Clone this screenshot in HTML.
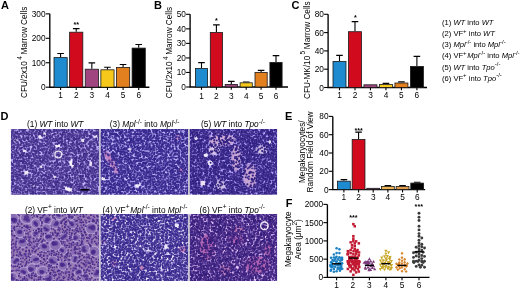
<!DOCTYPE html>
<html><head><meta charset="utf-8"><style>
html,body{margin:0;padding:0;background:#fff;width:520px;height:289px;overflow:hidden}
svg{display:block;font-family:"Liberation Sans", sans-serif;filter:blur(0.3px)}
</style></head><body>
<svg width="520" height="289" viewBox="0 0 520 289">
<defs><filter id="soft" x="-5%" y="-5%" width="110%" height="110%" color-interpolation-filters="sRGB"><feGaussianBlur stdDeviation="0.55"/><feColorMatrix type="saturate" values="1.0"/></filter><filter id="pb" x="-50%" y="-50%" width="200%" height="200%"><feGaussianBlur stdDeviation="1.0"/></filter><filter id="pb2" x="-50%" y="-50%" width="200%" height="200%"><feGaussianBlur stdDeviation="0.5"/></filter><clipPath id="c1"><rect x="10.9" y="129" width="88.3" height="65.7"/></clipPath><filter id="m1" x="0" y="0" width="1" height="1" color-interpolation-filters="sRGB"><feTurbulence type="fractalNoise" baseFrequency="0.28" numOctaves="2" seed="5"/><feColorMatrix type="matrix" values="0 0 0 0 0.478  0 0 0 0 0.384  0 0 0 0 0.722  3.0 0 0 0 -1.2"/></filter><clipPath id="c3"><rect x="100.4" y="129" width="87.9" height="65.7"/></clipPath><filter id="m3" x="0" y="0" width="1" height="1" color-interpolation-filters="sRGB"><feTurbulence type="fractalNoise" baseFrequency="0.28" numOctaves="2" seed="15"/><feColorMatrix type="matrix" values="0 0 0 0 0.416  0 0 0 0 0.345  0 0 0 0 0.722  3.0 0 0 0 -1.2"/></filter><clipPath id="c5"><rect x="189.5" y="129" width="87.6" height="65.7"/></clipPath><filter id="m5" x="0" y="0" width="1" height="1" color-interpolation-filters="sRGB"><feTurbulence type="fractalNoise" baseFrequency="0.28" numOctaves="2" seed="25"/><feColorMatrix type="matrix" values="0 0 0 0 0.369  0 0 0 0 0.290  0 0 0 0 0.675  3.0 0 0 0 -1.1"/></filter><clipPath id="c2"><rect x="10.9" y="214.1" width="88.3" height="66.8"/></clipPath><filter id="m2" x="0" y="0" width="1" height="1" color-interpolation-filters="sRGB"><feTurbulence type="fractalNoise" baseFrequency="0.28" numOctaves="2" seed="10"/><feColorMatrix type="matrix" values="0 0 0 0 0.541  0 0 0 0 0.408  0 0 0 0 0.722  3.0 0 0 0 -1.3"/></filter><clipPath id="c4"><rect x="100.4" y="214.1" width="87.9" height="66.8"/></clipPath><filter id="m4" x="0" y="0" width="1" height="1" color-interpolation-filters="sRGB"><feTurbulence type="fractalNoise" baseFrequency="0.28" numOctaves="2" seed="20"/><feColorMatrix type="matrix" values="0 0 0 0 0.431  0 0 0 0 0.361  0 0 0 0 0.737  3.0 0 0 0 -1.2"/></filter><clipPath id="c6"><rect x="189.5" y="214.1" width="87.6" height="66.8"/></clipPath><filter id="m6" x="0" y="0" width="1" height="1" color-interpolation-filters="sRGB"><feTurbulence type="fractalNoise" baseFrequency="0.28" numOctaves="2" seed="30"/><feColorMatrix type="matrix" values="0 0 0 0 0.361  0 0 0 0 0.267  0 0 0 0 0.643  3.0 0 0 0 -1.1"/></filter></defs>
<g clip-path="url(#c1)"><g filter="url(#soft)">
<rect x="10.9" y="129" width="88.3" height="65.7" fill="#c2b3f9"/>
<rect x="10.9" y="129" width="88.3" height="65.7" filter="url(#m1)"/>
<ellipse cx="57.5" cy="146" rx="2.8" ry="1.7" fill="#f6f2fc" filter="url(#pb2)" transform="rotate(0 57.5 146)"/>
<ellipse cx="70.8" cy="162.5" rx="1.5" ry="3.8" fill="#f6f2fc" filter="url(#pb2)" transform="rotate(0 70.8 162.5)"/>
<ellipse cx="72.5" cy="166" rx="1.8" ry="1.5" fill="#f6f2fc" filter="url(#pb2)" transform="rotate(0 72.5 166)"/>
<ellipse cx="26.5" cy="172.5" rx="2.8" ry="2.2" fill="#eee8f8" filter="url(#pb2)" transform="rotate(-35 26.5 172.5)"/>
<ellipse cx="68.5" cy="189.5" rx="4.0" ry="2.4" fill="#f6f2fc" filter="url(#pb2)" transform="rotate(25 68.5 189.5)"/>
<ellipse cx="40.3" cy="136.7" rx="1.8" ry="2.2" fill="#eee8f8" filter="url(#pb2)" transform="rotate(0 40.3 136.7)"/>
<ellipse cx="91" cy="164" rx="1.8" ry="2.8" fill="#e8e0f6" filter="url(#pb2)" transform="rotate(0 91 164)"/>
<ellipse cx="96" cy="136.7" rx="2.2" ry="1.8" fill="#e8e0f6" filter="url(#pb2)" transform="rotate(0 96 136.7)"/>
<ellipse cx="15.6" cy="140.6" rx="2.0" ry="1.8" fill="#e8e0f6" filter="url(#pb2)" transform="rotate(0 15.6 140.6)"/>
<ellipse cx="41.6" cy="166.6" rx="1.7" ry="1.7" fill="#e8e0f6" filter="url(#pb2)" transform="rotate(0 41.6 166.6)"/>
<ellipse cx="83" cy="140.6" rx="1.8" ry="1.8" fill="#e8e0f6" filter="url(#pb2)" transform="rotate(0 83 140.6)"/>
<ellipse cx="33.8" cy="186" rx="1.8" ry="1.6" fill="#e8e0f6" filter="url(#pb2)" transform="rotate(0 33.8 186)"/>
<ellipse cx="24.7" cy="151" rx="2.0" ry="1.6" fill="#e8e0f6" filter="url(#pb2)" transform="rotate(0 24.7 151)"/>
<ellipse cx="54.5" cy="177" rx="1.6" ry="1.6" fill="#e4dcf4" filter="url(#pb2)" transform="rotate(0 54.5 177)"/>
<ellipse cx="44" cy="134" rx="2.5" ry="1.2" fill="#e8e0f6" filter="url(#pb2)" transform="rotate(0 44 134)"/>
<ellipse cx="88" cy="152" rx="1.5" ry="1.5" fill="#e4dcf4" filter="url(#pb2)" transform="rotate(0 88 152)"/>
<ellipse cx="78" cy="176" rx="1.5" ry="1.5" fill="#e4dcf4" filter="url(#pb2)" transform="rotate(0 78 176)"/>
<path d="M55.7 127.2h0M58.1 127.4h0M14.9 128.9h0M18.9 128.9h0M40.0 130.2h0M85.7 129.5h0M15.7 132.2h0M17.5 131.5h0M19.2 130.9h0M44.5 130.9h0M80.1 133.6h0M84.0 133.6h0M84.9 135.2h0M61.1 137.3h0M31.4 139.0h0M53.7 138.6h0M56.6 138.7h0M62.0 139.0h0M48.3 139.6h0M101.7 139.8h0M17.8 142.2h0M68.1 142.2h0M68.7 143.7h0M23.8 145.0h0M23.8 146.5h0M26.7 146.6h0M37.8 146.7h0M83.4 146.1h0M16.5 149.3h0M94.4 148.0h0M16.8 150.6h0M85.2 150.2h0M38.2 151.2h0M69.3 151.5h0M96.2 151.5h0M24.3 152.9h0M45.2 154.2h0M76.8 153.5h0M85.2 153.7h0M24.2 155.6h0M38.5 155.1h0M41.6 157.4h0M79.3 157.3h0M15.4 159.0h0M82.8 157.7h0M87.5 158.8h0M94.8 159.0h0M15.7 160.6h0M25.9 159.6h0M58.7 159.8h0M78.4 160.9h0M100.9 159.4h0M51.8 162.1h0M80.5 161.5h0M22.5 163.3h0M34.0 163.8h0M52.0 166.2h0M52.5 165.9h0M100.4 164.8h0M42.9 166.3h0M74.5 169.4h0M39.2 169.7h0M69.1 170.3h0M29.2 171.3h0M32.0 172.4h0M89.2 174.1h0M48.9 176.3h0M74.0 174.7h0M13.2 177.1h0M72.5 177.7h0M33.0 178.1h0M38.0 181.3h0M76.4 181.4h0M93.2 181.4h0M35.9 181.9h0M46.6 181.9h0M69.0 182.2h0M12.2 184.2h0M19.7 184.1h0M12.1 186.1h0M29.9 187.8h0M79.9 187.2h0M17.8 188.6h0M43.2 189.3h0M51.1 189.6h0M64.2 188.2h0M89.1 189.0h0M27.8 190.6h0M92.6 192.0h0M12.5 194.0h0M24.7 194.9h0M38.7 193.6h0M60.9 193.7h0M16.8 196.7h0M59.9 196.7h0M69.2 196.6h0M73.1 195.9h0" stroke="#3e2c88" stroke-width="1.75" stroke-linecap="round" fill="none"/>
<path d="M15.8 127.3h0M70.4 128.2h0M77.3 128.9h0M91.9 127.9h0M32.2 130.9h0M87.5 131.4h0M65.9 132.8h0M98.4 132.4h0M34.5 134.3h0M93.9 134.1h0M81.3 136.4h0M40.9 139.5h0M67.4 139.1h0M11.9 143.7h0M33.2 142.6h0M44.3 143.5h0M64.5 143.0h0M76.3 143.5h0M77.9 143.1h0M96.0 142.5h0M53.9 145.3h0M60.9 145.5h0M69.2 145.8h0M90.8 145.1h0M50.5 146.2h0M63.1 149.2h0M69.0 150.5h0M70.2 150.5h0M74.6 150.9h0M50.9 153.8h0M89.3 153.2h0M16.4 155.3h0M25.0 156.1h0M57.3 157.6h0M30.3 158.0h0M31.3 159.8h0M99.7 160.0h0M15.2 161.9h0M54.7 162.8h0M44.5 163.7h0M75.2 164.0h0M13.7 166.0h0M19.8 165.3h0M45.7 166.1h0M75.0 166.0h0M85.2 165.4h0M52.8 166.5h0M45.9 168.5h0M93.9 168.9h0M99.0 168.9h0M65.2 170.5h0M81.8 169.6h0M20.0 172.2h0M46.7 172.4h0M98.6 171.4h0M38.0 175.4h0M62.0 175.8h0M52.5 176.8h0M97.6 176.7h0M27.1 178.8h0M9.9 179.9h0M21.8 180.8h0M74.8 181.4h0M18.8 182.2h0M66.6 183.1h0M83.1 182.1h0M100.2 183.4h0M16.6 184.9h0M31.7 185.7h0M82.8 186.0h0M71.7 187.1h0M97.1 187.1h0M52.8 189.6h0M77.3 189.9h0M20.4 190.5h0M31.7 191.1h0M38.3 190.0h0M23.7 192.7h0M20.5 193.5h0M27.8 193.8h0M93.2 195.4h0M96.7 195.1h0" stroke="#4c3a94" stroke-width="1.75" stroke-linecap="round" fill="none"/>
<path d="M27.0 127.2h0M47.7 127.6h0M63.3 127.9h0M72.6 128.7h0M78.8 128.5h0M93.3 127.3h0M97.2 127.6h0M98.3 127.4h0M101.4 128.5h0M22.4 130.2h0M43.6 129.9h0M64.5 129.6h0M66.2 130.4h0M73.3 129.8h0M88.9 129.7h0M96.3 129.5h0M26.8 132.2h0M39.6 131.0h0M40.7 131.7h0M63.3 131.6h0M64.1 131.3h0M75.8 131.7h0M17.3 133.1h0M42.5 134.0h0M51.7 132.3h0M60.2 133.5h0M64.3 132.5h0M86.3 133.7h0M97.5 133.3h0M23.2 135.5h0M24.6 134.0h0M50.2 135.2h0M52.3 135.1h0M60.4 134.2h0M68.2 135.5h0M73.9 135.4h0M81.5 135.5h0M83.2 135.0h0M89.9 135.7h0M96.6 134.0h0M28.2 137.2h0M31.8 136.1h0M33.4 137.3h0M35.8 136.6h0M46.8 136.6h0M62.3 136.8h0M77.6 136.4h0M84.1 136.6h0M98.8 137.1h0M16.4 138.5h0M19.9 137.6h0M44.1 138.8h0M50.5 137.9h0M65.0 137.5h0M71.4 137.5h0M73.3 138.8h0M79.8 137.7h0M91.8 137.3h0M99.8 137.4h0M11.4 140.5h0M27.7 139.4h0M65.3 139.6h0M74.3 140.2h0M75.6 139.1h0M87.7 140.1h0M88.7 139.2h0M99.1 140.7h0M30.3 141.5h0M37.5 141.8h0M47.4 141.3h0M60.2 141.8h0M61.9 141.2h0M62.6 141.2h0M68.8 140.9h0M13.3 142.9h0M23.6 143.1h0M50.9 143.7h0M81.8 142.8h0M83.8 143.0h0M91.0 143.2h0M97.6 143.8h0M16.0 145.0h0M35.4 144.4h0M72.3 145.4h0M78.0 144.5h0M93.1 144.1h0M97.5 145.2h0M12.0 146.7h0M17.3 147.0h0M22.1 147.4h0M38.5 145.9h0M46.7 145.8h0M70.5 146.5h0M77.4 146.4h0M91.6 147.6h0M11.3 147.8h0M24.3 148.6h0M28.2 148.7h0M32.8 148.8h0M35.3 147.9h0M41.9 148.9h0M44.1 148.5h0M60.9 148.8h0M29.1 149.4h0M35.8 150.4h0M39.1 150.3h0M42.4 150.0h0M60.1 150.8h0M72.5 149.9h0M78.3 149.7h0M12.8 152.1h0M17.6 152.5h0M52.7 152.1h0M56.3 152.1h0M61.6 152.3h0M63.7 151.5h0M76.2 152.6h0M100.7 151.2h0M36.0 152.9h0M39.9 153.3h0M54.6 154.1h0M57.4 154.3h0M61.1 152.7h0M65.6 154.3h0M68.9 153.7h0M74.5 152.9h0M50.3 155.0h0M54.5 154.7h0M98.0 154.8h0M100.4 155.3h0M12.2 156.3h0M16.4 157.2h0M46.5 156.6h0M53.2 157.4h0M89.3 156.7h0M97.7 156.2h0M17.4 158.5h0M32.0 159.1h0M44.2 158.1h0M47.5 157.8h0M49.8 158.6h0M56.4 158.6h0M58.8 157.9h0M89.4 159.3h0M100.7 158.5h0M40.7 160.8h0M65.7 159.8h0M80.4 159.4h0M20.3 161.4h0M25.0 161.7h0M33.6 161.8h0M36.1 162.5h0M38.1 161.9h0M47.7 161.5h0M57.1 161.7h0M79.0 161.4h0M86.5 161.9h0M24.1 163.7h0M40.8 164.4h0M57.2 162.9h0M58.1 163.9h0M60.7 163.8h0M66.0 163.4h0M68.4 164.1h0M76.0 164.4h0M82.1 163.2h0M97.2 164.1h0M13.0 165.0h0M27.6 165.1h0M32.9 165.8h0M49.4 164.8h0M58.3 164.8h0M64.4 165.0h0M94.6 165.1h0M11.9 167.9h0M17.4 166.5h0M31.2 166.5h0M37.6 166.6h0M58.0 167.7h0M80.0 166.4h0M85.9 167.0h0M93.3 167.9h0M12.6 168.0h0M14.0 169.5h0M20.1 169.2h0M36.2 169.3h0M41.2 169.2h0M46.8 168.6h0M49.7 168.7h0M52.6 168.4h0M61.2 168.5h0M79.1 169.1h0M19.4 169.8h0M22.5 169.9h0M30.4 171.1h0M51.6 169.9h0M82.6 170.5h0M84.8 170.4h0M12.3 172.4h0M18.7 171.5h0M22.5 172.5h0M36.0 172.4h0M38.3 172.4h0M44.0 171.5h0M46.3 172.7h0M55.5 172.9h0M61.6 172.8h0M75.3 172.4h0M77.3 171.8h0M85.6 171.9h0M91.6 172.2h0M94.3 172.2h0M20.2 174.5h0M35.6 173.6h0M56.8 174.1h0M59.4 173.6h0M61.8 173.7h0M64.6 174.5h0M66.8 173.4h0M69.2 173.6h0M80.5 173.1h0M85.8 174.1h0M87.8 174.1h0M93.5 173.9h0M99.3 174.3h0M13.4 176.2h0M15.4 176.3h0M16.9 174.8h0M54.9 174.7h0M56.5 174.8h0M72.1 174.9h0M82.9 175.5h0M17.2 176.7h0M29.1 176.7h0M41.4 176.9h0M47.0 176.7h0M48.6 176.8h0M67.1 177.8h0M85.9 176.4h0M9.6 178.6h0M35.3 178.8h0M53.1 178.4h0M58.6 178.8h0M81.0 179.5h0M82.6 178.4h0M89.4 178.6h0M93.3 178.6h0M96.5 179.6h0M97.7 178.7h0M17.3 180.0h0M26.0 180.5h0M39.0 181.1h0M45.1 180.1h0M51.0 180.8h0M53.6 181.1h0M55.3 181.2h0M59.0 180.1h0M67.9 180.7h0M48.2 183.2h0M50.7 182.9h0M55.1 182.7h0M74.2 183.1h0M76.8 182.7h0M94.0 182.4h0M24.2 183.6h0M70.6 183.9h0M81.6 184.3h0M20.3 185.6h0M22.5 185.8h0M29.5 186.0h0M45.0 185.5h0M50.7 185.8h0M55.5 184.9h0M84.9 185.6h0M92.3 186.3h0M99.0 185.3h0M17.5 187.5h0M34.3 187.9h0M41.1 187.2h0M43.8 188.1h0M58.1 186.6h0M77.3 186.7h0M82.6 186.9h0M88.3 186.6h0M95.5 188.2h0M100.2 186.7h0M20.7 189.7h0M37.2 189.6h0M48.9 189.7h0M63.0 188.4h0M13.5 190.0h0M17.6 190.8h0M25.2 191.6h0M54.9 190.0h0M72.7 190.3h0M78.9 190.3h0M90.0 190.4h0M93.7 190.7h0M16.4 192.3h0M22.5 193.0h0M25.8 192.1h0M32.1 192.9h0M33.0 192.5h0M35.0 192.3h0M44.6 193.0h0M51.2 191.6h0M62.3 192.4h0M77.9 192.7h0M81.0 192.0h0M86.1 192.7h0M97.8 192.7h0M15.0 194.8h0M23.1 194.5h0M30.8 193.8h0M33.8 193.8h0M43.5 194.5h0M45.3 194.5h0M52.6 194.7h0M64.7 194.6h0M74.7 194.4h0M84.1 194.1h0M12.3 196.0h0M23.7 196.7h0M37.0 196.5h0M79.4 196.5h0M94.5 196.2h0M98.1 195.5h0" stroke="#3e2c88" stroke-width="2.0" stroke-linecap="round" fill="none"/>
<path d="M18.3 127.9h0M21.1 128.7h0M28.5 127.6h0M41.1 128.8h0M44.1 127.5h0M46.9 127.6h0M95.3 127.8h0M10.4 128.9h0M47.4 130.5h0M56.8 130.2h0M58.8 129.9h0M80.5 130.4h0M89.7 129.8h0M94.5 128.9h0M11.5 131.8h0M22.5 131.6h0M68.5 131.1h0M71.4 131.2h0M92.0 131.4h0M24.6 132.5h0M34.3 133.3h0M46.7 133.1h0M55.0 133.7h0M57.6 133.3h0M76.1 132.4h0M78.4 132.6h0M91.7 133.5h0M101.3 132.4h0M11.8 134.8h0M41.6 134.8h0M55.8 134.1h0M65.1 134.7h0M75.5 134.8h0M26.3 137.3h0M48.7 135.9h0M50.2 136.8h0M55.5 136.4h0M57.5 136.8h0M65.1 136.3h0M79.8 136.8h0M11.8 138.1h0M14.1 138.6h0M25.9 138.4h0M36.2 137.6h0M45.2 138.1h0M55.4 138.4h0M66.7 138.8h0M88.4 138.9h0M98.8 138.7h0M12.9 139.7h0M23.5 139.6h0M31.6 140.1h0M33.4 139.5h0M44.6 140.6h0M59.3 139.7h0M62.4 140.3h0M71.5 140.5h0M80.1 140.2h0M95.3 140.6h0M49.4 141.9h0M51.3 142.0h0M65.2 141.2h0M79.1 140.7h0M81.0 142.4h0M89.6 142.1h0M14.6 143.4h0M18.2 143.3h0M25.4 142.5h0M26.7 143.6h0M39.5 143.0h0M48.9 143.3h0M59.6 143.0h0M65.8 142.8h0M79.9 143.2h0M88.5 144.1h0M93.8 143.9h0M37.3 145.0h0M39.4 145.7h0M44.5 145.6h0M50.2 145.8h0M68.1 145.4h0M81.8 145.1h0M83.1 145.8h0M98.6 144.9h0M101.5 145.6h0M18.9 147.0h0M52.5 147.2h0M54.7 147.1h0M62.8 147.3h0M68.6 146.4h0M80.4 146.0h0M99.6 147.4h0M9.8 148.8h0M14.7 147.8h0M25.6 149.1h0M29.3 148.2h0M45.4 149.0h0M54.3 148.0h0M71.1 148.1h0M84.3 149.2h0M89.6 148.4h0M15.0 150.6h0M31.8 150.4h0M33.0 150.3h0M44.1 150.0h0M58.9 150.8h0M79.2 150.8h0M87.6 149.4h0M97.0 150.8h0M99.2 150.0h0M42.0 150.9h0M43.5 152.3h0M48.9 152.0h0M66.3 151.8h0M80.8 151.9h0M89.0 152.3h0M17.8 153.0h0M32.8 153.8h0M43.1 152.9h0M60.6 153.4h0M71.8 154.3h0M80.7 153.1h0M93.6 152.7h0M97.7 153.7h0M11.2 155.1h0M35.1 154.9h0M36.7 155.8h0M44.8 155.1h0M61.8 155.8h0M64.0 155.7h0M80.7 155.2h0M90.2 155.6h0M19.1 157.0h0M31.2 156.1h0M51.3 156.7h0M54.9 156.4h0M74.5 157.5h0M81.3 156.9h0M20.7 157.7h0M26.9 158.8h0M45.9 158.5h0M57.8 159.4h0M63.1 159.2h0M67.9 158.7h0M81.6 158.9h0M90.3 159.0h0M39.3 160.3h0M46.7 159.5h0M53.7 159.6h0M59.6 159.6h0M63.8 159.6h0M85.0 159.5h0M16.6 161.3h0M29.2 162.7h0M59.7 162.7h0M61.8 162.1h0M82.5 161.1h0M100.4 162.7h0M43.4 163.3h0M52.5 163.1h0M77.8 163.7h0M83.5 164.1h0M99.0 163.5h0M10.6 165.8h0M21.8 165.8h0M36.2 164.6h0M46.8 164.5h0M55.0 165.3h0M68.4 164.5h0M78.0 164.6h0M83.0 165.1h0M95.5 166.1h0M14.3 167.2h0M29.9 166.7h0M38.4 166.4h0M63.9 167.2h0M78.6 167.1h0M25.2 168.5h0M100.7 169.0h0M11.8 169.9h0M16.9 171.2h0M34.5 171.2h0M45.9 170.3h0M50.7 170.3h0M54.1 169.7h0M55.9 169.6h0M57.4 171.3h0M68.6 170.2h0M73.7 170.8h0M40.9 172.2h0M51.7 172.5h0M65.8 171.7h0M10.5 173.9h0M13.9 174.0h0M28.9 174.4h0M42.0 173.2h0M43.2 174.4h0M72.1 174.3h0M95.5 173.0h0M12.1 176.1h0M30.2 174.9h0M33.0 174.9h0M35.0 176.4h0M36.9 176.0h0M57.6 176.0h0M93.8 175.5h0M97.4 175.9h0M29.9 176.8h0M34.1 176.5h0M38.7 177.6h0M51.0 177.3h0M63.1 177.5h0M69.4 177.4h0M16.5 178.1h0M41.3 179.0h0M55.5 178.8h0M60.2 179.5h0M27.6 179.8h0M61.4 180.4h0M63.1 180.1h0M78.5 181.1h0M90.0 180.0h0M92.2 180.4h0M16.2 182.6h0M26.8 181.8h0M29.7 182.6h0M39.8 182.9h0M41.1 183.0h0M43.6 182.7h0M59.8 183.1h0M64.0 182.8h0M79.8 183.2h0M81.7 182.5h0M86.4 182.0h0M87.3 182.3h0M94.9 181.5h0M18.2 183.2h0M21.4 184.1h0M32.2 183.3h0M51.6 184.5h0M55.0 183.3h0M61.3 184.6h0M26.1 185.0h0M63.1 185.1h0M74.6 186.3h0M79.7 185.1h0M88.8 186.3h0M90.4 186.1h0M10.5 187.1h0M13.2 186.8h0M21.0 188.0h0M27.7 187.7h0M47.1 186.8h0M74.2 186.9h0M86.5 188.1h0M91.5 187.1h0M24.7 189.5h0M35.1 189.4h0M39.9 189.7h0M94.7 188.3h0M99.9 189.7h0M11.0 191.1h0M29.6 190.8h0M41.8 190.5h0M43.7 190.1h0M52.3 191.0h0M57.0 191.6h0M59.7 190.3h0M64.6 190.5h0M66.3 191.4h0M73.7 191.2h0M75.9 191.3h0M20.2 192.6h0M40.0 193.1h0M49.0 192.5h0M54.6 192.3h0M57.7 192.4h0M68.1 192.5h0M18.9 194.9h0M48.1 194.8h0M71.2 194.2h0M88.2 193.7h0M92.6 193.7h0M20.8 195.8h0M30.1 195.6h0M48.0 195.2h0M49.6 195.4h0M74.4 196.6h0M76.1 196.0h0M81.0 196.1h0M87.2 195.7h0M90.7 196.1h0" stroke="#4c3a94" stroke-width="2.0" stroke-linecap="round" fill="none"/>
<path d="M10.5 128.8h0M60.1 128.4h0M71.8 128.5h0M76.2 128.5h0M81.5 127.4h0M83.1 127.2h0M87.8 128.0h0M88.4 128.9h0M25.6 129.2h0M30.2 129.3h0M31.6 129.7h0M44.9 128.9h0M49.2 130.2h0M56.1 130.4h0M61.9 129.1h0M62.8 129.8h0M68.5 129.9h0M71.6 129.9h0M74.1 128.9h0M77.2 130.0h0M82.2 129.6h0M29.4 131.7h0M36.8 131.7h0M42.5 132.1h0M50.6 131.1h0M57.6 132.0h0M66.7 132.0h0M78.8 130.6h0M86.2 132.0h0M90.5 131.9h0M96.2 132.3h0M97.4 132.3h0M11.8 132.5h0M31.5 132.6h0M35.9 133.2h0M62.7 133.1h0M86.7 133.2h0M93.5 133.9h0M94.8 132.9h0M14.3 135.3h0M17.9 133.9h0M29.9 134.6h0M32.0 135.2h0M38.7 134.4h0M44.4 135.6h0M47.1 134.5h0M54.1 134.4h0M58.4 135.3h0M68.9 134.7h0M87.7 135.3h0M98.4 134.7h0M100.9 134.5h0M11.5 136.1h0M16.9 136.9h0M23.5 137.2h0M36.7 136.5h0M42.2 135.8h0M72.1 136.0h0M76.5 136.6h0M87.4 136.0h0M90.0 136.6h0M27.6 138.0h0M67.9 138.8h0M84.3 137.4h0M86.1 139.0h0M96.3 138.6h0M19.7 140.1h0M28.5 139.2h0M52.6 139.6h0M56.2 140.0h0M96.3 140.3h0M12.5 141.4h0M20.9 141.2h0M21.8 141.9h0M29.0 141.0h0M34.2 142.3h0M36.0 140.8h0M42.6 140.9h0M46.0 141.4h0M57.6 141.1h0M93.8 141.7h0M100.2 142.1h0M21.3 143.0h0M37.3 142.6h0M72.1 144.0h0M73.2 142.8h0M100.1 142.5h0M10.7 144.8h0M20.5 145.2h0M41.4 145.7h0M45.9 145.2h0M52.0 144.8h0M57.5 144.1h0M61.7 144.9h0M79.2 144.2h0M85.8 145.8h0M90.2 145.3h0M94.5 144.3h0M90.0 146.7h0M95.3 146.9h0M17.2 147.9h0M20.0 148.7h0M21.2 148.2h0M47.1 149.0h0M57.4 148.8h0M58.6 148.1h0M69.4 148.9h0M71.7 148.6h0M74.4 147.7h0M79.6 149.1h0M99.7 147.8h0M11.2 150.3h0M21.7 150.5h0M40.6 150.0h0M49.6 149.9h0M54.6 149.7h0M75.2 150.3h0M82.9 149.7h0M88.9 149.9h0M16.4 151.5h0M20.9 151.4h0M34.4 151.1h0M38.8 152.6h0M46.7 151.7h0M50.7 151.9h0M92.2 151.4h0M18.4 153.3h0M35.3 153.7h0M45.6 152.9h0M49.1 153.2h0M55.9 152.7h0M87.0 153.7h0M91.6 154.2h0M12.7 154.6h0M28.1 155.2h0M33.1 154.4h0M55.9 155.3h0M66.4 155.0h0M68.0 154.7h0M72.6 155.0h0M80.1 155.9h0M83.7 155.1h0M85.9 155.3h0M93.0 154.7h0M95.5 154.8h0M14.5 157.0h0M26.0 156.3h0M33.6 156.2h0M62.1 156.4h0M63.1 157.0h0M83.6 156.7h0M85.8 157.0h0M91.8 156.3h0M40.0 158.7h0M65.8 158.3h0M74.9 158.6h0M79.1 158.6h0M96.9 157.7h0M98.7 158.5h0M13.9 160.3h0M17.3 160.5h0M19.5 160.8h0M23.9 161.1h0M28.7 160.3h0M42.9 160.2h0M43.8 159.8h0M52.1 159.4h0M56.7 160.2h0M68.3 159.5h0M84.0 160.2h0M86.6 160.9h0M92.0 160.6h0M13.9 162.1h0M26.2 162.8h0M40.3 161.7h0M66.2 161.5h0M67.4 162.4h0M88.3 162.1h0M95.3 161.6h0M10.7 163.0h0M26.2 163.4h0M29.1 163.9h0M35.1 163.4h0M39.9 164.2h0M49.2 163.1h0M50.9 163.3h0M73.2 163.9h0M81.0 164.2h0M88.4 163.0h0M93.3 163.4h0M18.7 165.0h0M24.3 166.2h0M25.2 166.0h0M56.8 165.4h0M60.2 165.0h0M87.5 165.1h0M25.3 167.7h0M27.8 167.4h0M35.6 167.5h0M45.6 167.2h0M56.2 166.3h0M70.2 166.8h0M74.4 166.7h0M97.8 167.4h0M100.1 167.0h0M23.4 168.2h0M31.5 168.1h0M33.4 168.7h0M43.1 168.4h0M57.4 168.5h0M62.9 169.1h0M70.2 167.9h0M73.6 168.5h0M87.1 169.6h0M92.1 169.0h0M96.1 169.5h0M36.4 170.8h0M61.3 170.6h0M76.5 170.5h0M77.4 170.4h0M87.8 171.3h0M94.7 170.4h0M97.2 169.6h0M99.4 171.0h0M15.7 172.7h0M53.0 171.3h0M70.4 172.9h0M77.9 172.7h0M12.3 173.0h0M17.3 174.3h0M22.3 173.4h0M48.6 174.5h0M53.5 173.3h0M55.3 174.4h0M73.6 173.2h0M76.0 174.5h0M42.5 175.8h0M45.9 175.8h0M69.4 175.8h0M85.9 175.9h0M88.6 174.9h0M92.0 175.6h0M99.6 175.0h0M21.8 176.5h0M77.5 177.3h0M79.9 176.4h0M80.7 177.8h0M92.3 176.8h0M98.9 176.4h0M18.2 178.2h0M24.4 178.8h0M31.8 179.2h0M37.7 179.6h0M44.6 178.4h0M47.6 178.4h0M56.4 178.8h0M68.7 179.6h0M70.3 178.4h0M72.6 179.5h0M75.0 178.7h0M57.1 181.1h0M72.4 180.8h0M85.4 181.1h0M96.3 180.3h0M25.5 182.2h0M34.1 183.1h0M36.4 182.6h0M44.7 182.2h0M56.7 182.5h0M58.2 182.3h0M69.4 182.6h0M91.8 182.5h0M100.0 181.7h0M13.2 184.2h0M25.0 183.2h0M38.5 183.5h0M40.7 183.3h0M62.9 183.4h0M67.1 184.8h0M68.4 184.7h0M72.5 184.4h0M77.6 184.3h0M98.4 184.7h0M25.1 186.4h0M28.3 185.3h0M37.3 184.9h0M42.3 185.1h0M48.4 184.9h0M52.7 186.0h0M65.7 185.3h0M69.7 185.3h0M95.7 185.8h0M26.2 187.0h0M39.1 188.2h0M53.3 187.1h0M78.9 186.6h0M93.4 187.1h0M19.4 189.0h0M32.5 188.9h0M44.4 189.5h0M53.8 189.9h0M57.5 189.6h0M83.6 188.7h0M97.2 188.7h0M33.0 191.4h0M35.4 190.5h0M50.3 191.5h0M62.5 190.9h0M82.8 190.2h0M87.2 191.3h0M12.7 191.8h0M41.5 193.3h0M43.5 192.8h0M58.6 193.2h0M67.5 191.8h0M74.6 192.3h0M84.5 191.9h0M90.5 193.1h0M32.7 194.2h0M36.0 193.9h0M57.5 194.1h0M59.3 193.6h0M62.5 194.8h0M78.6 194.1h0M85.8 194.7h0M94.4 194.2h0M96.6 193.4h0M14.1 195.2h0M26.9 196.3h0M28.0 196.3h0M39.3 195.3h0M43.7 196.6h0M66.5 195.9h0M83.5 195.2h0M88.7 196.6h0M100.6 196.4h0" stroke="#3e2c88" stroke-width="2.25" stroke-linecap="round" fill="none"/>
<path d="M13.2 128.8h0M16.4 128.5h0M33.7 128.2h0M37.0 127.4h0M38.9 127.4h0M42.0 127.3h0M50.3 128.7h0M51.5 127.6h0M53.7 128.8h0M61.1 128.1h0M20.1 129.5h0M24.3 129.3h0M38.1 129.8h0M40.7 129.3h0M91.9 130.4h0M25.0 130.9h0M32.9 130.8h0M36.0 132.1h0M47.4 131.6h0M55.3 130.7h0M59.5 130.8h0M61.3 130.7h0M74.1 130.7h0M82.2 131.8h0M94.0 132.3h0M12.9 133.3h0M26.9 134.0h0M31.9 133.6h0M41.0 134.0h0M49.9 133.1h0M68.1 133.8h0M72.4 133.9h0M73.6 133.7h0M80.7 134.0h0M13.5 134.8h0M18.7 135.4h0M26.1 134.6h0M41.0 134.2h0M48.1 135.4h0M63.6 134.6h0M79.5 135.5h0M90.9 135.3h0M28.4 136.2h0M58.0 136.5h0M66.3 136.4h0M67.6 136.9h0M73.4 136.9h0M86.7 136.3h0M10.0 137.6h0M18.5 137.6h0M22.5 138.5h0M23.8 138.7h0M30.5 137.6h0M82.6 137.9h0M90.0 137.9h0M33.9 140.5h0M38.6 139.7h0M46.5 140.8h0M50.3 140.2h0M54.8 140.6h0M64.7 140.1h0M93.4 139.3h0M11.0 142.2h0M26.8 142.0h0M31.9 141.3h0M52.9 141.1h0M86.6 141.7h0M90.2 142.2h0M29.0 144.0h0M51.8 144.0h0M70.9 144.0h0M18.8 144.7h0M24.4 145.5h0M30.1 145.2h0M48.0 144.3h0M74.4 144.6h0M28.5 146.2h0M34.4 146.9h0M40.2 146.6h0M43.1 146.2h0M64.6 145.8h0M66.8 147.1h0M72.7 145.8h0M73.6 147.3h0M86.1 146.3h0M94.2 146.1h0M32.3 149.1h0M37.8 148.1h0M38.8 148.2h0M66.7 147.9h0M76.5 149.1h0M92.8 147.8h0M95.3 148.5h0M46.4 150.8h0M50.4 150.9h0M66.1 149.5h0M73.7 149.6h0M81.7 150.5h0M95.7 150.7h0M9.5 151.2h0M31.5 151.7h0M55.3 151.8h0M58.5 152.0h0M65.0 151.8h0M71.0 151.2h0M98.8 152.2h0M21.8 154.0h0M29.1 153.1h0M30.7 153.1h0M51.6 154.3h0M64.0 153.4h0M67.9 153.0h0M75.8 152.9h0M78.9 153.3h0M15.1 155.7h0M30.3 155.3h0M42.4 155.8h0M59.6 155.5h0M70.4 154.6h0M73.7 155.8h0M75.7 154.9h0M86.6 154.9h0M21.1 156.8h0M30.2 156.0h0M36.3 156.4h0M69.3 157.6h0M76.8 156.8h0M84.8 157.1h0M90.5 156.4h0M100.1 157.4h0M11.4 157.7h0M12.3 157.9h0M23.2 158.8h0M34.5 157.9h0M42.5 158.3h0M53.5 158.9h0M61.1 158.0h0M34.5 160.3h0M37.2 160.6h0M47.8 160.2h0M61.8 159.8h0M73.9 160.1h0M29.8 162.3h0M44.8 161.3h0M86.0 161.9h0M98.5 162.0h0M16.7 163.0h0M18.1 163.4h0M19.2 163.4h0M47.6 163.8h0M54.3 163.8h0M62.8 163.2h0M86.6 163.2h0M30.4 165.8h0M37.4 164.9h0M62.6 165.4h0M92.8 165.2h0M98.6 164.7h0M46.3 167.8h0M48.3 167.6h0M62.5 167.0h0M65.7 167.8h0M67.9 167.3h0M16.6 168.1h0M18.3 168.5h0M22.3 169.1h0M27.4 169.3h0M30.4 168.2h0M40.0 168.9h0M54.5 169.5h0M65.2 168.6h0M76.2 168.4h0M80.7 168.7h0M81.8 168.1h0M90.6 168.0h0M13.3 170.4h0M15.3 169.9h0M26.2 169.9h0M40.1 169.7h0M42.2 170.0h0M43.7 170.3h0M47.5 169.7h0M79.7 171.2h0M89.4 170.3h0M92.7 170.9h0M10.2 173.0h0M13.8 172.1h0M49.3 172.1h0M63.0 172.6h0M80.4 171.9h0M88.8 172.4h0M89.8 172.7h0M96.7 171.9h0M99.4 171.7h0M15.0 174.6h0M38.0 174.6h0M45.5 174.6h0M46.6 173.2h0M50.2 174.2h0M60.4 174.2h0M97.2 174.6h0M25.5 176.1h0M26.2 175.7h0M29.2 174.9h0M40.3 175.3h0M51.9 175.7h0M63.2 174.7h0M74.9 175.9h0M77.0 174.7h0M78.9 175.5h0M95.0 175.2h0M15.2 176.5h0M18.4 177.3h0M24.6 177.3h0M27.5 177.9h0M36.5 176.4h0M62.7 177.2h0M66.3 176.9h0M74.4 178.0h0M75.1 177.3h0M88.8 177.3h0M22.5 178.1h0M39.5 178.5h0M65.2 179.3h0M66.0 178.9h0M77.2 178.8h0M77.8 179.5h0M83.9 178.9h0M88.4 178.1h0M99.6 179.4h0M12.0 180.2h0M16.8 180.4h0M20.3 180.7h0M35.1 179.8h0M43.4 180.3h0M47.0 179.8h0M80.8 180.8h0M84.4 180.7h0M99.5 179.9h0M12.9 181.5h0M17.0 182.7h0M21.0 181.9h0M23.2 183.1h0M52.7 182.3h0M62.6 182.6h0M78.6 181.5h0M97.5 182.4h0M27.3 184.0h0M29.0 183.2h0M44.6 184.4h0M58.6 184.9h0M80.7 184.1h0M86.1 184.6h0M88.7 183.7h0M95.5 183.2h0M11.1 186.1h0M15.1 185.8h0M18.0 186.5h0M35.5 184.9h0M39.7 185.7h0M43.6 186.2h0M60.2 186.6h0M62.1 185.3h0M87.2 184.9h0M94.9 185.0h0M19.7 188.1h0M44.4 187.9h0M62.7 187.0h0M83.3 188.0h0M90.2 186.9h0M13.9 189.7h0M24.0 189.2h0M27.5 189.5h0M29.3 189.9h0M61.0 189.3h0M73.3 188.5h0M76.5 188.5h0M85.4 189.6h0M87.3 189.7h0M91.8 189.0h0M92.6 189.6h0M47.2 190.7h0M48.1 191.7h0M80.1 190.0h0M97.1 190.3h0M99.7 191.0h0M18.7 192.0h0M30.2 191.7h0M47.5 192.7h0M52.6 192.8h0M81.7 191.7h0M96.1 192.2h0M66.5 194.3h0M69.2 194.5h0M73.6 193.6h0M76.5 193.3h0M90.4 193.4h0M21.9 195.8h0M42.3 195.1h0M51.6 196.5h0M57.9 195.2h0M63.9 196.6h0M70.3 195.4h0" stroke="#4c3a94" stroke-width="2.25" stroke-linecap="round" fill="none"/>
<path d="M22.0 128.5h0M33.2 127.5h0M33.6 129.9h0M36.4 129.6h0M54.1 128.9h0M98.0 129.0h0M23.0 130.8h0M48.4 132.0h0M53.7 131.6h0M72.0 131.7h0M80.1 131.8h0M84.7 131.7h0M15.7 133.1h0M21.0 133.5h0M39.2 133.1h0M69.7 133.4h0M28.1 133.9h0M62.1 135.0h0M14.8 136.8h0M91.3 137.3h0M33.5 138.2h0M47.1 138.0h0M49.8 137.8h0M59.4 138.5h0M61.0 138.4h0M74.1 138.3h0M76.6 138.9h0M78.8 138.5h0M15.3 140.6h0M24.6 140.0h0M36.3 140.3h0M69.4 139.4h0M55.2 140.7h0M76.8 142.3h0M85.5 141.3h0M58.8 142.7h0M61.8 143.0h0M26.7 144.5h0M32.7 144.8h0M64.1 144.1h0M65.7 144.9h0M14.0 146.9h0M24.5 145.9h0M33.5 147.3h0M76.8 146.0h0M81.2 146.5h0M53.2 149.2h0M65.3 148.1h0M78.0 148.0h0M27.7 150.4h0M52.3 150.6h0M64.1 149.4h0M93.7 149.2h0M36.5 151.4h0M46.1 152.4h0M79.0 151.3h0M10.8 154.2h0M15.4 154.1h0M23.5 153.6h0M26.9 154.0h0M84.1 153.9h0M100.7 153.7h0M20.0 155.3h0M20.3 154.9h0M23.0 155.1h0M58.3 154.8h0M91.5 154.8h0M10.2 157.4h0M22.7 156.5h0M28.7 156.3h0M37.3 157.4h0M39.8 156.5h0M47.8 156.9h0M94.5 156.8h0M18.1 158.3h0M23.7 159.4h0M29.1 158.2h0M76.3 157.9h0M84.9 159.3h0M93.4 157.9h0M21.5 160.9h0M76.0 160.1h0M95.7 159.6h0M23.0 161.9h0M32.0 162.7h0M42.4 162.1h0M55.4 162.6h0M73.8 161.9h0M76.0 162.5h0M12.3 164.1h0M16.5 165.8h0M31.3 164.8h0M76.3 166.2h0M79.8 166.0h0M75.9 166.4h0M82.0 166.7h0M90.3 167.4h0M96.4 166.2h0M50.7 168.3h0M85.1 169.1h0M20.7 170.1h0M32.6 170.9h0M72.0 169.7h0M90.5 170.8h0M101.8 171.2h0M34.2 172.9h0M66.8 171.3h0M23.2 173.1h0M38.4 173.5h0M82.8 173.1h0M19.2 175.3h0M20.6 175.1h0M44.9 175.3h0M50.7 175.5h0M66.1 175.4h0M67.5 175.6h0M80.7 176.1h0M23.6 177.8h0M60.1 177.2h0M82.7 176.5h0M87.8 176.8h0M95.1 176.8h0M12.5 179.6h0M13.5 179.6h0M26.0 178.2h0M43.4 179.1h0M49.3 178.2h0M62.3 178.1h0M31.3 179.8h0M49.2 181.1h0M65.6 180.9h0M87.9 181.4h0M12.6 183.0h0M30.9 182.8h0M9.5 183.8h0M32.9 184.4h0M56.3 184.7h0M64.8 184.5h0M76.1 184.7h0M71.1 185.0h0M32.4 187.5h0M35.3 187.3h0M54.5 187.1h0M70.6 187.1h0M15.6 188.2h0M47.0 189.6h0M56.4 189.0h0M79.0 188.8h0M81.5 189.6h0M15.7 190.0h0M59.2 191.6h0M9.7 191.8h0M27.2 191.8h0M60.2 192.3h0M65.7 191.9h0M70.4 192.5h0M94.7 191.6h0M10.0 194.3h0M26.7 194.6h0M39.2 194.1h0M51.0 193.7h0M34.2 196.0h0M52.7 195.4h0M61.1 195.3h0" stroke="#3e2c88" stroke-width="2.5" stroke-linecap="round" fill="none"/>
<path d="M31.3 128.1h0M65.2 128.2h0M67.9 127.6h0M12.8 130.4h0M99.6 129.4h0M13.3 131.1h0M99.0 131.3h0M19.6 133.9h0M23.1 133.2h0M48.5 132.5h0M36.1 135.5h0M71.1 135.0h0M77.3 135.6h0M95.0 134.4h0M14.0 136.3h0M19.2 137.1h0M51.9 137.0h0M69.4 136.8h0M98.4 136.3h0M20.9 139.5h0M41.7 140.2h0M58.2 139.4h0M77.4 140.6h0M85.3 140.6h0M16.7 142.2h0M72.6 141.2h0M91.9 141.7h0M96.8 141.7h0M31.3 142.6h0M35.7 143.7h0M40.2 143.9h0M42.4 143.4h0M47.3 143.2h0M55.8 143.7h0M85.1 143.3h0M89.7 144.0h0M14.1 145.8h0M17.8 145.1h0M42.2 145.6h0M76.5 145.3h0M48.6 147.3h0M87.0 147.5h0M51.3 148.0h0M86.9 148.6h0M88.6 148.5h0M13.2 149.2h0M37.8 150.3h0M57.0 150.7h0M62.4 149.3h0M14.2 152.4h0M22.1 152.6h0M73.3 151.6h0M82.9 151.4h0M86.4 151.8h0M90.8 151.6h0M93.7 151.8h0M38.5 153.1h0M95.6 154.1h0M99.2 153.6h0M46.1 155.6h0M47.6 155.9h0M99.2 154.7h0M44.2 156.7h0M49.4 157.4h0M59.4 156.5h0M65.7 157.6h0M67.3 157.4h0M72.8 157.5h0M95.8 156.3h0M35.4 158.6h0M38.9 157.9h0M50.8 158.6h0M69.4 158.7h0M27.3 160.8h0M33.4 159.5h0M50.5 159.5h0M69.6 159.5h0M81.7 160.9h0M92.9 160.3h0M96.6 160.3h0M10.7 162.2h0M18.6 162.2h0M46.0 162.2h0M93.1 161.9h0M27.6 164.2h0M38.3 164.1h0M65.6 164.3h0M66.7 165.3h0M15.8 166.2h0M19.2 166.7h0M21.4 166.5h0M23.2 167.4h0M55.1 167.7h0M83.5 167.3h0M91.1 167.9h0M9.7 168.2h0M67.0 169.4h0M68.3 169.2h0M29.4 171.0h0M59.7 170.0h0M64.5 171.2h0M39.6 172.5h0M72.4 171.6h0M83.2 171.6h0M84.3 173.0h0M34.1 173.7h0M83.4 173.0h0M91.8 173.1h0M22.6 176.1h0M60.5 176.2h0M101.1 175.4h0M11.1 176.9h0M32.7 176.7h0M91.6 176.4h0M19.9 178.6h0M28.9 178.2h0M92.7 179.1h0M14.7 180.6h0M24.5 180.6h0M29.0 181.0h0M33.0 181.3h0M41.6 180.3h0M67.6 181.4h0M70.4 180.0h0M82.1 180.9h0M98.0 180.6h0M89.1 181.5h0M35.9 184.0h0M37.7 184.6h0M46.7 183.2h0M49.4 183.9h0M89.4 184.8h0M92.3 184.7h0M93.0 184.3h0M48.9 185.5h0M56.8 186.5h0M67.9 186.3h0M81.1 186.4h0M101.2 185.5h0M11.4 187.5h0M15.9 187.1h0M24.3 187.4h0M48.3 186.6h0M51.7 187.6h0M57.0 187.0h0M61.3 187.1h0M10.8 188.8h0M30.5 189.9h0M39.3 189.7h0M22.3 190.8h0M23.4 190.3h0M45.6 190.5h0M83.8 191.3h0M85.9 190.0h0M91.8 191.5h0M96.3 191.3h0M14.2 192.2h0M38.4 192.7h0M73.2 192.7h0M76.3 193.3h0M99.9 192.2h0M17.2 195.0h0M49.1 193.4h0M54.9 194.8h0M80.1 193.8h0M99.1 194.8h0M31.1 196.3h0M35.8 196.5h0M54.7 195.6h0M85.0 196.1h0" stroke="#4c3a94" stroke-width="2.5" stroke-linecap="round" fill="none"/>
<circle cx="58.3" cy="154.5" r="3.4" fill="none" stroke="#f0ecf8" stroke-width="1.4" opacity="0.95"/>
<rect x="80.7" y="189" width="8.5" height="1.6" fill="#000"/>
</g></g>
<g clip-path="url(#c3)"><g filter="url(#soft)">
<rect x="100.4" y="129" width="87.9" height="65.7" fill="#c2bcff"/>
<rect x="100.4" y="129" width="87.9" height="65.7" filter="url(#m3)"/>
<ellipse cx="111" cy="162" rx="3.2" ry="14" fill="#c080c0" filter="url(#pb)" transform="rotate(-30 111 162)"/>
<ellipse cx="180" cy="170.4" rx="3" ry="2.5" fill="#c888c4" filter="url(#pb2)" transform="rotate(0 180 170.4)"/>
<ellipse cx="177.7" cy="137.4" rx="3" ry="2.5" fill="#c890c8" filter="url(#pb2)" transform="rotate(0 177.7 137.4)"/>
<ellipse cx="137.7" cy="185.7" rx="2.6" ry="2.1" fill="#ece8f8" filter="url(#pb2)" transform="rotate(0 137.7 185.7)"/>
<ellipse cx="103.5" cy="178.7" rx="2.1" ry="2.1" fill="#ece8f8" filter="url(#pb2)" transform="rotate(0 103.5 178.7)"/>
<ellipse cx="130" cy="150" rx="2" ry="1.6" fill="#e4dcf4" filter="url(#pb2)" transform="rotate(0 130 150)"/>
<path d="M119.0 127.5h0M156.1 128.5h0M171.2 128.2h0M125.0 133.2h0M133.9 134.0h0M150.9 133.4h0M176.4 133.5h0M117.4 134.9h0M168.1 135.1h0M108.3 137.1h0M112.1 136.6h0M127.2 136.1h0M99.8 138.6h0M119.9 138.8h0M188.2 138.8h0M121.8 139.3h0M162.1 140.4h0M102.4 140.7h0M121.9 140.7h0M128.1 141.9h0M123.7 143.1h0M110.9 145.3h0M138.3 145.2h0M114.3 146.5h0M142.9 146.2h0M147.9 146.0h0M140.2 148.4h0M116.1 150.9h0M127.6 150.7h0M150.0 150.1h0M154.7 150.1h0M156.9 149.6h0M181.5 150.0h0M124.7 151.6h0M107.7 154.2h0M112.9 155.7h0M135.2 155.0h0M152.3 155.8h0M149.8 157.4h0M160.5 157.2h0M168.3 157.5h0M175.2 157.6h0M119.7 159.3h0M138.0 158.6h0M175.3 158.1h0M126.8 159.7h0M152.2 159.5h0M133.7 161.6h0M163.7 161.3h0M167.4 162.5h0M180.4 162.4h0M119.3 162.9h0M122.9 163.5h0M188.5 163.6h0M126.6 164.8h0M145.6 164.5h0M152.0 165.3h0M169.3 165.1h0M117.0 167.1h0M124.8 167.1h0M138.4 167.1h0M140.2 167.8h0M177.3 167.6h0M104.2 169.2h0M131.7 168.5h0M151.8 169.8h0M185.1 170.2h0M111.6 172.6h0M177.3 172.2h0M113.5 173.2h0M128.1 173.0h0M134.0 175.8h0M139.5 175.0h0M145.7 175.9h0M157.4 175.3h0M99.9 176.9h0M168.0 177.3h0M121.4 178.9h0M173.5 181.0h0M174.5 180.3h0M188.6 180.6h0M157.1 181.7h0M167.9 182.6h0M170.1 183.2h0M111.8 184.5h0M176.7 184.6h0M180.8 187.6h0M107.8 189.1h0M125.5 189.6h0M144.7 189.8h0M128.7 190.1h0M147.9 190.1h0M153.1 191.0h0M155.1 193.1h0M114.8 195.0h0M171.3 193.3h0M174.9 194.9h0M177.5 193.8h0M125.4 195.3h0M160.8 196.3h0M164.0 196.3h0M173.4 196.5h0M184.3 195.8h0" stroke="#34268a" stroke-width="1.75" stroke-linecap="round" fill="none"/>
<path d="M105.7 127.4h0M132.9 128.0h0M143.2 128.0h0M169.5 127.8h0M175.8 128.9h0M130.8 130.0h0M132.1 129.3h0M133.4 130.3h0M108.4 131.0h0M126.0 132.3h0M180.9 132.1h0M159.9 132.7h0M123.4 135.5h0M157.5 135.3h0M131.0 136.1h0M168.1 137.3h0M173.1 136.0h0M179.6 137.1h0M113.1 138.1h0M102.4 140.8h0M114.8 140.8h0M130.6 139.9h0M137.0 140.7h0M104.0 141.0h0M109.8 141.8h0M142.6 141.4h0M151.3 142.5h0M183.8 140.7h0M103.5 143.3h0M107.2 143.5h0M142.5 143.1h0M147.1 144.0h0M151.7 142.9h0M170.8 143.2h0M175.6 143.3h0M165.8 145.4h0M170.8 144.3h0M117.7 147.2h0M122.8 146.8h0M128.7 147.2h0M156.6 149.3h0M164.2 148.4h0M134.4 150.5h0M144.4 149.6h0M163.8 150.5h0M112.4 152.1h0M149.1 152.5h0M152.8 151.0h0M190.4 152.0h0M151.5 153.7h0M189.9 153.3h0M135.1 157.5h0M182.7 159.1h0M185.4 158.7h0M111.9 160.6h0M133.5 160.9h0M188.4 161.1h0M124.4 164.4h0M135.9 164.4h0M156.0 162.9h0M169.4 164.5h0M180.0 163.4h0M103.6 165.8h0M149.2 167.8h0M158.0 167.5h0M187.1 167.4h0M124.1 168.5h0M163.2 167.9h0M166.7 169.0h0M163.0 169.7h0M167.7 171.6h0M110.6 173.6h0M138.5 174.0h0M144.2 174.4h0M183.4 173.6h0M129.7 176.2h0M172.1 175.4h0M139.4 177.5h0M145.8 178.0h0M148.3 178.5h0M143.9 180.8h0M180.5 180.8h0M117.8 183.0h0M172.2 182.0h0M188.6 182.3h0M172.9 184.2h0M187.8 184.8h0M128.5 186.6h0M157.2 188.0h0M123.3 188.3h0M117.4 191.6h0M165.0 193.0h0M131.8 194.9h0M137.2 194.6h0M158.1 194.1h0M137.4 195.2h0M140.4 195.9h0M152.4 195.3h0" stroke="#402f94" stroke-width="1.75" stroke-linecap="round" fill="none"/>
<path d="M106.9 128.8h0M116.5 128.9h0M126.8 127.2h0M129.0 127.2h0M134.4 128.1h0M145.9 128.1h0M148.8 128.3h0M167.5 128.8h0M172.8 128.6h0M114.7 129.3h0M116.8 130.1h0M119.8 130.0h0M126.0 129.5h0M162.1 129.9h0M172.7 130.1h0M183.4 129.1h0M185.2 130.6h0M102.3 130.9h0M105.5 131.4h0M118.4 130.8h0M122.7 130.9h0M144.9 131.9h0M159.7 131.8h0M166.7 131.1h0M171.8 130.8h0M173.6 132.1h0M177.0 131.5h0M186.9 131.3h0M101.8 133.1h0M112.2 133.6h0M145.7 133.3h0M153.7 132.4h0M168.3 133.8h0M171.4 133.9h0M173.1 133.8h0M106.1 135.3h0M113.2 134.2h0M165.1 134.6h0M180.0 134.8h0M181.5 134.2h0M184.7 134.9h0M119.2 136.9h0M147.1 136.4h0M150.7 136.5h0M153.1 137.2h0M164.6 136.7h0M187.5 135.9h0M104.2 138.4h0M109.2 137.5h0M127.4 138.5h0M138.8 138.4h0M144.8 138.7h0M147.3 138.5h0M156.4 138.7h0M169.5 138.5h0M170.2 137.7h0M105.2 140.3h0M127.0 139.4h0M142.0 140.3h0M165.5 139.2h0M172.9 139.8h0M175.5 140.5h0M186.3 140.2h0M120.6 141.0h0M122.8 141.3h0M134.7 141.3h0M158.7 141.2h0M178.5 142.0h0M179.4 141.2h0M185.7 141.7h0M100.8 142.6h0M109.3 144.0h0M116.3 144.0h0M127.1 142.8h0M133.7 143.8h0M124.4 144.3h0M131.3 145.1h0M154.7 145.7h0M187.0 144.3h0M105.3 147.0h0M110.3 147.1h0M135.4 147.2h0M139.0 147.4h0M153.2 146.3h0M157.1 146.5h0M179.4 147.3h0M186.9 147.3h0M100.3 148.6h0M104.7 147.9h0M113.0 148.8h0M123.7 149.1h0M142.9 148.0h0M108.0 149.5h0M122.5 149.4h0M125.8 149.4h0M131.6 150.5h0M142.3 149.3h0M154.7 152.6h0M164.2 151.7h0M168.2 151.6h0M102.6 153.5h0M103.1 153.9h0M120.2 153.8h0M133.0 152.7h0M156.8 153.0h0M174.8 153.5h0M178.9 152.8h0M186.5 153.2h0M111.5 154.9h0M120.8 154.7h0M122.8 154.8h0M143.1 154.5h0M149.7 154.9h0M154.1 154.8h0M160.3 154.3h0M174.0 155.1h0M175.8 154.8h0M189.7 155.6h0M100.7 156.5h0M116.8 156.8h0M121.5 157.6h0M143.6 157.6h0M165.7 156.8h0M178.4 157.2h0M183.8 156.9h0M103.4 159.4h0M136.5 158.1h0M143.8 157.7h0M146.0 159.2h0M161.1 158.8h0M148.0 160.9h0M154.1 160.5h0M172.6 159.4h0M173.1 160.4h0M101.0 162.4h0M102.6 162.5h0M116.0 162.3h0M128.5 162.5h0M140.2 161.4h0M150.1 161.3h0M171.1 161.8h0M186.7 162.1h0M99.6 163.2h0M104.5 162.9h0M131.5 163.5h0M140.6 164.0h0M142.7 164.3h0M154.9 164.4h0M157.3 163.9h0M172.4 164.2h0M175.2 163.0h0M182.0 164.3h0M112.4 164.5h0M155.7 165.9h0M158.5 166.0h0M163.1 164.9h0M181.2 164.7h0M127.6 167.3h0M150.8 167.6h0M155.8 167.7h0M163.5 167.6h0M120.0 168.0h0M133.3 169.3h0M137.5 168.9h0M145.2 168.2h0M146.8 168.7h0M150.5 168.5h0M152.6 169.5h0M167.8 168.1h0M173.9 168.2h0M181.4 168.1h0M184.3 169.1h0M185.3 168.5h0M100.9 170.4h0M125.0 170.6h0M127.1 170.2h0M134.5 170.9h0M142.6 170.4h0M143.6 171.1h0M154.5 170.0h0M157.8 170.2h0M165.9 170.0h0M103.1 172.7h0M128.4 171.9h0M134.4 172.3h0M141.5 171.6h0M144.2 172.1h0M153.1 171.4h0M173.9 172.1h0M188.6 171.3h0M107.4 173.7h0M120.4 174.3h0M133.0 174.2h0M143.9 174.1h0M153.6 173.1h0M157.2 173.3h0M158.7 174.0h0M161.7 173.1h0M171.8 173.7h0M103.3 176.1h0M106.8 175.9h0M110.3 175.5h0M126.8 175.2h0M130.9 175.5h0M140.6 175.1h0M151.4 175.8h0M154.0 175.9h0M160.3 175.2h0M185.7 175.7h0M187.3 175.7h0M112.2 177.4h0M117.9 178.0h0M133.0 176.9h0M136.5 176.9h0M142.4 176.7h0M144.7 177.4h0M161.4 177.3h0M189.3 177.1h0M123.3 179.2h0M126.8 178.1h0M133.7 179.6h0M146.7 178.5h0M158.3 178.4h0M160.2 179.3h0M178.8 178.5h0M186.5 178.5h0M108.8 181.0h0M110.8 179.8h0M123.8 181.2h0M129.1 180.0h0M133.0 180.2h0M139.8 180.5h0M144.9 180.8h0M152.9 181.2h0M162.0 180.9h0M167.4 180.3h0M177.0 181.3h0M111.8 181.8h0M145.3 182.4h0M154.6 182.0h0M165.8 183.0h0M173.3 183.0h0M177.4 182.2h0M106.9 184.4h0M116.4 184.8h0M121.9 183.3h0M133.6 184.0h0M138.1 183.4h0M150.3 184.7h0M153.3 183.3h0M155.4 184.3h0M165.3 184.3h0M178.4 184.7h0M119.6 186.2h0M133.1 185.4h0M158.0 185.6h0M164.2 186.3h0M170.8 186.2h0M178.3 186.5h0M181.8 186.3h0M183.2 185.2h0M108.1 188.1h0M112.2 187.7h0M115.2 187.0h0M139.9 187.2h0M150.2 187.1h0M173.1 186.5h0M101.8 189.5h0M116.3 189.8h0M130.6 189.3h0M149.4 188.8h0M152.1 189.6h0M153.8 189.8h0M179.4 189.2h0M182.5 188.8h0M103.7 190.1h0M113.3 190.7h0M115.6 191.1h0M134.8 191.7h0M164.0 190.1h0M166.7 191.0h0M168.4 190.8h0M185.7 191.0h0M190.2 191.5h0M113.1 192.6h0M114.9 192.2h0M120.9 192.7h0M124.8 193.1h0M130.9 192.0h0M137.5 192.7h0M144.3 192.1h0M149.7 192.2h0M157.5 192.7h0M168.9 193.1h0M178.4 191.7h0M187.1 192.4h0M105.5 193.9h0M107.6 194.2h0M110.8 194.2h0M121.0 194.0h0M141.0 194.7h0M143.9 194.3h0M169.1 194.1h0M167.7 196.6h0M187.5 196.2h0" stroke="#34268a" stroke-width="2.0" stroke-linecap="round" fill="none"/>
<path d="M108.7 127.7h0M131.0 127.3h0M138.6 127.3h0M143.8 128.9h0M165.8 127.3h0M107.2 130.5h0M110.5 130.1h0M124.5 129.9h0M143.7 130.3h0M152.6 129.4h0M159.5 129.7h0M169.7 130.3h0M181.6 129.2h0M188.6 130.3h0M116.6 130.8h0M153.1 131.6h0M156.0 130.7h0M175.5 132.0h0M190.2 132.0h0M119.1 133.1h0M140.2 133.1h0M141.8 133.6h0M148.9 133.8h0M161.5 133.2h0M163.1 133.9h0M178.7 133.8h0M185.3 133.1h0M187.9 133.8h0M107.4 135.3h0M116.1 135.2h0M125.7 134.7h0M128.2 135.1h0M131.0 134.3h0M139.1 134.8h0M159.5 135.3h0M161.5 135.5h0M162.3 134.8h0M114.6 136.3h0M121.7 136.3h0M126.2 135.8h0M129.2 136.0h0M136.7 136.5h0M141.4 136.7h0M142.9 135.8h0M149.4 136.9h0M157.8 136.8h0M163.0 136.3h0M166.0 136.6h0M170.1 135.7h0M173.6 136.6h0M189.3 137.2h0M114.8 137.4h0M125.8 138.8h0M144.3 138.4h0M183.7 137.8h0M187.2 138.9h0M119.6 139.8h0M124.2 140.6h0M145.8 139.1h0M153.0 140.6h0M155.2 140.7h0M166.4 139.8h0M170.1 139.1h0M188.6 139.4h0M108.4 141.6h0M126.0 141.1h0M137.7 140.8h0M164.6 142.1h0M166.3 142.4h0M174.8 141.2h0M190.6 141.1h0M110.5 143.3h0M122.2 143.3h0M129.1 142.5h0M143.2 143.6h0M160.6 143.3h0M165.9 143.5h0M173.7 142.5h0M180.3 143.1h0M188.1 143.0h0M106.0 145.1h0M112.7 145.5h0M117.7 145.1h0M120.6 145.2h0M122.8 145.9h0M135.5 144.1h0M142.2 144.8h0M143.8 145.4h0M147.2 144.6h0M149.4 145.6h0M156.8 145.0h0M159.3 145.5h0M169.9 145.0h0M176.5 144.5h0M118.5 147.1h0M121.2 147.4h0M132.4 146.4h0M141.0 147.1h0M157.7 146.8h0M162.0 146.3h0M186.2 147.3h0M104.0 148.1h0M110.0 148.3h0M111.4 147.9h0M121.6 148.1h0M149.1 147.7h0M173.1 148.6h0M176.9 149.0h0M185.1 149.1h0M101.6 150.8h0M105.2 150.9h0M105.8 150.2h0M136.4 149.6h0M153.6 150.1h0M166.6 149.4h0M176.7 150.6h0M104.2 151.6h0M109.7 151.1h0M116.2 151.2h0M123.7 151.4h0M139.8 151.5h0M150.5 151.3h0M157.1 152.1h0M174.9 151.1h0M182.3 152.6h0M116.2 153.7h0M123.9 152.9h0M127.8 153.8h0M146.1 153.9h0M152.5 152.8h0M171.6 153.4h0M175.5 153.8h0M179.2 153.0h0M99.5 155.3h0M124.8 154.5h0M132.0 154.3h0M148.6 154.3h0M157.8 155.0h0M164.0 155.2h0M167.0 155.4h0M181.8 155.3h0M184.5 155.4h0M111.8 157.0h0M133.4 157.7h0M154.4 157.0h0M164.2 157.3h0M171.7 157.5h0M173.6 157.3h0M101.3 158.2h0M104.1 158.3h0M125.5 158.8h0M128.3 159.4h0M148.8 158.6h0M166.8 158.2h0M185.8 159.0h0M101.5 159.8h0M104.0 159.4h0M104.9 159.9h0M118.6 161.0h0M134.8 160.2h0M139.8 160.8h0M146.8 159.8h0M162.8 159.6h0M164.8 160.5h0M170.2 160.9h0M174.8 160.8h0M185.7 159.6h0M106.4 161.7h0M110.3 162.2h0M126.6 161.8h0M137.9 161.3h0M152.0 162.1h0M174.0 162.8h0M101.0 163.4h0M127.6 163.7h0M129.3 164.1h0M174.0 164.2h0M185.4 163.2h0M120.6 165.7h0M125.1 165.1h0M130.5 165.5h0M143.5 165.7h0M147.3 165.6h0M157.5 164.6h0M161.1 165.6h0M165.3 165.7h0M102.4 167.4h0M103.7 166.7h0M114.1 167.6h0M119.1 166.2h0M134.4 167.2h0M151.9 167.0h0M154.2 167.9h0M168.1 167.5h0M171.9 166.4h0M182.4 167.7h0M100.3 168.2h0M110.6 168.1h0M125.8 168.8h0M140.6 169.3h0M149.3 168.7h0M160.5 168.5h0M169.3 169.0h0M175.8 168.2h0M117.4 169.9h0M146.5 169.9h0M155.6 171.3h0M166.8 170.4h0M101.2 171.6h0M104.8 172.3h0M107.9 172.0h0M110.0 173.0h0M131.6 172.7h0M135.4 172.2h0M137.3 172.9h0M139.6 172.7h0M157.7 172.4h0M160.3 171.9h0M164.4 171.5h0M118.2 174.6h0M124.8 173.6h0M130.7 174.4h0M134.4 174.3h0M137.9 173.7h0M149.4 174.2h0M151.2 174.3h0M167.9 173.5h0M174.6 173.9h0M177.0 174.4h0M113.2 174.8h0M121.6 175.1h0M134.6 175.6h0M142.4 176.0h0M146.1 176.1h0M158.1 176.2h0M162.0 175.6h0M164.8 175.5h0M166.8 174.9h0M168.0 174.8h0M178.0 176.4h0M179.5 176.2h0M182.5 175.7h0M190.5 176.2h0M107.1 177.9h0M122.9 177.3h0M185.6 176.7h0M113.2 179.5h0M138.2 178.2h0M145.2 178.4h0M163.5 178.7h0M168.6 179.1h0M100.6 181.3h0M102.7 181.0h0M118.4 181.0h0M120.4 181.3h0M135.4 180.6h0M141.0 179.8h0M150.7 180.7h0M163.6 181.0h0M165.2 181.4h0M104.9 181.6h0M115.2 183.1h0M140.7 181.8h0M146.1 182.8h0M162.6 182.7h0M176.1 182.0h0M182.9 181.7h0M124.5 184.2h0M130.1 183.8h0M150.6 183.3h0M170.7 184.3h0M181.8 183.6h0M101.5 184.9h0M142.4 185.0h0M163.2 186.2h0M168.5 186.4h0M176.4 185.4h0M100.1 187.8h0M102.1 187.5h0M103.8 186.9h0M118.6 188.3h0M122.6 187.0h0M126.3 188.2h0M140.6 186.7h0M181.9 188.2h0M183.6 187.7h0M186.1 188.2h0M189.3 187.7h0M104.4 188.8h0M119.0 189.8h0M128.0 189.8h0M136.4 188.9h0M159.0 189.9h0M163.8 189.8h0M169.3 189.7h0M170.7 188.3h0M176.1 188.4h0M177.2 188.9h0M181.2 188.9h0M185.7 188.7h0M102.1 190.1h0M125.6 190.4h0M126.9 191.6h0M133.1 191.2h0M149.2 191.4h0M151.1 190.2h0M172.3 190.6h0M136.5 193.0h0M145.5 192.2h0M176.5 192.2h0M187.9 191.7h0M133.0 194.5h0M138.8 194.7h0M150.3 193.7h0M173.1 194.1h0M181.5 193.3h0M184.3 193.7h0M105.1 195.3h0M112.9 196.3h0M133.6 195.1h0M136.6 195.8h0M164.8 196.7h0M171.9 196.0h0M178.9 195.0h0M180.9 196.2h0" stroke="#402f94" stroke-width="2.0" stroke-linecap="round" fill="none"/>
<path d="M101.6 128.9h0M103.0 128.1h0M113.8 128.7h0M121.7 128.8h0M122.2 127.4h0M158.8 128.0h0M159.8 128.6h0M164.2 128.5h0M180.0 127.5h0M185.6 128.8h0M188.1 128.8h0M101.7 130.2h0M104.4 129.4h0M108.4 129.3h0M118.4 129.6h0M145.3 130.5h0M155.5 129.1h0M163.6 130.3h0M175.4 129.6h0M176.4 130.0h0M179.0 129.5h0M115.8 130.7h0M126.2 131.1h0M129.8 131.6h0M135.0 132.0h0M146.6 130.9h0M148.7 131.8h0M162.4 131.2h0M169.3 131.9h0M102.9 132.3h0M105.4 133.0h0M106.4 132.7h0M120.2 132.7h0M121.6 132.9h0M144.0 132.3h0M156.7 133.7h0M182.4 133.5h0M186.6 132.7h0M100.2 134.2h0M104.9 135.1h0M120.2 134.6h0M122.6 135.2h0M140.9 134.2h0M143.9 135.3h0M151.2 135.4h0M154.2 135.5h0M167.2 134.3h0M172.4 135.0h0M174.6 135.2h0M186.0 135.2h0M122.9 136.1h0M134.1 137.3h0M154.1 136.4h0M182.0 135.7h0M186.0 136.5h0M129.6 138.4h0M133.6 138.9h0M140.8 138.2h0M161.8 138.1h0M100.8 139.8h0M107.5 139.6h0M116.9 140.3h0M117.6 140.7h0M125.0 139.4h0M130.9 140.5h0M132.9 140.0h0M136.3 140.4h0M150.7 139.9h0M179.3 139.3h0M182.4 140.8h0M111.5 141.6h0M138.4 140.7h0M152.5 140.9h0M156.4 140.8h0M175.5 141.3h0M129.7 143.8h0M146.4 143.6h0M155.6 143.2h0M157.1 143.8h0M164.1 143.1h0M176.3 142.8h0M100.3 145.1h0M109.5 144.5h0M128.0 145.4h0M134.2 145.8h0M145.8 144.4h0M175.7 145.0h0M179.8 145.7h0M181.4 145.7h0M184.0 145.8h0M101.7 147.1h0M107.3 146.5h0M137.1 146.5h0M149.8 146.8h0M153.7 146.4h0M160.9 146.5h0M163.4 146.8h0M167.3 146.2h0M182.1 146.7h0M183.8 145.8h0M124.5 149.0h0M132.8 148.8h0M134.7 147.6h0M137.4 148.0h0M158.8 147.7h0M166.0 148.3h0M176.3 147.8h0M180.1 148.2h0M151.4 149.7h0M169.0 149.8h0M173.7 150.9h0M184.6 151.0h0M186.3 150.6h0M187.7 149.9h0M99.4 152.5h0M101.5 152.0h0M113.2 152.4h0M120.0 151.7h0M122.0 151.8h0M126.8 152.4h0M131.9 150.9h0M143.3 151.9h0M144.8 152.5h0M159.0 151.2h0M185.0 151.6h0M188.1 151.3h0M99.6 152.7h0M105.6 153.3h0M112.1 153.7h0M130.8 153.6h0M135.6 152.9h0M142.5 152.9h0M145.3 152.6h0M154.2 153.7h0M168.7 152.7h0M102.3 155.2h0M128.4 155.3h0M136.2 154.8h0M144.4 155.2h0M156.3 155.9h0M170.2 155.2h0M177.4 154.4h0M182.6 155.4h0M188.1 155.8h0M103.5 156.6h0M113.4 156.9h0M115.6 156.2h0M138.1 156.8h0M140.0 156.3h0M147.0 156.0h0M152.1 156.6h0M179.0 156.1h0M112.5 159.3h0M114.6 158.3h0M121.8 159.3h0M163.3 157.9h0M179.6 159.1h0M187.8 157.8h0M116.3 160.4h0M130.4 160.7h0M136.6 161.0h0M138.8 160.1h0M142.8 160.2h0M157.0 161.0h0M157.4 160.2h0M179.0 160.8h0M182.0 159.6h0M187.1 160.1h0M189.9 160.0h0M121.4 162.5h0M129.7 162.5h0M131.6 162.4h0M141.1 161.1h0M146.8 162.3h0M160.6 162.2h0M165.7 161.1h0M146.2 163.0h0M161.2 163.3h0M165.3 164.5h0M183.0 163.6h0M101.4 165.0h0M127.5 166.2h0M135.3 166.2h0M138.0 165.4h0M141.8 165.7h0M172.1 166.1h0M174.9 165.8h0M184.1 165.5h0M131.2 166.8h0M145.6 167.8h0M165.5 166.4h0M173.9 166.3h0M185.6 167.5h0M106.0 168.4h0M108.5 168.8h0M121.6 168.0h0M157.2 169.6h0M164.5 167.9h0M172.0 169.3h0M179.3 169.1h0M118.6 170.5h0M120.9 170.0h0M132.3 170.8h0M137.7 170.1h0M140.9 170.0h0M162.0 169.6h0M172.8 170.0h0M177.7 171.2h0M179.0 171.2h0M183.0 169.8h0M189.7 170.7h0M119.3 172.2h0M125.4 171.9h0M147.9 172.7h0M155.1 172.0h0M172.3 172.2h0M180.9 171.7h0M100.2 174.4h0M106.3 173.6h0M112.0 174.4h0M165.8 174.0h0M185.8 174.2h0M188.2 173.7h0M99.7 175.5h0M108.1 175.7h0M124.9 175.8h0M137.5 175.4h0M149.4 176.4h0M175.8 175.1h0M184.1 176.0h0M126.8 177.8h0M130.5 177.7h0M134.6 177.6h0M147.8 176.5h0M156.4 177.2h0M165.5 176.4h0M170.6 176.9h0M107.5 178.2h0M141.8 178.6h0M142.6 179.4h0M150.4 179.2h0M157.2 178.5h0M175.0 179.3h0M181.8 179.5h0M106.7 181.2h0M113.9 180.7h0M125.2 181.5h0M131.1 179.8h0M170.3 181.1h0M178.1 181.4h0M182.6 181.1h0M102.8 183.1h0M112.8 181.5h0M142.8 182.5h0M147.7 182.3h0M179.8 182.4h0M185.1 182.6h0M188.2 181.9h0M100.4 184.2h0M105.3 184.4h0M114.1 183.9h0M117.6 183.2h0M119.7 184.1h0M127.3 184.8h0M135.9 183.3h0M159.2 184.2h0M161.9 184.4h0M181.5 183.8h0M109.2 186.5h0M111.2 186.4h0M113.3 185.3h0M118.0 185.1h0M121.3 186.2h0M127.2 185.6h0M145.6 184.9h0M146.4 185.3h0M154.7 186.4h0M174.9 185.1h0M180.6 185.1h0M189.5 185.5h0M110.4 187.6h0M114.2 188.1h0M133.7 187.9h0M149.0 186.7h0M155.2 187.2h0M168.6 187.9h0M110.5 189.9h0M132.2 189.1h0M139.7 188.4h0M141.8 189.9h0M146.5 189.3h0M161.5 188.4h0M166.2 189.5h0M172.9 188.8h0M100.7 191.0h0M108.4 191.0h0M120.1 190.8h0M122.2 189.9h0M123.8 190.4h0M143.8 191.4h0M170.8 190.9h0M173.5 190.5h0M178.3 190.8h0M183.7 190.8h0M187.8 190.6h0M104.1 193.3h0M105.8 192.5h0M116.8 193.0h0M140.9 191.9h0M161.0 192.3h0M181.4 191.7h0M182.7 193.3h0M183.9 192.8h0M103.5 194.3h0M115.1 194.6h0M123.7 194.5h0M128.5 194.8h0M145.0 194.9h0M146.3 194.4h0M148.9 194.7h0M155.1 194.7h0M167.1 193.6h0M100.4 195.8h0M103.8 195.8h0M117.2 196.7h0M128.1 195.7h0M130.0 196.3h0M141.3 195.0h0M154.4 195.4h0M158.1 196.5h0" stroke="#34268a" stroke-width="2.25" stroke-linecap="round" fill="none"/>
<path d="M152.0 127.4h0M181.3 127.8h0M183.1 127.4h0M102.3 129.7h0M139.6 129.7h0M142.7 130.3h0M172.1 129.9h0M103.2 131.5h0M113.2 131.0h0M137.3 131.0h0M139.6 131.4h0M141.2 131.3h0M155.2 130.9h0M157.7 130.6h0M165.0 130.9h0M167.7 130.8h0M110.1 133.7h0M116.3 133.8h0M126.6 132.4h0M130.4 133.8h0M131.3 133.3h0M136.7 133.9h0M137.5 133.5h0M146.9 132.9h0M165.9 132.6h0M175.7 132.6h0M102.3 134.2h0M110.9 134.4h0M129.6 135.5h0M133.2 134.3h0M144.5 135.5h0M171.0 134.1h0M101.3 137.0h0M105.6 135.6h0M109.9 135.6h0M118.3 136.1h0M135.5 135.9h0M139.4 136.4h0M109.7 137.4h0M116.1 138.5h0M121.9 138.6h0M137.0 139.0h0M149.9 137.8h0M151.8 138.3h0M152.4 138.1h0M158.9 138.2h0M164.7 138.5h0M174.3 138.8h0M175.9 137.4h0M178.9 137.4h0M105.8 139.8h0M143.5 140.6h0M148.8 139.1h0M158.3 140.0h0M161.9 139.4h0M169.6 140.1h0M180.5 139.4h0M105.7 141.7h0M113.6 141.8h0M115.0 141.7h0M117.5 142.2h0M130.2 141.9h0M144.2 141.2h0M148.6 140.7h0M154.7 141.2h0M162.5 142.1h0M172.4 142.4h0M181.4 140.9h0M119.3 143.4h0M131.7 142.6h0M135.9 143.2h0M149.4 144.2h0M167.7 144.0h0M178.3 143.6h0M185.3 142.9h0M102.9 144.1h0M114.1 144.6h0M116.9 144.7h0M126.5 144.6h0M130.7 145.6h0M154.0 145.8h0M162.9 144.1h0M172.8 145.5h0M182.5 144.7h0M111.7 146.8h0M116.0 146.2h0M124.7 147.5h0M127.9 147.1h0M131.3 146.9h0M144.4 146.4h0M147.2 146.2h0M173.2 147.5h0M189.6 146.2h0M100.7 148.2h0M107.7 149.1h0M114.3 148.8h0M118.5 148.9h0M153.8 147.9h0M161.4 147.9h0M170.2 148.4h0M172.0 148.6h0M181.4 149.2h0M184.2 148.8h0M188.9 148.8h0M115.0 149.9h0M121.1 149.7h0M123.4 150.8h0M139.2 150.3h0M146.0 149.4h0M160.1 149.9h0M171.0 149.4h0M128.6 151.1h0M137.3 152.6h0M147.1 152.6h0M161.0 151.7h0M167.1 151.9h0M172.6 152.3h0M175.2 151.6h0M179.2 151.5h0M116.8 152.8h0M128.7 154.1h0M140.3 154.1h0M148.2 153.9h0M158.9 153.8h0M161.0 153.6h0M162.3 153.6h0M166.1 153.1h0M181.7 153.2h0M184.1 154.0h0M188.1 152.8h0M103.2 155.1h0M130.5 155.7h0M139.6 154.5h0M171.1 154.7h0M179.1 155.1h0M101.5 157.7h0M123.0 157.6h0M124.7 156.5h0M137.8 156.9h0M144.1 156.3h0M148.3 156.5h0M155.9 156.4h0M161.5 157.3h0M170.7 157.6h0M182.0 156.2h0M189.5 156.7h0M134.6 158.3h0M140.6 159.1h0M141.4 159.2h0M147.0 159.3h0M159.2 158.7h0M169.4 158.5h0M176.6 157.8h0M180.8 158.1h0M98.9 159.8h0M109.2 160.5h0M122.3 159.6h0M160.5 160.2h0M118.0 161.4h0M124.6 161.8h0M153.2 162.8h0M154.8 162.1h0M176.8 161.9h0M103.4 163.5h0M107.3 163.7h0M112.3 162.9h0M121.4 163.7h0M132.1 163.4h0M139.0 163.6h0M144.6 163.3h0M150.7 164.2h0M151.5 163.3h0M159.6 163.5h0M163.6 163.6h0M115.3 165.1h0M116.9 165.4h0M176.1 166.0h0M99.2 166.7h0M109.0 166.8h0M123.7 167.0h0M128.0 166.5h0M132.6 166.7h0M159.6 166.8h0M162.4 167.4h0M183.7 166.8h0M188.6 167.0h0M101.3 168.2h0M128.7 169.2h0M135.1 168.8h0M143.7 168.8h0M187.9 169.2h0M110.9 171.1h0M128.4 171.0h0M147.1 170.5h0M170.1 171.3h0M175.1 171.1h0M186.2 171.1h0M106.0 172.1h0M130.0 171.6h0M146.1 172.2h0M158.6 172.8h0M178.2 171.7h0M182.0 172.5h0M101.8 173.5h0M121.8 174.5h0M122.8 173.3h0M140.8 174.6h0M155.6 173.4h0M159.8 174.2h0M163.7 173.7h0M179.6 173.7h0M181.9 173.9h0M190.0 173.9h0M102.2 175.9h0M114.9 175.6h0M118.9 176.0h0M124.1 175.7h0M152.1 176.2h0M114.2 176.8h0M125.7 176.4h0M155.1 176.4h0M158.2 177.7h0M160.3 177.6h0M177.7 177.2h0M181.9 177.0h0M184.3 178.0h0M106.0 178.2h0M110.9 178.7h0M115.4 179.6h0M119.7 178.8h0M134.9 178.7h0M152.5 179.3h0M170.5 179.3h0M172.0 179.3h0M128.2 180.2h0M137.8 181.1h0M155.2 181.4h0M158.7 180.5h0M99.0 182.2h0M100.9 182.2h0M106.9 181.9h0M109.4 182.3h0M123.8 181.5h0M125.0 183.1h0M126.4 181.5h0M131.3 183.1h0M133.4 182.8h0M135.4 182.9h0M136.7 181.5h0M137.8 181.7h0M150.0 182.3h0M164.2 182.5h0M103.1 184.3h0M109.1 184.1h0M126.1 183.4h0M132.0 184.5h0M142.1 184.3h0M145.8 183.8h0M156.7 183.6h0M162.6 183.5h0M183.9 184.3h0M186.9 184.4h0M108.0 185.7h0M115.0 185.3h0M131.2 186.4h0M156.8 184.9h0M171.7 186.6h0M186.2 185.2h0M120.3 188.1h0M124.5 187.0h0M143.3 188.3h0M146.9 187.1h0M153.5 187.8h0M161.4 186.7h0M162.7 187.2h0M166.2 186.7h0M188.2 187.0h0M115.1 189.2h0M126.5 188.5h0M148.9 188.4h0M187.3 188.4h0M188.3 189.7h0M109.9 190.6h0M131.4 191.6h0M137.8 190.6h0M139.6 190.2h0M140.9 190.4h0M144.3 190.5h0M180.7 191.3h0M100.4 191.8h0M122.0 193.1h0M131.2 192.1h0M151.2 192.3h0M101.0 194.2h0M101.8 194.4h0M117.3 195.0h0M125.4 193.5h0M160.8 194.7h0M164.6 193.6h0M177.0 193.7h0M180.3 194.0h0M186.9 193.9h0M187.7 194.0h0M190.1 193.8h0M107.2 195.6h0M114.7 196.5h0M145.5 195.1h0M150.0 195.1h0M155.7 195.4h0M169.3 196.6h0M175.5 195.8h0M178.1 196.0h0M183.7 196.2h0M188.6 196.0h0" stroke="#402f94" stroke-width="2.25" stroke-linecap="round" fill="none"/>
<path d="M111.2 127.6h0M141.0 128.3h0M150.8 127.2h0M161.7 128.5h0M113.1 129.2h0M149.0 130.1h0M157.1 130.5h0M167.4 130.3h0M187.5 130.2h0M99.3 132.2h0M109.5 131.6h0M120.7 131.8h0M130.9 130.6h0M149.8 131.2h0M115.1 133.9h0M156.2 132.5h0M111.8 134.0h0M137.3 134.0h0M148.6 134.2h0M177.6 134.0h0M187.8 135.4h0M100.7 136.0h0M103.3 137.2h0M116.6 135.6h0M156.9 136.2h0M102.3 138.0h0M123.1 137.5h0M131.2 138.9h0M162.7 138.5h0M172.5 137.6h0M139.9 139.6h0M147.6 139.9h0M176.0 140.2h0M190.0 139.2h0M100.6 142.0h0M130.6 142.1h0M133.4 141.9h0M141.4 141.8h0M160.3 141.1h0M168.5 140.9h0M187.3 141.5h0M105.1 144.0h0M121.2 142.6h0M182.9 143.8h0M162.1 144.7h0M167.0 146.6h0M117.9 148.6h0M126.4 148.5h0M150.8 148.8h0M101.9 149.4h0M111.1 149.8h0M138.5 149.3h0M161.9 149.9h0M175.8 150.8h0M118.1 151.0h0M135.8 151.9h0M183.1 152.3h0M114.2 154.1h0M121.3 153.2h0M124.8 152.8h0M114.5 154.5h0M126.1 155.9h0M120.0 157.2h0M128.0 157.4h0M187.1 156.6h0M129.8 158.8h0M131.6 157.9h0M154.1 159.0h0M155.0 158.9h0M165.8 158.8h0M124.8 159.6h0M149.8 159.5h0M105.2 161.4h0M120.5 161.3h0M143.2 162.7h0M145.6 162.7h0M179.4 162.8h0M167.2 163.6h0M177.5 162.9h0M187.0 164.4h0M104.9 165.3h0M131.5 165.8h0M149.7 164.6h0M153.0 164.5h0M170.7 165.5h0M189.2 164.5h0M106.8 166.3h0M141.9 166.2h0M145.2 167.4h0M176.0 167.8h0M111.2 168.9h0M113.4 169.6h0M127.8 169.3h0M155.4 169.2h0M157.8 168.8h0M177.2 168.8h0M189.5 168.3h0M103.9 171.0h0M104.7 169.7h0M106.6 170.1h0M160.1 170.1h0M171.1 170.5h0M123.5 171.7h0M148.8 172.2h0M163.7 172.7h0M187.2 171.9h0M130.1 174.1h0M146.4 174.0h0M178.3 173.8h0M118.5 175.2h0M114.8 176.9h0M121.7 177.3h0M129.5 176.5h0M150.0 177.3h0M153.2 176.4h0M173.9 177.8h0M175.7 177.8h0M130.9 178.5h0M140.0 179.5h0M154.3 179.3h0M181.1 179.7h0M188.8 179.1h0M122.9 180.4h0M149.1 180.9h0M158.0 181.5h0M168.4 181.4h0M184.9 179.9h0M160.4 182.6h0M110.6 183.7h0M169.3 184.1h0M175.0 183.2h0M99.7 186.5h0M105.5 185.4h0M122.8 185.0h0M153.4 185.1h0M127.4 188.1h0M129.4 188.1h0M174.3 188.3h0M176.0 187.1h0M103.6 189.1h0M112.9 188.5h0M121.6 189.7h0M134.0 189.1h0M156.1 189.1h0M102.1 192.2h0M110.7 192.7h0M118.7 191.8h0M134.7 192.3h0M140.2 191.8h0M152.7 192.4h0M167.7 192.8h0M174.7 192.8h0M120.3 193.8h0M134.8 194.9h0M153.5 194.9h0M156.6 194.2h0M163.0 194.4h0M108.4 196.3h0M122.0 195.9h0M147.2 196.3h0" stroke="#34268a" stroke-width="2.5" stroke-linecap="round" fill="none"/>
<path d="M100.3 127.5h0M115.6 128.4h0M136.0 128.7h0M154.1 127.8h0M177.1 128.2h0M121.8 129.6h0M128.9 129.5h0M136.6 129.1h0M138.0 130.0h0M153.7 130.2h0M164.6 129.3h0M112.2 131.3h0M132.6 130.6h0M143.3 131.1h0M186.1 132.1h0M128.8 132.3h0M181.0 133.4h0M134.9 134.0h0M147.5 135.0h0M189.8 135.4h0M145.8 137.0h0M176.5 136.7h0M183.4 136.5h0M106.2 137.9h0M136.3 138.7h0M155.9 138.1h0M183.0 138.1h0M110.8 140.6h0M157.6 139.1h0M146.4 142.2h0M170.5 142.3h0M138.1 143.3h0M140.2 143.3h0M153.3 144.1h0M159.9 143.1h0M168.3 144.1h0M187.6 142.6h0M168.0 145.7h0M189.4 144.4h0M169.5 147.3h0M146.6 148.1h0M152.9 148.5h0M159.3 149.0h0M187.9 148.2h0M148.3 149.2h0M182.9 150.5h0M132.3 151.3h0M141.3 151.4h0M161.9 151.6h0M178.1 151.0h0M136.4 154.2h0M138.5 153.0h0M108.6 155.2h0M117.3 155.8h0M138.3 155.9h0M145.5 154.7h0M162.5 155.1h0M166.1 154.9h0M131.8 157.0h0M185.1 156.7h0M116.8 159.2h0M119.3 158.8h0M151.3 158.0h0M171.1 158.0h0M112.8 159.7h0M115.0 160.1h0M120.4 160.5h0M128.1 160.7h0M144.5 160.0h0M165.2 159.9h0M177.8 160.9h0M183.3 161.1h0M135.3 162.0h0M168.9 162.3h0M172.2 162.1h0M109.0 164.3h0M116.7 163.4h0M134.3 163.6h0M149.0 164.3h0M122.3 166.0h0M139.8 165.0h0M167.2 164.7h0M178.7 164.5h0M182.5 165.9h0M187.0 165.6h0M111.3 167.9h0M121.2 167.0h0M136.8 167.2h0M169.5 167.9h0M180.4 166.8h0M118.3 169.2h0M138.7 168.5h0M112.8 169.7h0M122.7 170.8h0M130.4 170.7h0M136.5 169.6h0M149.6 170.6h0M121.6 172.4h0M150.7 172.6h0M170.7 172.8h0M184.2 171.6h0M104.4 173.2h0M115.9 174.5h0M171.1 173.9h0M111.1 174.9h0M170.3 176.4h0M174.0 174.8h0M104.0 176.4h0M141.3 177.3h0M164.9 177.6h0M171.9 176.9h0M187.5 176.5h0M100.1 179.3h0M112.5 178.9h0M117.1 178.1h0M175.6 179.4h0M183.6 178.8h0M189.3 178.4h0M112.1 180.8h0M148.3 181.1h0M119.3 181.6h0M121.1 181.8h0M128.9 182.2h0M153.0 182.6h0M159.0 182.2h0M181.1 182.6h0M143.1 183.7h0M147.9 183.8h0M103.7 185.0h0M124.7 185.6h0M160.6 185.8h0M165.8 185.7h0M188.4 185.0h0M145.6 186.9h0M159.1 187.7h0M165.1 187.9h0M170.6 186.7h0M177.9 187.2h0M138.2 189.8h0M106.3 190.8h0M112.6 191.0h0M157.2 190.6h0M161.4 190.8h0M163.2 190.4h0M108.3 192.5h0M127.4 191.7h0M148.3 191.9h0M159.8 191.9h0M162.4 193.3h0M170.2 193.1h0M173.4 193.2h0M130.1 194.1h0M111.2 195.9h0M127.0 196.2h0M144.3 195.6h0M160.4 196.7h0" stroke="#402f94" stroke-width="2.5" stroke-linecap="round" fill="none"/>
</g></g>
<g clip-path="url(#c5)"><g filter="url(#soft)">
<rect x="189.5" y="129" width="87.6" height="65.7" fill="#b7a8ff"/>
<rect x="189.5" y="129" width="87.6" height="65.7" filter="url(#m5)"/>
<ellipse cx="222" cy="140" rx="13" ry="6" fill="#d0acd8" filter="url(#pb)" transform="rotate(0 222 140)"/>
<ellipse cx="214" cy="150" rx="6" ry="5" fill="#d8c4e8" filter="url(#pb)" transform="rotate(0 214 150)"/>
<ellipse cx="236" cy="158" rx="5" ry="13" fill="#c8a4d4" filter="url(#pb)" transform="rotate(0 236 158)"/>
<ellipse cx="250" cy="176" rx="7" ry="12" fill="#c8a4d4" filter="url(#pb)" transform="rotate(0 250 176)"/>
<ellipse cx="262" cy="150" rx="6" ry="5" fill="#d0c0e4" filter="url(#pb)" transform="rotate(0 262 150)"/>
<ellipse cx="205.5" cy="155" rx="2.6" ry="2.1" fill="#eeeaf8" filter="url(#pb2)" transform="rotate(0 205.5 155)"/>
<ellipse cx="210" cy="163" rx="2.7" ry="2.3" fill="#eeeaf8" filter="url(#pb2)" transform="rotate(0 210 163)"/>
<ellipse cx="203" cy="183.3" rx="3.1" ry="2.6" fill="#ece2f4" filter="url(#pb2)" transform="rotate(0 203 183.3)"/>
<ellipse cx="196" cy="138" rx="2" ry="2" fill="#e4dcf4" filter="url(#pb2)" transform="rotate(0 196 138)"/>
<ellipse cx="270" cy="142" rx="2" ry="2" fill="#e4dcf4" filter="url(#pb2)" transform="rotate(0 270 142)"/>
<ellipse cx="220" cy="185" rx="6" ry="5" fill="#d0c0e4" filter="url(#pb)" transform="rotate(0 220 185)"/>
<path d="M236.4 127.9h0M192.7 129.5h0M210.7 129.7h0M216.3 129.4h0M247.8 129.7h0M253.3 130.4h0M198.1 130.8h0M256.4 132.7h0M272.4 132.5h0M278.1 133.6h0M209.9 133.9h0M189.8 135.4h0M221.5 136.7h0M208.3 137.7h0M246.1 137.4h0M275.0 138.3h0M199.9 139.7h0M218.7 139.1h0M227.7 139.8h0M270.8 139.4h0M260.8 142.9h0M188.4 144.5h0M252.3 143.4h0M239.5 146.3h0M257.7 146.5h0M270.6 146.1h0M276.0 146.2h0M268.1 146.9h0M191.4 149.6h0M196.9 148.5h0M201.8 149.7h0M215.0 148.8h0M220.5 149.8h0M239.0 149.3h0M218.3 149.9h0M264.4 151.1h0M272.8 150.0h0M241.5 153.0h0M252.6 151.8h0M271.2 152.3h0M189.4 156.7h0M201.7 156.2h0M266.2 157.2h0M189.3 158.3h0M230.5 158.4h0M265.7 159.4h0M265.9 159.0h0M191.6 159.6h0M194.3 160.5h0M220.9 161.0h0M231.5 160.9h0M267.0 161.0h0M214.1 162.1h0M199.4 163.0h0M257.0 163.2h0M267.6 164.1h0M254.5 165.8h0M258.5 164.4h0M261.6 164.3h0M265.7 165.7h0M273.6 165.8h0M212.3 166.8h0M269.6 167.2h0M221.2 167.8h0M222.4 167.9h0M233.7 167.7h0M189.3 169.4h0M201.9 170.0h0M223.5 170.7h0M215.0 171.9h0M231.8 170.8h0M251.8 172.2h0M217.9 173.7h0M205.3 174.7h0M223.7 174.2h0M196.1 176.6h0M259.4 175.8h0M206.1 178.8h0M208.3 178.0h0M227.8 177.7h0M261.0 179.4h0M226.5 181.7h0M265.7 182.0h0M217.9 184.7h0M271.3 185.0h0M193.9 186.8h0M198.9 185.6h0M215.8 185.6h0M267.2 185.3h0M268.4 185.8h0M270.6 186.3h0M229.8 187.0h0M232.1 187.6h0M233.4 188.0h0M259.6 188.3h0M214.9 188.6h0M249.0 188.8h0M253.5 189.6h0M273.6 189.9h0M206.4 190.7h0M221.1 191.4h0M230.9 190.7h0M276.1 190.8h0M258.4 193.1h0M248.4 194.1h0M189.3 195.0h0M233.1 195.0h0" stroke="#302080" stroke-width="1.75" stroke-linecap="round" fill="none"/>
<path d="M233.1 128.8h0M259.5 128.7h0M192.8 131.3h0M234.7 131.6h0M255.9 132.2h0M202.3 135.2h0M232.2 134.0h0M244.4 134.4h0M247.9 135.3h0M214.3 136.8h0M237.2 135.8h0M251.8 135.4h0M264.7 136.0h0M272.6 137.0h0M189.4 139.7h0M205.1 141.8h0M243.9 141.2h0M210.4 143.1h0M235.5 142.0h0M273.0 143.1h0M227.5 143.4h0M267.0 146.3h0M211.4 146.6h0M226.1 147.8h0M255.4 146.9h0M203.6 149.0h0M235.7 148.4h0M251.1 149.8h0M254.9 149.1h0M273.5 150.6h0M204.0 153.0h0M249.4 152.3h0M208.3 153.4h0M243.6 157.8h0M210.9 159.2h0M222.1 158.9h0M189.4 159.6h0M218.1 160.1h0M229.8 160.2h0M242.0 163.6h0M196.6 164.6h0M213.6 165.4h0M239.8 164.5h0M196.9 167.2h0M212.9 166.6h0M252.1 168.3h0M220.1 169.5h0M203.2 170.9h0M257.1 170.9h0M266.7 170.9h0M252.0 172.6h0M207.0 175.6h0M278.5 178.3h0M210.0 179.5h0M256.8 179.1h0M262.2 179.8h0M224.3 180.5h0M230.5 181.6h0M240.3 181.6h0M253.4 181.5h0M263.7 180.5h0M237.3 182.6h0M270.0 182.4h0M199.4 184.5h0M248.0 187.8h0M224.6 189.1h0M278.5 188.9h0M261.0 190.4h0M212.8 192.2h0M193.1 193.4h0M253.8 194.2h0M196.3 196.2h0M220.7 195.3h0" stroke="#3c2a8a" stroke-width="1.75" stroke-linecap="round" fill="none"/>
<path d="M190.0 128.8h0M197.9 128.6h0M222.7 128.1h0M262.6 128.7h0M278.0 128.1h0M193.8 129.7h0M206.9 128.9h0M218.7 129.8h0M225.3 129.6h0M241.6 129.7h0M249.1 129.2h0M265.3 129.0h0M274.4 130.2h0M275.6 129.1h0M213.1 131.9h0M228.1 131.4h0M231.5 132.0h0M248.5 131.1h0M255.4 130.6h0M258.6 132.1h0M264.5 130.9h0M270.9 131.2h0M203.3 132.9h0M225.2 133.3h0M231.4 132.4h0M252.0 132.9h0M266.0 132.9h0M192.7 134.9h0M223.4 134.7h0M240.8 135.3h0M268.6 135.0h0M273.6 134.9h0M193.1 135.9h0M203.9 135.5h0M218.6 136.0h0M254.2 136.7h0M258.6 136.5h0M276.5 136.1h0M277.9 135.8h0M203.5 137.9h0M205.6 138.1h0M244.3 137.9h0M253.5 137.5h0M257.8 137.1h0M201.9 139.5h0M202.8 139.8h0M211.1 139.5h0M219.2 138.9h0M256.2 139.4h0M263.0 138.6h0M272.7 139.6h0M203.1 140.5h0M216.8 140.4h0M234.7 141.8h0M277.8 140.6h0M199.3 142.8h0M246.0 141.9h0M271.8 142.1h0M279.2 143.3h0M205.1 144.9h0M238.9 143.5h0M264.7 144.6h0M201.1 146.1h0M208.3 146.5h0M222.5 146.6h0M240.7 145.9h0M256.0 145.9h0M199.5 147.4h0M201.5 147.6h0M203.4 147.0h0M207.5 147.8h0M208.7 147.5h0M213.8 146.9h0M217.8 147.1h0M231.2 147.6h0M241.8 148.0h0M246.4 146.7h0M250.1 148.0h0M271.8 147.7h0M221.6 149.7h0M223.9 149.2h0M226.6 148.6h0M236.6 149.0h0M241.3 148.4h0M250.3 149.2h0M271.5 149.4h0M191.8 150.4h0M195.6 150.3h0M211.0 151.3h0M214.7 150.4h0M222.9 150.2h0M242.8 150.6h0M245.7 150.9h0M255.7 151.4h0M270.3 150.1h0M190.4 151.5h0M207.8 151.7h0M219.6 151.9h0M222.4 152.1h0M224.2 151.5h0M226.5 153.0h0M228.3 151.4h0M250.5 152.0h0M257.0 152.1h0M265.0 152.1h0M268.6 151.5h0M276.5 151.7h0M196.1 153.0h0M198.5 154.6h0M246.6 153.8h0M247.9 154.5h0M254.9 154.6h0M259.5 154.3h0M270.3 154.5h0M197.7 154.9h0M227.6 155.4h0M243.1 155.3h0M265.1 156.0h0M267.9 156.0h0M276.2 155.1h0M197.5 157.0h0M211.6 157.6h0M218.1 157.1h0M226.0 157.8h0M235.1 157.1h0M254.3 157.4h0M263.9 157.2h0M276.8 157.2h0M195.9 158.3h0M200.0 158.7h0M218.1 158.9h0M254.1 158.9h0M222.0 159.5h0M239.3 160.8h0M242.9 160.7h0M249.9 160.3h0M254.3 160.2h0M264.1 160.7h0M265.2 160.4h0M275.3 160.0h0M196.2 162.3h0M227.6 161.1h0M231.5 162.1h0M239.0 161.5h0M241.8 162.3h0M264.9 161.4h0M202.2 163.6h0M210.6 162.8h0M221.1 162.7h0M224.0 164.2h0M254.9 163.0h0M262.8 163.0h0M263.7 163.5h0M273.1 163.3h0M276.2 162.9h0M204.3 165.2h0M212.2 165.8h0M224.3 165.4h0M225.9 165.5h0M238.0 165.1h0M244.7 165.8h0M256.9 165.3h0M268.1 164.8h0M201.9 167.1h0M207.8 166.0h0M216.6 166.5h0M230.5 167.0h0M231.8 166.9h0M243.8 166.4h0M258.9 166.9h0M193.2 168.1h0M215.5 167.9h0M217.1 167.9h0M227.6 167.7h0M247.8 168.5h0M261.0 168.9h0M271.6 167.9h0M277.9 168.7h0M190.7 169.8h0M207.8 170.4h0M240.8 169.2h0M269.6 169.7h0M270.0 170.2h0M274.7 170.0h0M193.0 171.0h0M194.2 171.8h0M198.6 171.3h0M200.6 170.7h0M206.8 171.1h0M209.7 171.3h0M218.3 171.3h0M237.7 171.3h0M241.3 171.0h0M260.7 172.3h0M274.1 172.0h0M195.8 173.6h0M196.6 173.6h0M206.4 173.2h0M218.4 172.3h0M229.8 173.4h0M278.1 173.5h0M188.7 175.1h0M190.5 175.3h0M209.4 174.9h0M210.2 174.1h0M213.2 175.6h0M227.7 174.8h0M229.6 174.6h0M234.4 174.5h0M263.2 174.6h0M273.7 175.0h0M189.3 175.7h0M198.7 176.0h0M211.3 176.1h0M265.6 175.9h0M200.1 177.6h0M254.8 178.1h0M258.3 177.3h0M267.5 177.3h0M191.7 179.5h0M197.3 179.9h0M215.9 179.9h0M222.5 179.8h0M252.3 180.2h0M254.0 179.5h0M195.0 180.7h0M195.9 180.9h0M236.0 180.8h0M239.6 181.2h0M258.1 180.4h0M269.4 180.4h0M273.0 181.5h0M189.4 183.4h0M194.6 182.4h0M199.7 183.1h0M230.2 183.4h0M234.5 183.6h0M273.5 183.2h0M191.3 184.2h0M196.5 184.7h0M222.3 184.6h0M241.0 184.8h0M247.4 184.2h0M264.9 184.1h0M268.0 183.7h0M189.6 185.5h0M218.6 186.1h0M227.5 185.3h0M231.9 185.7h0M233.0 186.5h0M238.1 186.1h0M245.9 186.3h0M263.1 186.5h0M277.1 185.4h0M191.0 188.3h0M199.8 187.6h0M202.1 188.2h0M204.3 187.6h0M255.5 187.1h0M200.9 189.0h0M202.3 189.9h0M219.9 188.6h0M231.5 190.0h0M244.0 189.2h0M251.4 190.0h0M260.7 189.6h0M261.8 188.8h0M277.2 189.7h0M193.8 190.8h0M197.5 190.2h0M205.1 190.2h0M211.9 190.9h0M214.7 191.2h0M220.0 190.6h0M236.5 191.7h0M261.9 190.3h0M272.4 191.6h0M274.4 191.0h0M277.5 190.5h0M196.5 192.3h0M204.4 192.9h0M219.9 191.6h0M222.3 193.1h0M230.2 192.9h0M245.5 191.7h0M249.0 192.2h0M251.8 192.3h0M252.8 192.3h0M264.6 192.4h0M268.5 192.2h0M188.8 194.5h0M194.2 193.6h0M212.4 193.6h0M229.0 193.8h0M271.4 194.7h0M272.3 193.5h0M198.0 196.3h0M204.3 194.9h0M206.4 195.3h0M207.0 195.2h0M214.3 195.1h0M217.1 195.6h0M244.8 195.5h0M266.3 195.0h0M270.2 196.0h0M274.0 195.4h0M276.4 196.1h0" stroke="#302080" stroke-width="2.0" stroke-linecap="round" fill="none"/>
<path d="M189.4 127.7h0M193.8 127.7h0M205.5 128.5h0M209.2 128.9h0M211.9 128.8h0M215.9 128.1h0M224.7 128.1h0M227.1 128.2h0M240.9 128.0h0M246.6 128.2h0M251.7 128.0h0M264.3 128.1h0M268.5 127.2h0M271.0 127.7h0M271.9 128.8h0M276.2 128.6h0M198.6 129.1h0M204.9 129.3h0M243.6 130.0h0M251.6 129.1h0M267.7 129.3h0M270.8 129.7h0M217.3 130.5h0M224.9 130.6h0M225.9 131.7h0M239.3 131.9h0M251.0 131.5h0M260.9 131.0h0M197.4 133.0h0M201.0 133.6h0M213.4 132.2h0M224.5 133.0h0M234.8 132.2h0M236.3 133.2h0M238.4 132.9h0M259.0 133.5h0M260.6 132.3h0M261.8 132.4h0M203.8 135.2h0M208.5 134.4h0M227.6 135.2h0M228.5 133.7h0M245.2 135.2h0M248.9 134.9h0M255.4 134.4h0M261.2 134.0h0M195.3 136.4h0M198.2 135.7h0M213.7 135.4h0M217.3 135.3h0M226.3 136.2h0M233.8 136.3h0M256.1 136.7h0M201.4 137.3h0M211.3 138.0h0M250.2 137.8h0M255.6 136.9h0M256.5 137.5h0M260.2 137.0h0M262.8 138.1h0M266.7 138.2h0M207.0 139.9h0M209.4 138.9h0M225.9 138.8h0M239.4 139.6h0M244.0 139.0h0M249.3 139.0h0M251.6 139.2h0M253.3 138.7h0M265.7 139.9h0M268.1 140.1h0M270.5 139.3h0M277.7 138.7h0M190.7 141.4h0M199.9 141.1h0M208.2 140.6h0M242.9 140.2h0M265.0 140.9h0M271.9 140.3h0M274.3 140.5h0M195.0 141.9h0M200.4 142.9h0M207.8 142.0h0M238.0 143.4h0M240.4 141.9h0M247.0 142.2h0M194.4 145.0h0M196.5 144.0h0M204.0 143.5h0M219.0 143.7h0M224.0 144.2h0M235.8 144.7h0M254.0 144.3h0M261.4 144.4h0M193.5 146.1h0M205.3 145.5h0M224.5 145.5h0M230.5 145.8h0M231.5 146.2h0M219.7 147.7h0M199.6 148.2h0M206.7 149.3h0M260.3 148.4h0M269.9 149.1h0M276.8 149.4h0M189.5 150.1h0M212.5 151.2h0M223.5 150.4h0M230.9 150.4h0M253.3 150.3h0M257.8 150.6h0M267.8 149.8h0M191.3 152.5h0M221.4 151.9h0M243.8 152.8h0M247.1 152.5h0M192.9 153.4h0M220.8 154.1h0M230.3 153.4h0M233.5 153.5h0M236.3 153.1h0M190.8 155.8h0M210.1 156.1h0M221.8 154.7h0M270.5 155.2h0M190.3 157.3h0M191.8 156.2h0M238.4 156.6h0M241.7 157.4h0M249.0 156.9h0M251.1 156.8h0M262.1 157.2h0M192.5 158.3h0M198.2 158.8h0M228.4 159.2h0M234.9 158.2h0M249.7 158.5h0M256.2 159.0h0M261.0 158.5h0M270.8 158.2h0M272.2 159.0h0M276.6 158.0h0M201.8 160.0h0M205.5 160.0h0M208.3 159.5h0M237.2 159.8h0M241.4 160.0h0M244.6 160.0h0M192.1 162.2h0M193.1 161.1h0M198.6 161.2h0M220.6 161.4h0M223.5 162.3h0M248.1 161.7h0M254.5 162.3h0M259.2 162.2h0M265.3 162.3h0M269.2 162.7h0M272.0 161.2h0M276.0 161.9h0M276.8 161.2h0M190.7 163.4h0M191.9 163.2h0M195.4 163.2h0M197.7 163.5h0M207.3 164.1h0M217.0 163.7h0M232.6 163.1h0M239.7 163.3h0M245.4 163.5h0M246.6 162.7h0M265.4 163.0h0M275.8 163.2h0M279.0 164.1h0M189.3 164.8h0M190.9 165.3h0M203.3 164.3h0M216.0 165.1h0M222.3 165.2h0M229.6 165.7h0M260.1 164.4h0M274.3 164.4h0M195.5 167.4h0M198.3 166.8h0M205.9 166.8h0M228.5 167.3h0M241.0 165.9h0M249.0 167.4h0M256.0 166.4h0M262.2 166.0h0M265.7 166.6h0M270.5 166.8h0M190.0 169.1h0M190.8 168.8h0M196.7 167.7h0M199.9 168.7h0M210.0 169.1h0M249.6 167.6h0M254.5 168.4h0M263.6 167.8h0M267.3 167.7h0M268.3 168.0h0M274.0 168.5h0M276.6 168.6h0M199.0 170.5h0M210.1 170.4h0M216.7 170.3h0M243.8 170.2h0M259.9 170.6h0M276.1 169.8h0M217.4 171.8h0M219.6 171.8h0M250.1 171.8h0M256.2 171.6h0M259.7 170.7h0M264.7 171.9h0M192.0 173.6h0M198.7 173.0h0M201.9 173.6h0M224.4 173.8h0M227.0 173.2h0M228.9 173.7h0M237.5 172.5h0M253.5 172.7h0M262.1 173.5h0M266.5 173.8h0M270.4 173.3h0M198.2 174.8h0M204.3 175.3h0M215.2 174.6h0M233.8 175.0h0M258.2 174.9h0M264.7 174.7h0M275.8 175.4h0M200.6 175.7h0M203.7 176.1h0M208.9 176.9h0M217.8 175.9h0M221.1 176.4h0M227.3 175.7h0M230.5 176.8h0M232.2 176.9h0M237.0 175.7h0M249.0 176.6h0M276.5 175.5h0M189.3 178.6h0M215.3 178.6h0M218.1 178.6h0M224.7 178.5h0M237.0 178.0h0M245.7 177.3h0M260.9 177.5h0M268.8 177.5h0M271.8 177.5h0M275.5 177.9h0M189.6 179.9h0M211.9 180.0h0M214.4 179.1h0M227.8 179.0h0M230.0 179.8h0M232.1 179.5h0M235.5 179.5h0M241.6 179.3h0M248.8 179.0h0M258.7 180.3h0M267.1 178.9h0M271.5 179.3h0M275.8 179.8h0M188.4 181.6h0M199.1 180.9h0M214.9 181.6h0M252.9 181.6h0M209.0 182.1h0M211.8 183.3h0M214.2 182.7h0M238.4 182.6h0M240.1 182.6h0M251.2 182.5h0M262.4 182.2h0M266.7 183.4h0M276.5 182.6h0M195.2 184.9h0M232.3 185.0h0M257.1 185.0h0M196.6 185.4h0M199.7 185.5h0M205.9 185.8h0M241.6 186.3h0M243.8 186.2h0M253.8 186.2h0M260.3 185.5h0M192.3 187.9h0M208.1 187.8h0M209.8 187.5h0M226.8 187.4h0M228.6 187.0h0M235.6 187.6h0M251.8 187.8h0M253.9 187.5h0M262.0 187.2h0M264.0 187.8h0M268.1 187.2h0M271.5 188.2h0M274.2 187.3h0M276.7 188.0h0M192.1 189.2h0M199.2 190.0h0M209.7 188.8h0M216.8 189.5h0M229.6 188.7h0M233.9 189.7h0M240.3 188.8h0M254.0 189.7h0M264.8 188.7h0M275.8 189.5h0M189.6 190.5h0M193.0 190.6h0M199.7 190.2h0M203.6 190.2h0M246.0 191.4h0M251.1 190.3h0M258.9 190.6h0M266.8 190.5h0M188.8 191.7h0M190.4 192.5h0M193.6 192.1h0M201.6 192.0h0M210.6 191.6h0M233.2 193.1h0M254.7 191.9h0M256.4 191.6h0M266.0 192.3h0M278.1 193.1h0M204.7 194.3h0M218.2 193.4h0M229.5 194.8h0M234.0 193.4h0M241.7 193.8h0M247.4 194.8h0M259.4 193.6h0M194.2 195.2h0M209.9 195.6h0M219.0 196.2h0M222.5 195.2h0M225.4 196.4h0M230.1 195.5h0M236.9 196.2h0M264.5 196.1h0M272.1 195.9h0" stroke="#3c2a8a" stroke-width="2.0" stroke-linecap="round" fill="none"/>
<path d="M196.7 128.9h0M212.9 128.3h0M229.5 127.3h0M238.0 127.6h0M254.4 127.7h0M256.0 128.6h0M256.6 128.6h0M261.6 127.6h0M202.2 130.1h0M224.4 129.0h0M227.5 129.8h0M228.9 129.9h0M236.7 130.2h0M255.3 130.3h0M256.5 129.5h0M266.4 130.4h0M277.2 129.7h0M189.5 131.5h0M190.9 131.0h0M200.9 131.5h0M206.5 132.1h0M234.1 131.9h0M236.5 130.9h0M244.9 131.8h0M253.1 130.8h0M272.2 130.9h0M196.8 132.7h0M214.2 133.5h0M215.6 133.7h0M220.4 133.7h0M249.4 133.4h0M269.9 132.3h0M273.7 133.4h0M197.5 135.1h0M206.7 134.1h0M213.2 134.9h0M215.5 134.3h0M221.6 134.0h0M225.1 135.1h0M237.2 134.6h0M253.8 133.7h0M262.2 134.7h0M271.1 134.1h0M247.6 136.6h0M249.3 136.5h0M269.5 136.6h0M193.3 137.6h0M226.5 137.1h0M242.2 138.4h0M222.3 140.0h0M232.6 140.0h0M245.0 139.3h0M254.7 140.0h0M192.6 141.3h0M198.1 140.3h0M230.8 140.6h0M237.4 140.5h0M247.8 141.7h0M256.6 141.2h0M258.7 140.7h0M191.4 142.7h0M194.1 142.4h0M206.5 143.0h0M214.3 142.6h0M252.2 142.0h0M254.1 143.2h0M256.5 142.4h0M259.3 142.0h0M263.3 143.0h0M265.7 143.4h0M267.9 143.3h0M190.5 143.6h0M207.4 143.5h0M211.6 144.3h0M221.6 144.0h0M233.9 144.7h0M256.0 143.4h0M257.0 144.5h0M258.8 144.7h0M263.2 143.4h0M267.1 143.7h0M268.4 144.8h0M272.9 143.7h0M188.6 145.4h0M194.3 144.9h0M196.8 145.0h0M201.5 145.0h0M210.0 145.1h0M215.4 145.7h0M233.0 145.9h0M269.3 145.4h0M272.9 145.4h0M273.7 146.3h0M277.3 145.3h0M189.9 147.6h0M195.3 146.7h0M198.0 147.7h0M227.5 147.0h0M229.3 147.7h0M236.7 148.1h0M247.4 146.9h0M266.8 147.1h0M192.4 148.5h0M243.6 149.3h0M273.7 149.8h0M199.2 151.1h0M201.4 150.8h0M203.9 151.3h0M207.7 150.2h0M225.3 150.4h0M247.4 151.0h0M252.1 150.8h0M262.2 151.1h0M275.2 150.0h0M194.2 152.8h0M200.6 152.6h0M211.5 152.0h0M238.0 152.2h0M225.5 154.3h0M243.3 153.3h0M249.7 154.2h0M251.9 153.3h0M264.6 154.3h0M271.9 153.3h0M273.9 154.4h0M277.6 154.5h0M193.3 155.9h0M211.3 155.9h0M214.7 156.0h0M217.4 156.3h0M217.9 156.0h0M226.2 155.1h0M229.8 155.7h0M230.7 155.7h0M251.6 154.9h0M253.2 154.9h0M257.8 156.0h0M193.5 156.9h0M200.3 157.7h0M203.1 156.7h0M227.8 157.8h0M229.4 156.3h0M261.0 157.1h0M202.2 158.4h0M209.9 158.3h0M215.4 157.8h0M220.7 159.0h0M223.9 158.9h0M242.7 159.1h0M257.7 158.4h0M268.8 159.5h0M193.7 159.5h0M197.5 159.9h0M198.3 160.7h0M212.0 159.9h0M212.9 160.8h0M217.0 160.8h0M228.6 160.6h0M247.4 161.1h0M255.4 159.6h0M257.2 161.0h0M273.1 160.4h0M277.9 160.1h0M190.7 161.8h0M198.2 161.3h0M201.1 161.2h0M215.3 162.3h0M225.9 161.7h0M236.3 162.3h0M243.3 161.8h0M246.2 161.5h0M253.1 162.5h0M193.1 163.3h0M205.4 162.8h0M214.7 163.3h0M215.3 164.3h0M219.7 164.0h0M224.4 162.9h0M227.0 163.4h0M244.1 163.9h0M259.2 162.7h0M196.0 165.0h0M208.0 165.9h0M229.2 165.7h0M276.0 165.1h0M278.9 165.2h0M189.4 166.7h0M193.3 167.3h0M218.7 166.9h0M221.2 166.5h0M237.8 167.2h0M238.9 167.1h0M276.7 167.1h0M199.2 167.6h0M211.0 169.0h0M256.6 168.6h0M265.8 169.0h0M215.8 170.7h0M232.4 170.0h0M240.0 170.0h0M277.6 170.5h0M189.1 171.3h0M201.7 171.5h0M211.0 172.2h0M223.8 172.1h0M263.8 171.9h0M201.0 173.4h0M205.0 172.4h0M210.6 173.3h0M234.1 172.6h0M236.4 173.7h0M243.3 173.7h0M244.4 172.7h0M249.3 173.2h0M250.3 172.7h0M257.0 173.7h0M258.2 172.9h0M263.7 172.9h0M277.2 172.4h0M193.0 174.3h0M195.8 175.4h0M221.0 173.9h0M225.0 174.9h0M246.5 174.5h0M256.2 175.5h0M268.7 174.5h0M271.6 174.4h0M278.3 175.1h0M192.8 175.9h0M194.4 176.2h0M224.9 177.1h0M227.0 175.8h0M238.7 175.7h0M242.5 177.1h0M252.8 175.5h0M261.6 176.3h0M262.6 175.9h0M278.8 176.0h0M196.9 178.5h0M211.9 177.3h0M219.0 177.3h0M222.6 177.9h0M234.5 178.1h0M240.7 178.7h0M256.3 178.6h0M263.1 177.9h0M265.8 178.8h0M228.4 178.8h0M238.9 179.3h0M264.3 179.2h0M265.7 179.6h0M278.1 180.1h0M190.7 181.8h0M207.4 180.7h0M220.9 180.4h0M227.6 182.0h0M237.2 180.4h0M242.1 181.8h0M266.4 181.0h0M274.8 181.8h0M276.2 180.7h0M196.0 183.3h0M212.2 183.1h0M260.9 183.2h0M276.9 183.4h0M213.7 184.5h0M224.8 184.0h0M233.8 184.6h0M254.5 184.7h0M257.7 183.9h0M262.6 184.9h0M272.9 184.2h0M191.2 186.5h0M203.7 186.2h0M220.7 185.6h0M230.1 185.4h0M250.8 185.3h0M255.6 186.7h0M271.9 185.8h0M274.0 186.3h0M195.2 187.2h0M206.4 187.1h0M213.1 187.1h0M236.9 187.5h0M239.5 186.9h0M242.7 186.8h0M264.8 187.0h0M266.8 187.9h0M206.7 189.4h0M209.4 189.7h0M218.2 189.8h0M232.1 188.5h0M237.0 190.0h0M242.4 189.0h0M266.1 188.5h0M267.2 189.0h0M270.8 189.6h0M210.5 190.8h0M216.9 190.5h0M225.6 190.0h0M243.8 191.6h0M252.8 191.2h0M268.3 190.9h0M198.2 192.1h0M204.8 192.5h0M216.1 192.7h0M217.7 192.2h0M223.3 193.1h0M227.6 193.1h0M236.5 192.0h0M238.0 193.1h0M244.5 192.4h0M260.6 193.0h0M262.2 192.3h0M275.0 192.6h0M196.0 194.2h0M238.1 193.8h0M238.6 193.2h0M243.7 194.4h0M255.2 194.6h0M264.7 193.7h0M276.8 193.3h0M278.0 193.9h0M192.8 195.9h0M225.0 196.3h0M243.4 195.7h0M248.9 195.4h0M250.5 195.9h0M261.0 195.9h0M262.7 196.1h0" stroke="#302080" stroke-width="2.25" stroke-linecap="round" fill="none"/>
<path d="M217.9 127.4h0M225.3 127.4h0M235.8 128.7h0M241.9 128.2h0M249.5 127.8h0M273.9 127.7h0M190.4 129.4h0M203.0 129.8h0M209.8 129.7h0M219.4 130.2h0M232.3 129.3h0M246.4 130.3h0M261.5 129.2h0M204.5 130.8h0M208.0 130.6h0M212.0 130.9h0M214.5 130.8h0M218.9 132.1h0M221.3 130.5h0M222.3 131.0h0M242.3 130.5h0M256.8 130.6h0M189.4 132.5h0M190.3 133.0h0M199.6 132.8h0M204.9 133.4h0M207.6 132.5h0M210.2 133.2h0M217.6 132.7h0M241.1 133.5h0M242.4 132.4h0M247.5 133.6h0M275.2 133.2h0M194.2 135.0h0M195.7 133.8h0M199.0 134.9h0M214.0 134.9h0M220.5 135.2h0M234.3 135.2h0M238.0 135.2h0M250.7 134.7h0M256.3 135.2h0M265.1 135.0h0M276.0 134.5h0M276.5 134.7h0M190.2 135.3h0M202.4 136.6h0M205.1 136.3h0M207.3 136.2h0M227.1 136.2h0M244.7 136.6h0M246.6 135.5h0M257.0 136.9h0M263.3 136.2h0M273.4 135.6h0M198.2 137.0h0M215.0 137.4h0M219.0 137.3h0M236.3 137.7h0M269.8 137.3h0M191.9 140.1h0M193.7 139.6h0M205.3 138.9h0M264.9 139.6h0M279.7 138.6h0M214.3 140.2h0M223.7 141.0h0M238.1 140.5h0M240.6 141.1h0M253.1 140.3h0M261.4 140.9h0M268.2 140.2h0M276.4 140.6h0M197.7 143.4h0M204.8 143.3h0M228.1 143.0h0M241.9 142.5h0M243.6 142.6h0M250.6 143.1h0M262.5 142.1h0M191.8 145.0h0M215.6 144.7h0M229.0 143.5h0M242.3 144.2h0M243.9 144.9h0M274.3 145.0h0M191.3 146.1h0M204.0 145.2h0M219.2 145.6h0M226.7 145.2h0M245.6 146.0h0M250.2 145.3h0M264.5 146.0h0M193.6 147.3h0M204.7 147.3h0M221.1 147.6h0M223.9 147.5h0M233.2 147.7h0M240.0 147.9h0M244.7 147.0h0M262.0 147.5h0M194.1 149.5h0M227.8 149.5h0M247.7 149.7h0M258.5 149.3h0M267.0 149.4h0M275.6 149.1h0M191.0 150.1h0M241.2 150.7h0M278.4 149.9h0M195.1 152.2h0M197.7 152.4h0M202.0 153.0h0M205.6 152.6h0M230.0 153.0h0M239.6 151.4h0M245.3 152.1h0M254.9 152.6h0M264.3 152.4h0M275.0 151.8h0M188.7 154.0h0M190.9 154.1h0M194.3 153.1h0M202.7 153.5h0M243.8 153.8h0M256.9 154.6h0M266.0 154.2h0M275.8 154.0h0M188.6 154.9h0M194.2 156.0h0M195.9 156.3h0M244.6 154.6h0M246.4 155.5h0M249.3 156.1h0M267.2 155.3h0M273.5 155.9h0M196.1 156.8h0M215.0 157.5h0M217.1 157.2h0M219.7 156.7h0M241.1 157.2h0M246.3 157.0h0M248.0 156.4h0M254.9 156.3h0M257.3 156.3h0M268.2 157.1h0M270.0 156.8h0M272.3 157.0h0M273.4 157.2h0M194.9 158.4h0M204.2 158.0h0M206.2 158.2h0M207.0 159.0h0M213.4 158.9h0M216.8 157.9h0M225.4 158.5h0M244.0 159.2h0M251.1 159.2h0M258.8 158.5h0M274.1 159.2h0M204.0 160.2h0M249.0 159.7h0M252.4 159.5h0M268.7 159.7h0M271.4 159.5h0M276.3 159.7h0M206.4 161.9h0M217.5 161.9h0M222.4 162.5h0M228.3 161.2h0M250.7 161.3h0M263.0 161.8h0M267.1 162.7h0M274.1 161.1h0M201.3 163.8h0M231.1 163.5h0M259.7 162.7h0M269.5 163.6h0M205.6 165.3h0M219.9 164.8h0M220.6 164.7h0M252.0 165.4h0M269.8 165.7h0M270.6 165.7h0M201.0 166.0h0M226.2 166.8h0M245.7 166.9h0M250.3 166.4h0M258.6 166.9h0M262.6 166.5h0M273.2 165.9h0M206.0 167.7h0M218.2 169.1h0M224.1 167.7h0M225.7 167.7h0M244.1 168.1h0M270.8 167.6h0M194.2 169.9h0M206.2 169.2h0M210.9 169.3h0M218.9 169.1h0M224.8 170.5h0M227.1 169.2h0M228.0 169.8h0M230.6 169.2h0M265.2 169.8h0M273.1 170.3h0M225.4 171.7h0M228.1 171.1h0M233.1 170.8h0M239.4 171.0h0M272.4 170.7h0M188.8 173.1h0M192.9 173.1h0M211.0 173.1h0M213.7 172.9h0M221.6 172.7h0M222.2 173.6h0M231.6 173.8h0M240.2 172.7h0M259.5 172.6h0M266.2 172.9h0M193.5 174.7h0M201.2 174.0h0M207.0 175.2h0M215.8 174.5h0M217.6 175.1h0M236.7 174.2h0M240.3 175.3h0M257.7 174.4h0M266.7 174.1h0M270.2 174.3h0M191.0 177.2h0M214.1 176.5h0M223.0 176.9h0M233.8 177.0h0M235.8 176.6h0M193.3 177.8h0M201.8 178.4h0M209.6 177.6h0M221.3 177.7h0M226.8 177.9h0M230.2 178.5h0M231.5 178.8h0M235.7 177.6h0M247.4 177.6h0M194.8 178.9h0M203.5 179.7h0M225.0 179.3h0M240.2 179.9h0M272.8 179.0h0M276.3 178.9h0M211.9 180.5h0M213.7 181.0h0M216.2 180.9h0M231.8 182.0h0M233.5 180.9h0M259.6 182.0h0M278.3 180.7h0M207.3 182.1h0M216.0 182.5h0M221.4 183.4h0M228.5 182.1h0M242.7 182.4h0M257.7 183.5h0M265.2 183.5h0M193.4 183.7h0M206.5 184.5h0M207.7 183.8h0M210.2 185.1h0M228.8 183.8h0M229.8 184.9h0M264.2 184.3h0M269.5 184.6h0M274.4 184.4h0M279.2 184.2h0M226.3 186.2h0M244.3 186.6h0M257.7 185.3h0M261.9 185.8h0M188.6 187.8h0M212.3 187.5h0M246.6 188.1h0M257.6 187.3h0M272.6 186.8h0M277.9 187.6h0M193.9 189.6h0M195.6 189.8h0M211.8 189.2h0M223.3 189.6h0M227.7 189.4h0M258.8 189.9h0M195.6 191.7h0M200.7 190.5h0M229.8 191.4h0M234.1 191.6h0M238.0 190.6h0M242.3 191.4h0M248.1 191.7h0M254.6 190.7h0M264.4 190.1h0M270.2 191.0h0M215.1 192.0h0M225.5 191.7h0M235.7 193.1h0M248.7 192.6h0M269.4 191.8h0M273.2 192.8h0M198.4 193.5h0M202.3 194.7h0M214.8 193.5h0M220.1 194.5h0M226.7 193.4h0M249.9 194.1h0M253.0 193.7h0M258.3 194.6h0M264.1 194.4h0M266.9 193.6h0M201.7 195.6h0M211.0 195.7h0M235.2 195.3h0M239.3 195.9h0M245.8 195.8h0M254.0 195.3h0" stroke="#3c2a8a" stroke-width="2.25" stroke-linecap="round" fill="none"/>
<path d="M193.0 128.6h0M203.1 128.4h0M207.6 127.4h0M244.5 127.4h0M188.7 129.9h0M213.5 130.5h0M194.4 131.2h0M229.4 131.1h0M241.4 132.1h0M262.8 130.5h0M268.1 131.4h0M192.2 133.2h0M222.3 132.6h0M226.8 132.7h0M229.5 132.1h0M244.4 132.3h0M268.0 133.1h0M189.8 134.6h0M259.1 134.4h0M270.2 134.2h0M197.2 135.6h0M220.0 136.1h0M235.5 136.8h0M192.1 137.7h0M207.0 138.1h0M212.8 137.9h0M225.6 138.4h0M230.5 138.2h0M264.6 137.2h0M268.5 138.0h0M237.7 139.3h0M241.2 138.8h0M260.8 139.2h0M193.5 141.2h0M201.1 140.8h0M227.1 140.9h0M249.5 140.8h0M252.2 140.5h0M220.8 142.8h0M223.8 142.2h0M225.8 142.1h0M249.9 143.1h0M275.6 141.8h0M277.3 142.2h0M198.7 144.7h0M200.8 144.6h0M277.4 144.2h0M198.0 146.3h0M212.0 145.8h0M242.9 145.9h0M254.2 145.8h0M264.0 145.6h0M251.1 146.8h0M273.7 147.6h0M276.6 147.3h0M188.4 148.9h0M198.9 149.2h0M216.7 148.6h0M232.0 149.4h0M243.0 149.0h0M246.3 148.3h0M205.3 151.1h0M216.3 151.2h0M227.7 150.4h0M235.7 150.0h0M249.4 150.7h0M198.4 152.0h0M268.2 152.7h0M278.5 152.5h0M217.8 153.1h0M228.4 153.4h0M269.0 154.3h0M221.2 155.1h0M240.4 155.9h0M261.6 154.9h0M263.7 154.9h0M208.7 157.2h0M212.1 157.0h0M222.1 157.8h0M276.1 156.7h0M191.3 159.2h0M237.0 159.1h0M241.2 157.9h0M246.5 159.4h0M247.9 158.8h0M277.9 159.1h0M214.7 159.9h0M259.6 160.2h0M203.4 162.6h0M204.9 162.3h0M228.8 162.8h0M252.3 163.3h0M271.2 163.5h0M193.8 164.3h0M201.5 165.5h0M263.9 164.6h0M190.8 166.5h0M204.5 165.9h0M214.9 166.9h0M224.9 166.5h0M267.0 167.3h0M204.3 167.6h0M214.0 168.1h0M229.5 167.6h0M231.3 169.0h0M233.0 169.4h0M245.0 170.7h0M190.6 171.2h0M213.3 171.1h0M277.9 171.7h0M207.4 172.7h0M215.8 173.5h0M241.2 173.7h0M268.7 172.6h0M200.1 174.9h0M243.2 174.1h0M218.8 176.1h0M240.8 176.1h0M267.7 175.8h0M271.7 175.8h0M190.7 177.3h0M198.1 178.6h0M259.5 178.6h0M273.6 177.4h0M277.2 177.8h0M198.5 180.0h0M234.1 179.2h0M251.8 179.1h0M270.0 178.8h0M193.0 181.1h0M206.3 180.5h0M256.4 180.9h0M269.8 181.7h0M193.2 183.2h0M198.7 183.3h0M206.1 183.6h0M219.8 182.2h0M231.4 182.7h0M258.8 182.1h0M212.7 185.0h0M236.6 185.1h0M237.8 185.2h0M243.9 184.3h0M277.1 184.9h0M211.1 185.7h0M235.0 185.3h0M264.9 185.8h0M278.6 186.0h0M196.4 187.7h0M197.9 187.6h0M216.3 187.8h0M189.6 188.8h0M245.5 188.8h0M256.9 189.4h0M209.0 190.6h0M217.4 191.6h0M228.2 190.3h0M192.1 192.3h0M199.9 192.8h0M208.3 192.5h0M232.0 192.1h0M201.2 193.6h0M212.9 194.6h0M244.9 194.8h0M190.2 196.2h0M200.9 194.9h0M213.3 195.9h0M231.2 195.9h0M240.8 195.3h0" stroke="#302080" stroke-width="2.5" stroke-linecap="round" fill="none"/>
<path d="M199.7 128.2h0M215.3 127.5h0M231.9 128.8h0M248.3 127.8h0M266.3 127.9h0M196.2 129.9h0M214.4 129.7h0M239.2 129.7h0M240.1 129.0h0M202.7 130.9h0M246.9 130.5h0M267.4 131.2h0M276.4 130.8h0M277.5 132.0h0M194.7 132.5h0M246.1 133.1h0M252.9 133.6h0M205.7 134.0h0M231.1 134.3h0M242.8 134.9h0M266.1 134.2h0M200.2 136.5h0M243.0 135.9h0M272.2 135.6h0M190.1 138.0h0M198.9 137.5h0M237.8 137.9h0M239.8 137.2h0M247.0 137.8h0M251.5 137.9h0M271.8 138.2h0M277.7 138.4h0M228.8 139.7h0M248.2 139.9h0M258.3 138.7h0M275.1 138.6h0M196.1 141.2h0M207.3 141.0h0M219.7 141.1h0M232.2 140.7h0M245.7 140.7h0M254.8 141.3h0M261.8 141.6h0M189.8 143.3h0M202.0 143.5h0M248.7 144.7h0M270.6 144.5h0M237.1 145.7h0M247.9 146.3h0M252.4 145.7h0M253.9 147.9h0M269.5 147.8h0M205.6 149.5h0M229.8 148.8h0M264.9 148.9h0M194.9 149.9h0M243.9 151.3h0M273.4 152.3h0M199.8 154.0h0M203.6 153.1h0M209.4 153.1h0M222.0 154.5h0M223.9 153.1h0M253.0 153.6h0M199.7 155.8h0M202.4 154.9h0M223.3 154.9h0M247.7 154.7h0M255.3 155.6h0M258.7 155.8h0M271.6 155.4h0M278.6 154.8h0M223.4 156.8h0M236.1 157.3h0M201.1 160.6h0M227.1 160.3h0M233.4 161.6h0M249.2 161.7h0M256.4 162.4h0M260.6 161.2h0M233.7 163.4h0M199.3 164.4h0M217.1 165.1h0M251.1 165.6h0M223.0 166.1h0M236.0 166.2h0M275.2 166.5h0M278.1 167.1h0M207.7 167.8h0M259.5 167.8h0M192.8 169.8h0M196.4 170.4h0M200.5 170.2h0M204.5 170.4h0M213.8 169.9h0M258.3 170.3h0M262.0 170.6h0M263.7 169.7h0M195.7 171.5h0M205.0 170.7h0M268.0 171.9h0M270.0 171.2h0M274.5 173.7h0M261.3 175.4h0M201.7 176.7h0M206.4 176.1h0M214.4 176.5h0M257.1 176.7h0M268.1 176.4h0M269.8 176.5h0M203.9 177.6h0M213.0 178.2h0M239.5 178.3h0M194.2 178.9h0M207.0 179.7h0M208.9 179.9h0M191.2 183.3h0M225.8 182.8h0M232.8 182.2h0M268.9 182.3h0M190.0 184.4h0M215.0 183.8h0M239.8 183.6h0M241.2 188.0h0M250.3 186.8h0M197.6 189.6h0M205.0 189.3h0M238.3 189.0h0M248.3 189.4h0M269.4 188.9h0M224.1 190.3h0M232.6 190.3h0M240.1 190.2h0M249.3 190.7h0M257.1 190.1h0M206.6 192.3h0M272.0 192.7h0M206.7 194.0h0M216.9 193.2h0M222.6 193.7h0M224.7 193.6h0M232.2 194.3h0M234.8 193.7h0M262.3 194.7h0M269.7 193.8h0M227.7 195.8h0M257.3 195.4h0M268.1 195.9h0M277.7 196.1h0" stroke="#3c2a8a" stroke-width="2.5" stroke-linecap="round" fill="none"/>
</g></g>
<g clip-path="url(#c2)"><g filter="url(#soft)">
<rect x="10.9" y="214.1" width="88.3" height="66.8" fill="#9c7fb4"/>
<rect x="10.9" y="214.1" width="88.3" height="66.8" filter="url(#m2)"/>
<ellipse cx="23.9" cy="271.3" rx="5.0" ry="4.2" fill="#8a6eb4" stroke="#d0c2ea" stroke-width="0.7" stroke-opacity="0.8" transform="rotate(1 23.9 271.3)"/>
<ellipse cx="64.1" cy="236.7" rx="4.7" ry="4.1" fill="#8a6eb4" stroke="#d0c2ea" stroke-width="0.7" stroke-opacity="0.8" transform="rotate(157 64.1 236.7)"/>
<ellipse cx="26.4" cy="218.4" rx="6.1" ry="5.2" fill="#8a6eb4" stroke="#d0c2ea" stroke-width="0.7" stroke-opacity="0.8" transform="rotate(33 26.4 218.4)"/>
<ellipse cx="62.9" cy="265.3" rx="5.1" ry="5.0" fill="#8a6eb4" stroke="#d0c2ea" stroke-width="0.7" stroke-opacity="0.8" transform="rotate(98 62.9 265.3)"/>
<ellipse cx="91.2" cy="228.4" rx="5.7" ry="5.6" fill="#8a6eb4" stroke="#d0c2ea" stroke-width="0.7" stroke-opacity="0.8" transform="rotate(57 91.2 228.4)"/>
<ellipse cx="19.5" cy="232.4" rx="5.6" ry="4.8" fill="#8a6eb4" stroke="#d0c2ea" stroke-width="0.7" stroke-opacity="0.8" transform="rotate(53 19.5 232.4)"/>
<ellipse cx="15.6" cy="261.0" rx="4.9" ry="4.1" fill="#8a6eb4" stroke="#d0c2ea" stroke-width="0.7" stroke-opacity="0.8" transform="rotate(1 15.6 261.0)"/>
<ellipse cx="44.6" cy="247.0" rx="5.9" ry="4.5" fill="#8a6eb4" stroke="#d0c2ea" stroke-width="0.7" stroke-opacity="0.8" transform="rotate(6 44.6 247.0)"/>
<ellipse cx="85.3" cy="277.6" rx="4.5" ry="4.2" fill="#8a6eb4" stroke="#d0c2ea" stroke-width="0.7" stroke-opacity="0.8" transform="rotate(0 85.3 277.6)"/>
<ellipse cx="58.5" cy="216.2" rx="4.0" ry="3.1" fill="#8a6eb4" stroke="#d0c2ea" stroke-width="0.7" stroke-opacity="0.8" transform="rotate(21 58.5 216.2)"/>
<ellipse cx="72.4" cy="224.5" rx="4.4" ry="4.2" fill="#8a6eb4" stroke="#d0c2ea" stroke-width="0.7" stroke-opacity="0.8" transform="rotate(155 72.4 224.5)"/>
<ellipse cx="35.2" cy="259.4" rx="5.6" ry="4.2" fill="#8a6eb4" stroke="#d0c2ea" stroke-width="0.7" stroke-opacity="0.8" transform="rotate(38 35.2 259.4)"/>
<ellipse cx="84.9" cy="248.9" rx="5.1" ry="4.8" fill="#8a6eb4" stroke="#d0c2ea" stroke-width="0.7" stroke-opacity="0.8" transform="rotate(144 84.9 248.9)"/>
<ellipse cx="41.9" cy="271.1" rx="5.7" ry="4.4" fill="#8a6eb4" stroke="#d0c2ea" stroke-width="0.7" stroke-opacity="0.8" transform="rotate(149 41.9 271.1)"/>
<ellipse cx="48.9" cy="237.5" rx="4.8" ry="4.3" fill="#8a6eb4" stroke="#d0c2ea" stroke-width="0.7" stroke-opacity="0.8" transform="rotate(63 48.9 237.5)"/>
<ellipse cx="94.4" cy="251.4" rx="5.7" ry="5.0" fill="#8a6eb4" stroke="#d0c2ea" stroke-width="0.7" stroke-opacity="0.8" transform="rotate(35 94.4 251.4)"/>
<ellipse cx="12.9" cy="219.0" rx="6.2" ry="5.6" fill="#8a6eb4" stroke="#d0c2ea" stroke-width="0.7" stroke-opacity="0.8" transform="rotate(53 12.9 219.0)"/>
<ellipse cx="22.1" cy="242.3" rx="5.6" ry="4.7" fill="#8a6eb4" stroke="#d0c2ea" stroke-width="0.7" stroke-opacity="0.8" transform="rotate(36 22.1 242.3)"/>
<ellipse cx="78.5" cy="272.1" rx="4.4" ry="4.1" fill="#8a6eb4" stroke="#d0c2ea" stroke-width="0.7" stroke-opacity="0.8" transform="rotate(126 78.5 272.1)"/>
<ellipse cx="35.8" cy="223.4" rx="4.8" ry="4.7" fill="#8a6eb4" stroke="#d0c2ea" stroke-width="0.7" stroke-opacity="0.8" transform="rotate(161 35.8 223.4)"/>
<ellipse cx="62.9" cy="250.4" rx="4.4" ry="3.9" fill="#8a6eb4" stroke="#d0c2ea" stroke-width="0.7" stroke-opacity="0.8" transform="rotate(21 62.9 250.4)"/>
<ellipse cx="97.6" cy="272.7" rx="6.1" ry="4.6" fill="#8a6eb4" stroke="#d0c2ea" stroke-width="0.7" stroke-opacity="0.8" transform="rotate(139 97.6 272.7)"/>
<ellipse cx="74.7" cy="259.1" rx="4.1" ry="4.0" fill="#8a6eb4" stroke="#d0c2ea" stroke-width="0.7" stroke-opacity="0.8" transform="rotate(7 74.7 259.1)"/>
<ellipse cx="31.8" cy="268.4" rx="4.8" ry="4.7" fill="#8a6eb4" stroke="#d0c2ea" stroke-width="0.7" stroke-opacity="0.8" transform="rotate(146 31.8 268.4)"/>
<ellipse cx="47.0" cy="219.6" rx="5.3" ry="4.9" fill="#8a6eb4" stroke="#d0c2ea" stroke-width="0.7" stroke-opacity="0.8" transform="rotate(48 47.0 219.6)"/>
<ellipse cx="52.9" cy="260.7" rx="5.4" ry="4.8" fill="#8a6eb4" stroke="#d0c2ea" stroke-width="0.7" stroke-opacity="0.8" transform="rotate(19 52.9 260.7)"/>
<ellipse cx="12.6" cy="276.9" rx="4.7" ry="4.5" fill="#8a6eb4" stroke="#d0c2ea" stroke-width="0.7" stroke-opacity="0.8" transform="rotate(151 12.6 276.9)"/>
<ellipse cx="70.8" cy="216.1" rx="4.0" ry="3.8" fill="#8a6eb4" stroke="#d0c2ea" stroke-width="0.7" stroke-opacity="0.8" transform="rotate(64 70.8 216.1)"/>
<ellipse cx="35.6" cy="234.5" rx="4.5" ry="3.4" fill="#8a6eb4" stroke="#d0c2ea" stroke-width="0.7" stroke-opacity="0.8" transform="rotate(47 35.6 234.5)"/>
<ellipse cx="46.3" cy="228.6" rx="4.8" ry="4.6" fill="#8a6eb4" stroke="#d0c2ea" stroke-width="0.7" stroke-opacity="0.8" transform="rotate(70 46.3 228.6)"/>
<ellipse cx="55.3" cy="245.1" rx="5.7" ry="5.4" fill="#8a6eb4" stroke="#d0c2ea" stroke-width="0.7" stroke-opacity="0.8" transform="rotate(0 55.3 245.1)"/>
<ellipse cx="55.6" cy="223.8" rx="4.9" ry="4.7" fill="#8a6eb4" stroke="#d0c2ea" stroke-width="0.7" stroke-opacity="0.8" transform="rotate(176 55.6 223.8)"/>
<ellipse cx="48.8" cy="278.5" rx="5.1" ry="4.8" fill="#8a6eb4" stroke="#d0c2ea" stroke-width="0.7" stroke-opacity="0.8" transform="rotate(23 48.8 278.5)"/>
<ellipse cx="76.5" cy="237.6" rx="4.5" ry="3.8" fill="#8a6eb4" stroke="#d0c2ea" stroke-width="0.7" stroke-opacity="0.8" transform="rotate(153 76.5 237.6)"/>
<path d="M53.0 212.0h0M67.3 213.9h0M18.2 214.5h0M83.8 215.9h0M68.2 220.0h0M89.8 218.4h0M69.3 221.2h0M18.0 226.0h0M62.2 225.9h0M65.3 225.1h0M83.4 225.2h0M29.3 229.6h0M63.6 230.5h0M69.7 232.4h0M91.1 234.8h0M101.1 234.1h0M95.6 236.5h0M98.7 236.7h0M24.6 238.0h0M72.0 239.6h0M93.3 238.4h0M79.2 240.6h0M99.1 240.5h0M29.4 243.2h0M37.0 244.2h0M75.1 244.1h0M81.7 243.4h0M73.5 245.1h0M71.2 247.0h0M74.5 248.2h0M100.4 247.3h0M32.7 250.7h0M51.7 250.7h0M77.6 249.3h0M34.9 251.5h0M40.0 252.6h0M47.5 251.5h0M58.6 254.8h0M26.8 256.9h0M51.4 255.6h0M20.6 258.7h0M41.7 257.5h0M81.2 262.8h0M96.7 262.3h0M100.0 263.3h0M70.8 265.3h0M76.3 266.1h0M86.4 264.9h0M100.4 264.4h0M51.4 270.0h0M83.9 269.6h0M93.1 270.4h0M19.4 273.5h0M46.4 272.9h0M54.7 274.7h0M56.2 274.8h0M60.9 273.5h0M63.6 273.0h0M89.4 273.7h0M26.5 275.5h0M34.1 279.2h0M63.4 278.4h0M91.7 277.7h0M18.7 280.8h0M34.2 280.6h0M81.0 280.5h0M88.8 280.7h0M90.5 280.9h0" stroke="#452a88" stroke-width="1.5" stroke-linecap="round" fill="none"/>
<path d="M40.7 212.2h0M48.3 214.1h0M65.1 214.6h0M90.6 215.1h0M34.1 216.4h0M52.8 217.8h0M87.3 217.5h0M94.6 217.2h0M84.8 219.9h0M60.4 222.1h0M18.5 224.4h0M51.2 226.0h0M26.8 230.8h0M33.4 230.6h0M50.5 232.8h0M74.1 231.8h0M69.1 234.2h0M93.9 235.0h0M99.1 235.5h0M59.7 235.9h0M69.3 236.5h0M84.1 237.9h0M10.3 240.1h0M89.5 238.5h0M65.0 241.7h0M86.6 241.0h0M34.0 242.2h0M69.0 245.6h0M13.3 247.0h0M31.7 247.2h0M16.5 249.9h0M13.1 253.7h0M19.2 254.0h0M90.0 255.1h0M55.6 255.4h0M45.1 261.3h0M86.9 260.2h0M88.2 261.6h0M42.2 264.0h0M90.5 265.6h0M92.4 268.0h0M13.8 270.4h0M54.2 270.0h0M66.1 271.8h0M88.8 270.7h0M59.4 274.9h0M66.2 276.0h0M20.6 277.2h0M54.3 278.2h0M68.3 277.6h0M70.4 278.6h0M100.4 278.3h0M36.5 280.1h0M65.1 281.1h0M97.8 279.2h0M16.2 283.1h0M22.3 282.1h0M58.8 283.1h0M78.1 282.4h0" stroke="#553894" stroke-width="1.5" stroke-linecap="round" fill="none"/>
<path d="M19.9 212.5h0M47.4 213.2h0M49.2 213.2h0M58.1 212.6h0M87.2 212.6h0M94.5 213.2h0M98.0 212.5h0M102.6 212.0h0M36.9 215.8h0M49.5 215.1h0M52.8 215.9h0M54.4 214.9h0M74.6 215.0h0M80.6 214.0h0M83.3 214.7h0M91.1 215.2h0M96.9 215.7h0M100.7 214.7h0M78.0 217.8h0M80.3 216.3h0M93.7 220.3h0M80.1 222.1h0M89.2 221.6h0M94.4 221.0h0M64.6 223.9h0M81.3 222.6h0M83.8 224.8h0M16.8 226.6h0M85.9 226.2h0M13.7 228.4h0M62.5 229.0h0M68.7 227.0h0M76.2 228.0h0M14.6 230.1h0M55.0 230.7h0M83.8 229.3h0M11.5 231.6h0M28.0 233.0h0M41.7 231.4h0M43.5 233.3h0M58.4 233.3h0M100.3 232.1h0M26.0 233.5h0M45.8 233.6h0M89.6 235.1h0M16.8 237.8h0M39.2 240.0h0M40.6 238.9h0M69.4 238.4h0M92.0 239.6h0M98.5 238.8h0M33.6 241.3h0M100.2 241.2h0M61.9 243.5h0M71.3 243.7h0M30.6 245.1h0M34.9 246.8h0M69.3 247.2h0M17.9 249.7h0M19.9 252.2h0M29.5 251.9h0M41.8 251.8h0M58.9 252.7h0M20.3 254.6h0M28.5 256.2h0M39.9 256.2h0M58.0 256.9h0M65.2 256.3h0M67.1 255.9h0M69.2 256.0h0M82.3 255.3h0M26.3 258.4h0M29.8 257.6h0M47.2 258.4h0M68.4 259.5h0M83.8 257.6h0M89.5 258.2h0M91.4 258.9h0M93.8 257.7h0M96.1 259.2h0M10.2 260.8h0M29.5 260.1h0M44.6 259.8h0M64.8 260.3h0M69.8 259.9h0M92.7 261.8h0M98.9 259.7h0M100.7 261.0h0M10.1 262.4h0M20.8 264.0h0M41.0 263.3h0M46.5 263.6h0M47.7 262.1h0M11.3 265.4h0M51.1 265.4h0M92.7 264.0h0M94.5 264.7h0M17.4 266.1h0M52.3 267.6h0M56.8 266.9h0M88.5 267.0h0M9.6 269.6h0M52.7 270.4h0M66.9 269.1h0M9.8 271.6h0M50.7 272.5h0M83.9 270.6h0M28.6 274.5h0M50.5 274.0h0M24.6 277.0h0M29.1 276.2h0M36.2 276.2h0M40.6 277.6h0M64.6 277.7h0M22.5 280.4h0M40.1 279.3h0M43.6 279.2h0M63.0 280.3h0M93.8 281.0h0M95.3 279.5h0M101.1 279.6h0M17.4 281.5h0M39.8 281.9h0M43.2 283.2h0M75.0 283.5h0M82.9 283.0h0M92.4 283.0h0M97.5 281.7h0M99.8 282.9h0" stroke="#452a88" stroke-width="1.75" stroke-linecap="round" fill="none"/>
<path d="M32.6 212.4h0M38.7 212.1h0M74.1 213.7h0M90.1 213.4h0M92.6 213.4h0M19.2 215.6h0M31.3 215.4h0M34.1 215.3h0M32.4 217.5h0M84.5 216.5h0M89.0 217.0h0M19.2 220.1h0M55.3 219.1h0M74.5 219.5h0M88.1 218.3h0M17.7 223.4h0M42.0 223.2h0M66.1 224.7h0M76.8 224.2h0M86.3 222.7h0M19.7 226.7h0M68.0 226.4h0M81.1 225.4h0M79.7 227.9h0M101.2 228.8h0M24.3 230.6h0M53.6 229.2h0M59.5 230.5h0M69.4 230.6h0M75.2 230.1h0M84.6 231.3h0M30.0 231.6h0M62.7 232.2h0M28.3 234.5h0M41.6 233.7h0M43.1 234.8h0M57.9 234.1h0M81.6 233.7h0M96.1 234.2h0M23.7 237.0h0M94.4 237.3h0M100.8 237.1h0M17.9 238.4h0M26.2 239.2h0M29.5 239.4h0M12.5 240.7h0M41.5 242.1h0M44.9 240.5h0M63.5 241.6h0M68.0 241.0h0M70.3 240.0h0M41.8 242.4h0M47.1 242.9h0M63.5 242.8h0M64.9 244.3h0M82.8 244.2h0M88.6 243.0h0M15.2 246.0h0M27.6 244.4h0M34.3 246.3h0M79.0 245.4h0M96.8 244.5h0M102.6 245.0h0M19.1 248.8h0M38.9 248.2h0M90.5 246.7h0M26.3 250.5h0M32.1 250.8h0M38.2 249.0h0M53.6 250.6h0M71.1 250.4h0M17.2 251.9h0M32.3 251.8h0M57.4 251.2h0M80.4 251.3h0M100.4 252.1h0M43.7 255.2h0M46.0 253.1h0M75.4 253.4h0M86.7 254.0h0M88.2 254.9h0M12.8 257.2h0M18.6 256.2h0M25.5 256.0h0M60.3 257.4h0M62.0 256.2h0M71.4 255.8h0M23.1 258.2h0M66.7 257.9h0M79.1 257.7h0M81.9 259.5h0M99.5 259.1h0M24.8 259.8h0M58.4 260.2h0M61.7 260.1h0M65.7 260.2h0M80.5 259.9h0M96.6 261.5h0M23.0 262.0h0M28.7 262.5h0M43.1 262.3h0M44.6 264.7h0M97.8 264.1h0M10.2 266.5h0M48.1 266.3h0M73.2 268.1h0M85.5 266.4h0M17.0 270.2h0M48.9 268.4h0M70.6 268.6h0M86.4 270.3h0M16.3 270.5h0M59.9 270.5h0M69.7 272.0h0M52.2 274.8h0M61.1 275.0h0M101.6 275.3h0M26.6 278.5h0M29.7 277.5h0M77.4 279.0h0M72.2 279.2h0M74.5 279.8h0M78.1 279.6h0M27.3 282.8h0M38.4 282.7h0M65.0 281.6h0M96.6 281.5h0" stroke="#553894" stroke-width="1.75" stroke-linecap="round" fill="none"/>
<path d="M11.9 212.6h0M16.6 212.2h0M23.5 211.8h0M50.8 213.4h0M64.2 213.4h0M81.6 212.9h0M38.8 214.1h0M43.3 215.8h0M37.4 216.8h0M40.6 217.7h0M42.1 217.5h0M83.3 216.7h0M97.7 216.6h0M77.0 220.5h0M81.3 220.1h0M97.3 220.0h0M42.0 222.0h0M62.0 221.3h0M65.4 222.3h0M96.1 223.1h0M14.4 226.9h0M24.2 225.9h0M27.6 225.9h0M77.6 225.9h0M22.0 227.7h0M41.5 228.9h0M70.0 228.7h0M98.6 227.9h0M10.1 230.4h0M11.9 230.9h0M36.1 230.7h0M41.1 230.7h0M72.5 230.3h0M77.0 230.7h0M98.3 229.6h0M101.1 230.7h0M52.6 233.3h0M55.3 232.4h0M57.2 233.5h0M71.9 233.3h0M78.6 231.4h0M81.1 231.4h0M53.0 235.0h0M57.0 235.5h0M74.7 234.1h0M86.0 234.7h0M10.3 235.8h0M14.7 235.7h0M25.6 237.2h0M41.0 236.3h0M81.9 235.8h0M86.9 237.8h0M33.5 238.5h0M96.4 238.1h0M38.2 241.3h0M42.5 241.1h0M81.7 241.9h0M94.8 241.6h0M11.5 244.4h0M13.5 243.8h0M73.2 242.4h0M77.4 243.0h0M101.4 244.4h0M10.8 245.0h0M67.0 245.6h0M77.0 245.1h0M80.8 245.1h0M89.8 244.8h0M11.6 248.0h0M26.4 247.5h0M29.1 250.4h0M76.1 248.9h0M101.8 250.5h0M25.8 251.5h0M35.3 251.7h0M52.4 251.3h0M25.5 254.4h0M38.0 254.4h0M40.6 254.7h0M51.6 253.5h0M66.5 254.4h0M67.7 253.8h0M78.1 253.4h0M80.0 253.7h0M99.8 254.0h0M16.7 255.3h0M21.6 255.6h0M43.7 255.9h0M79.6 256.6h0M43.8 259.0h0M58.2 259.3h0M40.5 261.2h0M79.1 260.9h0M26.4 262.9h0M69.1 263.4h0M98.9 262.6h0M18.6 264.3h0M22.0 266.2h0M49.1 264.9h0M57.1 264.2h0M19.4 267.6h0M81.6 267.7h0M58.8 270.5h0M75.9 268.8h0M87.3 269.4h0M12.0 271.1h0M48.5 270.5h0M57.7 271.2h0M49.9 273.5h0M65.7 273.2h0M72.5 274.1h0M73.2 274.9h0M92.0 273.5h0M18.9 275.9h0M34.5 275.9h0M54.0 275.9h0M71.9 277.0h0M73.3 275.4h0M81.4 275.4h0M24.6 278.7h0M57.4 278.7h0M72.9 279.0h0M79.9 278.3h0M38.5 279.6h0M54.0 281.1h0M68.3 279.5h0M75.7 281.0h0M20.6 281.6h0M45.7 282.9h0M56.6 281.3h0M63.9 281.7h0M81.4 281.5h0M85.2 282.4h0M88.7 282.2h0" stroke="#452a88" stroke-width="2.0" stroke-linecap="round" fill="none"/>
<path d="M21.6 213.4h0M28.7 213.7h0M36.8 213.5h0M44.2 212.4h0M78.3 212.2h0M84.4 212.4h0M62.5 215.8h0M77.0 214.5h0M86.3 214.5h0M54.4 218.1h0M66.1 218.0h0M93.6 216.3h0M63.3 219.9h0M79.3 219.5h0M93.0 219.5h0M99.4 220.3h0M19.4 221.8h0M75.6 221.2h0M76.4 221.3h0M85.9 220.8h0M97.0 221.0h0M99.1 221.8h0M21.6 223.9h0M26.6 225.8h0M41.5 225.5h0M98.2 225.5h0M10.5 228.2h0M14.5 228.8h0M30.1 227.2h0M38.2 228.4h0M51.4 228.8h0M60.0 228.9h0M77.3 228.8h0M82.1 227.5h0M58.1 229.8h0M80.0 229.4h0M64.6 232.2h0M75.9 233.0h0M11.7 234.0h0M13.0 235.7h0M71.4 235.0h0M28.4 237.2h0M56.2 235.8h0M90.1 236.8h0M12.7 239.6h0M16.6 238.6h0M36.9 239.0h0M43.5 239.6h0M67.1 239.9h0M83.4 238.7h0M16.4 241.3h0M30.1 241.5h0M35.7 241.0h0M87.7 240.8h0M91.7 241.6h0M15.8 243.0h0M31.5 242.8h0M37.5 244.0h0M47.7 243.0h0M69.3 243.6h0M91.8 242.7h0M96.1 243.6h0M98.7 243.1h0M15.6 244.4h0M29.6 245.3h0M36.9 246.0h0M64.7 245.7h0M100.0 245.4h0M16.0 247.6h0M20.0 247.6h0M66.2 247.6h0M36.2 250.3h0M68.1 250.3h0M13.6 251.4h0M20.4 252.9h0M44.3 252.6h0M48.6 251.4h0M54.2 252.4h0M68.2 252.4h0M79.7 251.5h0M28.7 253.7h0M30.5 254.2h0M49.4 254.3h0M70.4 253.8h0M13.6 255.5h0M47.3 255.8h0M84.3 256.9h0M88.8 256.6h0M92.5 257.0h0M11.5 257.8h0M101.8 257.6h0M21.1 261.4h0M26.8 261.6h0M84.7 260.8h0M91.6 260.7h0M85.9 262.5h0M88.3 262.9h0M25.0 265.7h0M25.9 264.8h0M38.3 266.1h0M75.4 265.4h0M54.4 267.6h0M69.5 266.2h0M79.7 266.8h0M94.6 267.9h0M72.9 270.4h0M18.9 270.6h0M55.3 272.4h0M61.9 271.9h0M68.3 272.0h0M73.7 270.6h0M89.5 270.9h0M31.9 273.7h0M33.3 273.1h0M35.6 274.3h0M58.9 274.0h0M84.9 273.1h0M40.5 276.5h0M55.5 275.5h0M63.4 276.9h0M69.2 276.9h0M78.2 276.9h0M38.7 277.5h0M43.7 279.2h0M20.9 281.0h0M25.5 280.6h0M27.6 280.1h0M56.7 280.3h0M59.6 280.6h0M61.4 280.2h0M13.7 282.9h0M25.7 282.5h0M31.6 281.7h0M60.9 282.1h0M70.8 282.4h0M73.7 283.0h0" stroke="#553894" stroke-width="2.0" stroke-linecap="round" fill="none"/>
<path d="M25.5 212.3h0M33.7 212.8h0M44.6 214.5h0M64.4 219.3h0M66.3 221.5h0M92.9 221.3h0M61.2 223.2h0M26.2 227.0h0M27.8 227.7h0M64.9 227.2h0M38.9 229.2h0M38.8 231.7h0M85.0 232.5h0M82.9 235.4h0M70.7 237.4h0M59.4 238.8h0M61.4 241.5h0M82.0 241.3h0M90.6 246.0h0M33.4 248.6h0M75.2 247.0h0M74.6 249.7h0M75.4 252.4h0M56.4 254.2h0M61.4 254.5h0M100.6 257.3h0M83.3 263.6h0M89.9 263.3h0M68.7 264.1h0M79.3 265.5h0M84.4 264.5h0M98.2 266.3h0M69.2 274.8h0M31.6 275.5h0M31.8 278.0h0M16.5 280.0h0M9.8 283.0h0" stroke="#452a88" stroke-width="2.25" stroke-linecap="round" fill="none"/>
<path d="M71.7 211.8h0M77.5 212.6h0M100.9 217.2h0M40.5 220.0h0M83.0 222.2h0M10.3 226.2h0M58.8 227.7h0M65.7 231.2h0M67.1 229.6h0M66.9 233.1h0M96.1 232.9h0M30.2 237.3h0M88.2 237.9h0M53.9 238.8h0M81.5 238.4h0M10.8 242.0h0M28.7 240.8h0M71.6 245.2h0M79.6 248.5h0M14.3 249.8h0M22.8 249.6h0M10.8 252.5h0M24.5 254.2h0M54.0 255.1h0M88.0 257.3h0M64.8 257.6h0M86.6 257.5h0M31.5 261.8h0M77.9 262.5h0M92.3 262.2h0M36.1 265.9h0M13.5 266.5h0M15.5 266.3h0M50.1 266.8h0M74.7 268.3h0M90.5 266.9h0M53.7 272.0h0M86.1 272.3h0M22.9 279.2h0M59.2 277.4h0M90.1 278.9h0M33.6 283.4h0M68.1 282.5h0" stroke="#553894" stroke-width="2.25" stroke-linecap="round" fill="none"/>
<ellipse cx="24.4" cy="272.9" rx="1.6" ry="1.4" fill="#4a2c8c" opacity="0.8" filter="url(#pb2)"/>
<ellipse cx="22.6" cy="271.4" rx="2.2" ry="1.6" fill="#4a2c8c" opacity="0.8" filter="url(#pb2)"/>
<ellipse cx="24.3" cy="272.1" rx="1.6" ry="1.3" fill="#4a2c8c" opacity="0.8" filter="url(#pb2)"/>
<ellipse cx="62.3" cy="238.3" rx="1.6" ry="1.7" fill="#4a2c8c" opacity="0.8" filter="url(#pb2)"/>
<ellipse cx="64.2" cy="236.7" rx="1.8" ry="1.8" fill="#4a2c8c" opacity="0.8" filter="url(#pb2)"/>
<ellipse cx="65.5" cy="235.4" rx="1.5" ry="1.7" fill="#4a2c8c" opacity="0.8" filter="url(#pb2)"/>
<ellipse cx="26.5" cy="216.9" rx="2.7" ry="1.9" fill="#4a2c8c" opacity="0.8" filter="url(#pb2)"/>
<ellipse cx="27.8" cy="220.1" rx="2.2" ry="2.0" fill="#4a2c8c" opacity="0.8" filter="url(#pb2)"/>
<ellipse cx="25.3" cy="219.2" rx="1.9" ry="1.6" fill="#4a2c8c" opacity="0.8" filter="url(#pb2)"/>
<ellipse cx="63.3" cy="264.9" rx="2.3" ry="1.7" fill="#4a2c8c" opacity="0.8" filter="url(#pb2)"/>
<ellipse cx="61.8" cy="264.6" rx="1.7" ry="2.2" fill="#4a2c8c" opacity="0.8" filter="url(#pb2)"/>
<ellipse cx="62.2" cy="264.8" rx="2.3" ry="2.1" fill="#4a2c8c" opacity="0.8" filter="url(#pb2)"/>
<ellipse cx="92.9" cy="228.3" rx="2.4" ry="2.4" fill="#4a2c8c" opacity="0.8" filter="url(#pb2)"/>
<ellipse cx="90.3" cy="227.5" rx="2.2" ry="1.9" fill="#4a2c8c" opacity="0.8" filter="url(#pb2)"/>
<ellipse cx="92.9" cy="226.6" rx="2.3" ry="1.8" fill="#4a2c8c" opacity="0.8" filter="url(#pb2)"/>
<ellipse cx="20.4" cy="231.6" rx="1.7" ry="1.7" fill="#4a2c8c" opacity="0.8" filter="url(#pb2)"/>
<ellipse cx="20.2" cy="232.3" rx="1.8" ry="1.9" fill="#4a2c8c" opacity="0.8" filter="url(#pb2)"/>
<ellipse cx="19.3" cy="232.1" rx="2.4" ry="2.0" fill="#4a2c8c" opacity="0.8" filter="url(#pb2)"/>
<ellipse cx="17.0" cy="260.2" rx="2.1" ry="1.8" fill="#4a2c8c" opacity="0.8" filter="url(#pb2)"/>
<ellipse cx="17.3" cy="259.6" rx="1.5" ry="1.5" fill="#4a2c8c" opacity="0.8" filter="url(#pb2)"/>
<ellipse cx="14.8" cy="262.1" rx="1.8" ry="1.8" fill="#4a2c8c" opacity="0.8" filter="url(#pb2)"/>
<ellipse cx="44.3" cy="246.4" rx="2.2" ry="2.0" fill="#4a2c8c" opacity="0.8" filter="url(#pb2)"/>
<ellipse cx="44.6" cy="246.8" rx="2.6" ry="1.8" fill="#4a2c8c" opacity="0.8" filter="url(#pb2)"/>
<ellipse cx="43.7" cy="245.6" rx="2.3" ry="1.7" fill="#4a2c8c" opacity="0.8" filter="url(#pb2)"/>
<ellipse cx="86.7" cy="279.0" rx="1.9" ry="1.6" fill="#4a2c8c" opacity="0.8" filter="url(#pb2)"/>
<ellipse cx="84.4" cy="276.0" rx="1.9" ry="1.4" fill="#4a2c8c" opacity="0.8" filter="url(#pb2)"/>
<ellipse cx="86.7" cy="276.0" rx="1.7" ry="1.8" fill="#4a2c8c" opacity="0.8" filter="url(#pb2)"/>
<ellipse cx="58.3" cy="215.4" rx="1.7" ry="1.1" fill="#4a2c8c" opacity="0.8" filter="url(#pb2)"/>
<ellipse cx="59.4" cy="215.8" rx="1.3" ry="1.2" fill="#4a2c8c" opacity="0.8" filter="url(#pb2)"/>
<ellipse cx="57.2" cy="214.6" rx="1.3" ry="1.2" fill="#4a2c8c" opacity="0.8" filter="url(#pb2)"/>
<ellipse cx="72.3" cy="225.0" rx="1.7" ry="1.3" fill="#4a2c8c" opacity="0.8" filter="url(#pb2)"/>
<ellipse cx="72.0" cy="223.9" rx="1.7" ry="1.8" fill="#4a2c8c" opacity="0.8" filter="url(#pb2)"/>
<ellipse cx="70.7" cy="222.7" rx="1.9" ry="1.3" fill="#4a2c8c" opacity="0.8" filter="url(#pb2)"/>
<ellipse cx="36.9" cy="259.2" rx="2.5" ry="1.4" fill="#4a2c8c" opacity="0.8" filter="url(#pb2)"/>
<ellipse cx="34.7" cy="259.9" rx="2.0" ry="1.4" fill="#4a2c8c" opacity="0.8" filter="url(#pb2)"/>
<ellipse cx="36.4" cy="259.3" rx="1.7" ry="1.7" fill="#4a2c8c" opacity="0.8" filter="url(#pb2)"/>
<ellipse cx="83.3" cy="250.1" rx="1.9" ry="1.8" fill="#4a2c8c" opacity="0.8" filter="url(#pb2)"/>
<ellipse cx="83.8" cy="247.6" rx="1.8" ry="1.6" fill="#4a2c8c" opacity="0.8" filter="url(#pb2)"/>
<ellipse cx="84.9" cy="250.7" rx="1.8" ry="1.8" fill="#4a2c8c" opacity="0.8" filter="url(#pb2)"/>
<ellipse cx="42.4" cy="271.8" rx="2.2" ry="1.5" fill="#4a2c8c" opacity="0.8" filter="url(#pb2)"/>
<ellipse cx="41.7" cy="272.4" rx="2.1" ry="1.5" fill="#4a2c8c" opacity="0.8" filter="url(#pb2)"/>
<ellipse cx="41.3" cy="271.3" rx="1.9" ry="1.6" fill="#4a2c8c" opacity="0.8" filter="url(#pb2)"/>
<ellipse cx="47.6" cy="236.6" rx="2.1" ry="1.8" fill="#4a2c8c" opacity="0.8" filter="url(#pb2)"/>
<ellipse cx="49.9" cy="236.5" rx="2.0" ry="1.9" fill="#4a2c8c" opacity="0.8" filter="url(#pb2)"/>
<ellipse cx="47.3" cy="237.0" rx="1.9" ry="1.7" fill="#4a2c8c" opacity="0.8" filter="url(#pb2)"/>
<ellipse cx="93.1" cy="252.8" rx="2.3" ry="2.1" fill="#4a2c8c" opacity="0.8" filter="url(#pb2)"/>
<ellipse cx="93.2" cy="251.5" rx="1.8" ry="2.0" fill="#4a2c8c" opacity="0.8" filter="url(#pb2)"/>
<ellipse cx="93.5" cy="251.6" rx="2.4" ry="1.8" fill="#4a2c8c" opacity="0.8" filter="url(#pb2)"/>
<ellipse cx="13.1" cy="219.3" rx="2.6" ry="1.9" fill="#4a2c8c" opacity="0.8" filter="url(#pb2)"/>
<ellipse cx="14.4" cy="220.5" rx="2.7" ry="2.5" fill="#4a2c8c" opacity="0.8" filter="url(#pb2)"/>
<ellipse cx="14.0" cy="219.6" rx="2.4" ry="1.9" fill="#4a2c8c" opacity="0.8" filter="url(#pb2)"/>
<ellipse cx="21.5" cy="242.0" rx="2.5" ry="1.4" fill="#4a2c8c" opacity="0.8" filter="url(#pb2)"/>
<ellipse cx="23.7" cy="240.8" rx="1.9" ry="1.9" fill="#4a2c8c" opacity="0.8" filter="url(#pb2)"/>
<ellipse cx="21.5" cy="241.0" rx="2.1" ry="1.6" fill="#4a2c8c" opacity="0.8" filter="url(#pb2)"/>
<ellipse cx="78.9" cy="271.4" rx="1.8" ry="1.7" fill="#4a2c8c" opacity="0.8" filter="url(#pb2)"/>
<ellipse cx="79.9" cy="272.1" rx="1.6" ry="1.5" fill="#4a2c8c" opacity="0.8" filter="url(#pb2)"/>
<ellipse cx="77.6" cy="272.4" rx="1.6" ry="1.6" fill="#4a2c8c" opacity="0.8" filter="url(#pb2)"/>
<ellipse cx="35.5" cy="223.1" rx="1.6" ry="1.7" fill="#4a2c8c" opacity="0.8" filter="url(#pb2)"/>
<ellipse cx="36.4" cy="224.7" rx="1.7" ry="2.1" fill="#4a2c8c" opacity="0.8" filter="url(#pb2)"/>
<ellipse cx="34.9" cy="223.0" rx="1.6" ry="2.0" fill="#4a2c8c" opacity="0.8" filter="url(#pb2)"/>
<ellipse cx="62.4" cy="251.0" rx="1.5" ry="1.4" fill="#4a2c8c" opacity="0.8" filter="url(#pb2)"/>
<ellipse cx="62.4" cy="250.4" rx="1.6" ry="1.6" fill="#4a2c8c" opacity="0.8" filter="url(#pb2)"/>
<ellipse cx="61.2" cy="249.7" rx="1.7" ry="1.5" fill="#4a2c8c" opacity="0.8" filter="url(#pb2)"/>
<ellipse cx="96.3" cy="273.9" rx="2.4" ry="1.6" fill="#4a2c8c" opacity="0.8" filter="url(#pb2)"/>
<ellipse cx="97.4" cy="271.6" rx="1.9" ry="2.0" fill="#4a2c8c" opacity="0.8" filter="url(#pb2)"/>
<ellipse cx="98.6" cy="272.1" rx="2.3" ry="1.6" fill="#4a2c8c" opacity="0.8" filter="url(#pb2)"/>
<ellipse cx="75.7" cy="257.5" rx="1.8" ry="1.3" fill="#4a2c8c" opacity="0.8" filter="url(#pb2)"/>
<ellipse cx="75.2" cy="258.9" rx="1.5" ry="1.6" fill="#4a2c8c" opacity="0.8" filter="url(#pb2)"/>
<ellipse cx="74.8" cy="260.8" rx="1.6" ry="1.7" fill="#4a2c8c" opacity="0.8" filter="url(#pb2)"/>
<ellipse cx="32.0" cy="269.2" rx="1.9" ry="1.8" fill="#4a2c8c" opacity="0.8" filter="url(#pb2)"/>
<ellipse cx="30.8" cy="270.0" rx="1.6" ry="2.0" fill="#4a2c8c" opacity="0.8" filter="url(#pb2)"/>
<ellipse cx="30.0" cy="268.9" rx="2.0" ry="1.8" fill="#4a2c8c" opacity="0.8" filter="url(#pb2)"/>
<ellipse cx="48.2" cy="219.6" rx="2.2" ry="1.5" fill="#4a2c8c" opacity="0.8" filter="url(#pb2)"/>
<ellipse cx="46.6" cy="221.1" rx="2.3" ry="2.1" fill="#4a2c8c" opacity="0.8" filter="url(#pb2)"/>
<ellipse cx="47.2" cy="219.1" rx="2.3" ry="1.8" fill="#4a2c8c" opacity="0.8" filter="url(#pb2)"/>
<ellipse cx="51.5" cy="261.8" rx="2.2" ry="1.8" fill="#4a2c8c" opacity="0.8" filter="url(#pb2)"/>
<ellipse cx="51.3" cy="260.1" rx="2.3" ry="1.7" fill="#4a2c8c" opacity="0.8" filter="url(#pb2)"/>
<ellipse cx="53.8" cy="262.2" rx="2.1" ry="1.5" fill="#4a2c8c" opacity="0.8" filter="url(#pb2)"/>
<ellipse cx="12.8" cy="278.7" rx="2.0" ry="2.0" fill="#4a2c8c" opacity="0.8" filter="url(#pb2)"/>
<ellipse cx="11.0" cy="278.0" rx="1.8" ry="1.4" fill="#4a2c8c" opacity="0.8" filter="url(#pb2)"/>
<ellipse cx="11.3" cy="275.5" rx="2.1" ry="1.8" fill="#4a2c8c" opacity="0.8" filter="url(#pb2)"/>
<ellipse cx="71.9" cy="217.1" rx="1.7" ry="1.7" fill="#4a2c8c" opacity="0.8" filter="url(#pb2)"/>
<ellipse cx="69.1" cy="216.7" rx="1.4" ry="1.7" fill="#4a2c8c" opacity="0.8" filter="url(#pb2)"/>
<ellipse cx="69.2" cy="214.4" rx="1.6" ry="1.2" fill="#4a2c8c" opacity="0.8" filter="url(#pb2)"/>
<ellipse cx="35.4" cy="232.9" rx="1.9" ry="1.5" fill="#4a2c8c" opacity="0.8" filter="url(#pb2)"/>
<ellipse cx="34.6" cy="235.5" rx="1.4" ry="1.1" fill="#4a2c8c" opacity="0.8" filter="url(#pb2)"/>
<ellipse cx="36.9" cy="233.3" rx="1.5" ry="1.4" fill="#4a2c8c" opacity="0.8" filter="url(#pb2)"/>
<ellipse cx="47.4" cy="229.7" rx="1.5" ry="1.5" fill="#4a2c8c" opacity="0.8" filter="url(#pb2)"/>
<ellipse cx="45.0" cy="228.0" rx="1.7" ry="1.5" fill="#4a2c8c" opacity="0.8" filter="url(#pb2)"/>
<ellipse cx="46.3" cy="229.7" rx="2.0" ry="1.5" fill="#4a2c8c" opacity="0.8" filter="url(#pb2)"/>
<ellipse cx="53.7" cy="243.5" rx="1.8" ry="2.2" fill="#4a2c8c" opacity="0.8" filter="url(#pb2)"/>
<ellipse cx="53.6" cy="243.5" rx="2.2" ry="2.2" fill="#4a2c8c" opacity="0.8" filter="url(#pb2)"/>
<ellipse cx="56.0" cy="243.5" rx="2.0" ry="2.3" fill="#4a2c8c" opacity="0.8" filter="url(#pb2)"/>
<ellipse cx="56.7" cy="222.8" rx="2.0" ry="1.7" fill="#4a2c8c" opacity="0.8" filter="url(#pb2)"/>
<ellipse cx="57.1" cy="223.8" rx="1.6" ry="1.6" fill="#4a2c8c" opacity="0.8" filter="url(#pb2)"/>
<ellipse cx="55.5" cy="224.5" rx="2.1" ry="1.5" fill="#4a2c8c" opacity="0.8" filter="url(#pb2)"/>
<ellipse cx="50.0" cy="277.5" rx="1.6" ry="2.1" fill="#4a2c8c" opacity="0.8" filter="url(#pb2)"/>
<ellipse cx="49.3" cy="279.6" rx="2.2" ry="2.0" fill="#4a2c8c" opacity="0.8" filter="url(#pb2)"/>
<ellipse cx="47.3" cy="279.2" rx="2.3" ry="1.6" fill="#4a2c8c" opacity="0.8" filter="url(#pb2)"/>
<ellipse cx="76.2" cy="237.8" rx="2.0" ry="1.2" fill="#4a2c8c" opacity="0.8" filter="url(#pb2)"/>
<ellipse cx="75.1" cy="236.8" rx="1.6" ry="1.4" fill="#4a2c8c" opacity="0.8" filter="url(#pb2)"/>
<ellipse cx="74.9" cy="238.9" rx="1.8" ry="1.2" fill="#4a2c8c" opacity="0.8" filter="url(#pb2)"/>
</g></g>
<g clip-path="url(#c4)"><g filter="url(#soft)">
<rect x="100.4" y="214.1" width="87.9" height="66.8" fill="#eee5ff"/>
<rect x="100.4" y="214.1" width="87.9" height="66.8" filter="url(#m4)"/>
<ellipse cx="114" cy="218.7" rx="3" ry="2" fill="#c888c4" filter="url(#pb2)" transform="rotate(0 114 218.7)"/>
<ellipse cx="182.5" cy="249.3" rx="3.5" ry="3" fill="#c080bc" filter="url(#pb2)" transform="rotate(0 182.5 249.3)"/>
<ellipse cx="114" cy="263.4" rx="3.5" ry="2.5" fill="#c080bc" filter="url(#pb2)" transform="rotate(0 114 263.4)"/>
<ellipse cx="142.4" cy="268" rx="3" ry="2.5" fill="#c080bc" filter="url(#pb2)" transform="rotate(0 142.4 268)"/>
<ellipse cx="102.4" cy="242.3" rx="2.5" ry="2" fill="#c890c8" filter="url(#pb2)" transform="rotate(0 102.4 242.3)"/>
<ellipse cx="166" cy="247" rx="2" ry="2" fill="#ece8f8" filter="url(#pb2)" transform="rotate(0 166 247)"/>
<ellipse cx="177.7" cy="225.8" rx="2" ry="2" fill="#ece8f8" filter="url(#pb2)" transform="rotate(0 177.7 225.8)"/>
<ellipse cx="150" cy="232" rx="1.8" ry="1.8" fill="#e4dcf4" filter="url(#pb2)" transform="rotate(0 150 232)"/>
<path d="M103.8 213.7h0M150.5 213.0h0M117.1 214.5h0M124.4 214.0h0M182.3 215.2h0M118.5 216.9h0M117.6 217.7h0M145.8 218.6h0M162.7 217.6h0M177.6 218.4h0M119.5 220.6h0M138.3 222.4h0M172.3 220.8h0M183.8 221.8h0M119.4 223.2h0M131.3 223.3h0M179.1 223.4h0M128.5 224.4h0M145.1 224.2h0M116.9 227.5h0M180.9 226.6h0M187.3 228.0h0M125.7 230.9h0M160.1 229.8h0M105.8 231.3h0M112.2 231.1h0M174.4 231.5h0M184.3 231.4h0M159.9 233.5h0M124.5 234.8h0M139.5 235.3h0M113.0 236.0h0M139.8 238.7h0M149.5 238.5h0M173.0 238.6h0M176.3 238.2h0M123.1 240.8h0M163.5 241.1h0M172.2 241.1h0M122.9 242.0h0M165.8 242.2h0M186.8 241.4h0M129.0 244.1h0M159.8 243.0h0M116.1 245.0h0M137.8 245.0h0M186.9 248.8h0M166.4 250.4h0M188.2 250.9h0M116.8 252.4h0M189.3 251.8h0M126.2 253.2h0M174.9 253.2h0M103.2 254.9h0M132.4 255.5h0M119.6 257.4h0M122.6 259.5h0M165.0 258.7h0M181.8 258.6h0M121.9 260.4h0M148.3 261.1h0M189.9 260.7h0M109.6 264.6h0M168.4 264.4h0M162.7 265.3h0M170.2 265.5h0M177.6 266.5h0M145.2 266.5h0M165.1 266.6h0M129.0 269.9h0M148.3 268.5h0M166.2 270.4h0M187.1 271.5h0M189.1 271.7h0M134.7 273.2h0M102.9 274.4h0M165.3 274.1h0M188.7 273.6h0M102.4 276.5h0M156.2 276.1h0M103.7 279.8h0M147.9 280.1h0M152.9 279.7h0M135.7 281.1h0M175.8 281.8h0M138.7 282.3h0" stroke="#36288c" stroke-width="1.75" stroke-linecap="round" fill="none"/>
<path d="M116.7 213.1h0M131.1 213.0h0M138.5 213.8h0M143.0 212.3h0M104.0 214.5h0M114.1 214.2h0M178.0 215.7h0M113.6 216.7h0M124.5 217.0h0M125.8 215.7h0M134.3 216.0h0M130.2 218.3h0M184.8 218.9h0M100.7 220.0h0M105.3 220.3h0M155.2 222.4h0M105.0 222.7h0M143.0 222.7h0M154.5 224.1h0M157.4 222.7h0M172.7 224.1h0M161.7 225.0h0M186.5 225.9h0M150.0 227.0h0M105.5 228.0h0M106.1 229.2h0M140.1 228.4h0M153.7 228.6h0M169.8 228.0h0M153.4 229.9h0M147.5 231.5h0M102.7 233.8h0M107.2 235.4h0M107.5 236.5h0M171.8 236.8h0M101.0 238.5h0M106.9 237.9h0M111.9 238.7h0M115.7 239.1h0M144.5 238.4h0M178.2 241.9h0M111.2 244.0h0M119.4 244.0h0M134.9 244.3h0M167.9 243.6h0M191.0 244.5h0M107.5 246.7h0M119.4 246.7h0M183.8 247.8h0M189.7 246.5h0M114.7 249.0h0M127.7 248.5h0M133.3 248.4h0M137.3 250.1h0M164.6 250.7h0M130.9 253.6h0M137.3 254.6h0M156.7 254.6h0M159.1 253.1h0M165.3 253.4h0M173.2 254.7h0M145.7 256.3h0M184.2 255.5h0M106.0 257.5h0M116.2 258.4h0M166.0 258.7h0M100.5 261.0h0M115.4 260.0h0M120.1 260.0h0M131.8 260.5h0M142.9 261.1h0M171.3 261.1h0M175.1 260.6h0M184.1 260.5h0M100.1 263.1h0M144.4 261.7h0M148.9 262.8h0M164.8 261.6h0M176.8 262.3h0M155.4 263.2h0M104.3 265.6h0M123.8 266.2h0M109.2 266.7h0M115.6 267.8h0M133.3 267.6h0M188.1 266.9h0M99.9 268.7h0M184.6 268.5h0M158.1 271.7h0M148.8 273.3h0M157.8 274.7h0M161.4 273.8h0M163.4 274.4h0M185.8 274.3h0M163.1 275.3h0M117.4 276.9h0M124.7 277.5h0M159.1 277.7h0M176.7 277.0h0M179.1 276.9h0M99.6 280.4h0M107.9 280.8h0M116.1 280.5h0M121.1 282.4h0M142.5 283.3h0M168.9 282.6h0M188.8 282.2h0" stroke="#443496" stroke-width="1.75" stroke-linecap="round" fill="none"/>
<path d="M111.5 213.2h0M118.3 214.0h0M127.7 213.0h0M147.7 212.7h0M181.6 213.8h0M183.9 213.3h0M111.1 215.5h0M130.4 214.3h0M163.5 214.4h0M166.5 214.3h0M171.7 214.9h0M173.3 215.6h0M174.5 215.4h0M186.5 215.5h0M127.2 216.0h0M142.5 217.3h0M149.4 216.2h0M178.1 217.2h0M100.5 217.8h0M134.2 218.4h0M144.4 218.8h0M153.6 218.4h0M156.6 218.9h0M189.4 217.9h0M103.0 219.2h0M123.7 220.4h0M133.1 219.6h0M144.2 220.1h0M151.5 220.1h0M159.6 219.1h0M168.3 220.5h0M101.7 220.8h0M144.1 221.1h0M153.0 221.2h0M156.4 221.1h0M163.0 222.3h0M178.3 220.9h0M180.9 220.7h0M103.2 224.1h0M114.4 223.3h0M123.7 223.0h0M150.3 222.6h0M165.3 222.7h0M171.3 223.7h0M180.8 223.9h0M99.6 225.5h0M106.2 225.5h0M113.5 224.2h0M130.8 224.5h0M132.4 225.2h0M148.0 224.5h0M160.4 225.6h0M165.8 224.6h0M173.8 225.0h0M180.9 225.7h0M185.0 225.4h0M100.5 227.6h0M109.9 226.0h0M113.3 227.2h0M134.0 226.5h0M139.8 225.8h0M141.4 226.8h0M153.0 227.6h0M155.1 226.4h0M168.9 226.7h0M170.4 225.8h0M173.8 226.5h0M183.1 227.1h0M185.3 227.6h0M188.7 226.5h0M114.5 227.7h0M119.9 229.2h0M122.2 228.6h0M124.5 229.3h0M127.3 228.6h0M142.3 228.3h0M151.6 228.6h0M173.3 228.6h0M106.1 230.7h0M107.4 230.6h0M117.3 230.3h0M121.0 230.9h0M132.2 229.9h0M137.1 229.4h0M158.2 229.8h0M167.3 230.1h0M169.0 230.7h0M104.5 231.3h0M125.2 231.3h0M128.0 231.4h0M133.1 232.6h0M136.3 232.2h0M138.3 231.8h0M141.9 231.0h0M153.2 231.1h0M167.5 232.6h0M177.7 232.3h0M180.5 232.5h0M187.9 231.6h0M99.1 232.9h0M107.7 234.0h0M112.1 233.4h0M113.7 233.3h0M130.1 233.7h0M134.7 234.1h0M143.9 233.0h0M146.6 234.3h0M151.2 232.7h0M171.9 233.6h0M172.9 233.8h0M186.0 233.7h0M102.8 235.8h0M108.1 234.9h0M158.9 235.8h0M162.0 235.3h0M183.5 234.7h0M185.7 234.5h0M188.8 236.0h0M100.4 237.1h0M105.4 236.7h0M133.2 237.3h0M146.8 237.5h0M170.5 237.4h0M106.1 238.4h0M109.2 238.7h0M116.7 238.3h0M124.3 238.6h0M127.4 239.2h0M131.3 237.7h0M134.6 238.9h0M156.4 239.2h0M163.1 239.0h0M166.4 238.4h0M171.3 239.0h0M120.5 239.8h0M133.2 240.9h0M145.1 240.6h0M157.9 239.6h0M166.1 240.5h0M170.6 240.6h0M173.9 239.6h0M111.2 241.6h0M118.9 241.7h0M132.9 241.7h0M137.6 242.0h0M144.3 241.9h0M146.7 242.0h0M147.8 241.4h0M155.0 242.3h0M163.3 241.4h0M180.9 241.1h0M183.6 241.2h0M99.5 244.1h0M102.7 243.3h0M108.0 244.4h0M146.0 244.3h0M151.4 244.1h0M152.0 244.3h0M170.2 244.5h0M102.0 245.6h0M122.6 245.0h0M133.0 245.6h0M141.7 244.8h0M179.1 245.8h0M179.7 244.9h0M188.5 245.2h0M113.2 246.5h0M133.1 246.3h0M134.2 246.7h0M144.2 247.1h0M157.3 247.2h0M176.8 247.9h0M104.3 248.7h0M105.6 247.9h0M109.6 248.1h0M141.8 249.4h0M145.2 248.8h0M158.6 248.0h0M171.7 248.5h0M186.3 247.9h0M101.0 250.4h0M103.6 251.0h0M107.3 250.5h0M110.0 250.3h0M113.2 250.7h0M116.4 250.7h0M118.5 250.8h0M129.5 249.7h0M186.1 250.2h0M101.8 252.6h0M107.1 252.2h0M113.0 253.0h0M123.9 251.9h0M127.0 251.4h0M128.7 251.4h0M135.1 252.2h0M138.4 252.3h0M150.1 252.6h0M152.7 252.7h0M161.2 251.7h0M168.2 251.6h0M169.9 251.8h0M173.4 251.7h0M117.1 253.9h0M119.0 253.2h0M129.3 254.5h0M133.8 253.6h0M153.1 253.7h0M158.1 253.2h0M170.0 253.1h0M185.1 254.7h0M116.4 255.6h0M182.0 255.7h0M109.3 257.8h0M123.5 257.5h0M141.1 257.4h0M145.6 257.0h0M177.1 256.5h0M179.6 257.8h0M102.6 259.4h0M117.8 259.7h0M140.7 259.3h0M148.6 258.1h0M170.0 259.0h0M173.1 258.9h0M184.0 258.6h0M186.9 259.5h0M128.1 261.0h0M168.2 260.9h0M104.5 262.0h0M112.7 263.0h0M117.7 261.7h0M119.9 263.0h0M133.4 262.0h0M151.0 262.1h0M169.2 262.7h0M182.2 261.9h0M186.7 263.0h0M102.7 264.7h0M106.8 263.7h0M139.4 263.6h0M153.0 263.5h0M157.6 264.0h0M162.7 263.7h0M173.8 264.5h0M177.5 263.9h0M189.5 264.8h0M136.6 266.0h0M160.3 265.6h0M168.3 266.6h0M179.0 267.2h0M183.7 266.6h0M190.1 266.8h0M107.9 269.9h0M122.2 268.3h0M127.5 269.4h0M147.2 269.3h0M157.4 268.7h0M102.8 271.3h0M105.2 270.4h0M110.7 270.2h0M118.7 270.4h0M128.7 270.7h0M140.5 270.2h0M159.7 271.4h0M173.2 270.8h0M185.9 271.5h0M105.3 273.1h0M115.3 271.7h0M127.4 273.3h0M133.4 272.7h0M136.1 272.3h0M157.7 272.6h0M160.5 272.8h0M162.8 273.0h0M178.0 271.6h0M181.8 272.7h0M184.2 272.0h0M186.2 272.9h0M188.2 271.9h0M130.5 274.4h0M132.1 273.8h0M145.6 274.3h0M151.5 274.9h0M177.2 274.5h0M190.3 274.1h0M103.3 275.8h0M116.4 275.2h0M137.6 276.7h0M142.2 275.1h0M152.5 275.4h0M170.1 275.4h0M175.9 276.2h0M182.6 275.3h0M110.7 277.5h0M115.2 277.3h0M143.7 277.2h0M145.1 278.4h0M154.0 277.9h0M171.4 278.2h0M173.6 278.1h0M185.8 277.5h0M107.0 278.5h0M114.7 278.6h0M119.3 280.0h0M148.7 280.0h0M166.6 279.8h0M168.0 279.5h0M101.0 281.7h0M108.9 281.5h0M117.8 280.9h0M123.0 280.7h0M131.7 281.1h0M184.5 280.5h0M190.0 280.9h0M100.3 283.5h0M102.2 283.4h0M131.4 283.1h0M141.4 283.0h0M144.3 283.2h0M148.1 283.4h0M154.5 283.5h0M182.5 282.6h0" stroke="#36288c" stroke-width="2.0" stroke-linecap="round" fill="none"/>
<path d="M104.9 213.9h0M108.6 212.7h0M113.8 212.8h0M128.4 213.0h0M136.6 213.8h0M152.7 213.5h0M161.2 212.5h0M172.1 212.3h0M173.2 212.4h0M143.2 214.8h0M148.0 215.5h0M160.7 215.3h0M110.6 216.3h0M136.3 216.6h0M144.4 216.6h0M156.8 216.1h0M160.8 216.7h0M172.7 216.0h0M182.9 216.5h0M186.3 216.3h0M104.8 218.2h0M109.2 217.5h0M112.9 218.0h0M128.7 218.2h0M139.2 217.9h0M170.5 218.2h0M171.5 218.8h0M173.8 218.9h0M179.5 218.2h0M110.9 219.2h0M122.2 220.3h0M163.7 220.7h0M189.3 219.3h0M120.9 220.8h0M125.1 221.3h0M147.2 221.6h0M150.8 221.6h0M163.6 221.1h0M173.4 221.0h0M101.2 222.9h0M108.3 223.0h0M110.6 223.6h0M141.8 223.6h0M183.4 223.8h0M188.8 222.9h0M107.2 225.7h0M108.4 225.3h0M138.5 224.8h0M172.5 225.8h0M103.5 226.6h0M106.4 226.7h0M117.9 226.4h0M122.6 226.2h0M123.7 227.3h0M135.3 227.2h0M144.2 227.1h0M152.3 227.5h0M158.5 226.3h0M162.7 226.6h0M165.8 226.5h0M179.4 226.7h0M108.1 228.1h0M129.5 228.0h0M138.1 227.6h0M148.1 229.2h0M159.7 229.0h0M161.7 228.4h0M175.6 228.3h0M179.9 227.6h0M188.5 228.5h0M101.0 230.3h0M104.1 230.0h0M128.3 230.2h0M138.9 229.2h0M140.9 230.6h0M142.6 229.3h0M146.7 230.5h0M162.8 229.3h0M164.3 230.1h0M100.7 231.4h0M116.2 230.9h0M128.9 231.8h0M144.3 231.7h0M156.4 232.1h0M190.1 231.7h0M100.7 234.0h0M116.0 232.8h0M116.4 232.6h0M141.3 232.6h0M142.7 234.3h0M154.1 232.9h0M163.3 233.2h0M165.4 234.3h0M167.2 233.3h0M175.8 233.3h0M189.7 233.5h0M125.6 235.6h0M134.4 234.5h0M156.1 235.0h0M163.4 235.3h0M109.3 236.3h0M119.1 236.6h0M128.6 236.0h0M139.5 236.7h0M149.1 237.7h0M161.0 236.1h0M163.8 236.4h0M173.3 237.3h0M178.7 236.5h0M187.9 236.7h0M123.3 237.7h0M132.8 238.6h0M166.9 238.0h0M179.3 238.9h0M183.7 238.7h0M188.3 238.8h0M102.2 239.6h0M108.1 240.8h0M109.6 240.0h0M115.8 239.9h0M126.5 240.8h0M130.2 240.8h0M138.9 239.8h0M156.8 240.3h0M162.5 241.0h0M180.4 239.4h0M182.9 240.8h0M106.1 242.1h0M108.3 241.7h0M113.0 242.5h0M128.3 242.5h0M160.3 241.2h0M161.6 241.5h0M171.5 242.7h0M178.9 241.3h0M190.3 241.2h0M106.6 242.8h0M113.9 243.9h0M123.6 243.1h0M126.9 243.3h0M148.9 243.2h0M158.6 244.4h0M163.0 243.4h0M172.2 244.0h0M104.1 245.7h0M113.5 244.7h0M130.8 245.7h0M135.4 246.0h0M144.1 245.5h0M147.9 245.8h0M149.3 246.1h0M156.9 245.2h0M158.3 246.1h0M168.4 246.0h0M100.2 247.1h0M131.1 247.9h0M138.1 246.9h0M150.0 247.8h0M154.8 246.9h0M161.1 246.8h0M173.4 247.3h0M180.0 246.3h0M156.8 248.6h0M159.9 248.4h0M175.8 249.1h0M120.5 250.9h0M123.9 250.1h0M133.5 250.3h0M135.2 250.8h0M153.2 250.4h0M159.6 250.9h0M162.6 251.3h0M172.7 251.0h0M175.3 251.0h0M190.4 249.9h0M103.2 251.9h0M119.5 252.0h0M122.9 252.5h0M129.6 251.9h0M143.9 252.7h0M145.3 253.0h0M154.0 252.6h0M155.9 251.4h0M158.4 252.1h0M159.3 252.7h0M163.2 252.2h0M170.8 251.7h0M179.2 252.1h0M102.5 253.7h0M111.4 253.7h0M123.3 253.0h0M140.1 253.4h0M189.7 253.2h0M103.8 255.9h0M111.5 255.2h0M129.4 255.7h0M159.6 256.1h0M177.1 255.6h0M103.1 257.4h0M106.6 256.4h0M131.8 256.9h0M136.8 258.0h0M151.8 257.9h0M165.8 257.9h0M174.0 257.8h0M175.1 257.3h0M181.9 257.5h0M182.6 256.4h0M188.7 257.8h0M109.1 258.7h0M127.2 258.3h0M134.8 258.3h0M136.6 259.3h0M169.1 258.6h0M189.6 259.3h0M107.4 260.0h0M124.5 260.4h0M133.0 260.4h0M140.0 260.2h0M165.0 260.4h0M172.4 261.2h0M124.7 262.7h0M132.5 262.5h0M137.2 263.0h0M156.2 261.5h0M158.5 262.8h0M160.4 262.5h0M163.6 262.6h0M170.3 262.2h0M113.1 263.4h0M134.7 264.8h0M160.7 264.6h0M105.0 266.0h0M112.2 266.3h0M120.2 265.7h0M120.8 265.0h0M124.9 264.9h0M129.1 265.9h0M153.9 265.7h0M156.6 265.5h0M189.5 265.4h0M108.2 266.7h0M117.4 268.3h0M159.9 266.6h0M166.5 267.7h0M102.0 269.8h0M110.1 269.7h0M113.6 269.8h0M123.8 268.8h0M135.6 269.5h0M137.1 269.3h0M143.2 269.6h0M159.8 269.4h0M163.1 268.3h0M166.3 268.8h0M171.9 268.3h0M174.8 269.9h0M99.0 270.1h0M113.0 270.9h0M124.7 270.2h0M133.3 271.1h0M134.9 270.7h0M156.2 270.0h0M179.1 271.2h0M182.0 271.0h0M110.9 272.0h0M121.3 272.6h0M129.5 271.8h0M130.2 273.4h0M150.0 272.9h0M155.4 272.8h0M169.6 273.3h0M179.8 273.1h0M133.9 274.7h0M137.5 273.6h0M139.9 274.6h0M141.8 274.1h0M148.8 273.4h0M154.5 274.4h0M175.4 273.7h0M179.8 274.5h0M184.4 274.8h0M108.8 275.9h0M128.7 276.4h0M135.1 275.9h0M139.8 275.4h0M141.5 276.1h0M148.5 276.1h0M158.6 275.3h0M185.9 275.3h0M102.2 278.4h0M122.5 277.9h0M138.3 277.3h0M163.1 277.4h0M169.3 277.9h0M175.1 278.0h0M100.5 280.0h0M111.1 278.9h0M124.4 278.5h0M130.1 280.2h0M139.4 279.5h0M144.8 278.6h0M155.3 278.7h0M156.1 280.1h0M161.0 280.0h0M170.7 279.3h0M173.6 278.9h0M177.0 279.7h0M184.5 278.7h0M111.5 281.0h0M129.0 280.2h0M147.5 280.9h0M148.0 280.6h0M155.8 281.0h0M173.3 281.2h0M179.3 281.3h0M188.2 281.8h0M114.0 283.1h0M116.0 282.3h0M126.0 283.3h0M128.1 283.2h0M134.0 282.6h0M147.2 282.2h0M158.9 283.3h0M161.2 282.2h0M164.7 282.3h0M174.7 281.9h0M190.0 283.3h0" stroke="#443496" stroke-width="2.0" stroke-linecap="round" fill="none"/>
<path d="M124.1 213.5h0M132.1 213.2h0M165.3 213.1h0M170.4 212.5h0M178.4 213.5h0M189.3 213.9h0M100.4 214.4h0M103.5 214.6h0M118.2 214.1h0M139.3 215.5h0M145.2 214.9h0M159.1 214.2h0M165.5 214.4h0M169.7 214.6h0M100.7 216.6h0M116.8 216.4h0M132.4 216.6h0M152.9 215.9h0M118.4 218.5h0M121.2 217.5h0M133.0 217.7h0M158.3 218.9h0M159.6 218.6h0M165.5 217.4h0M182.3 218.1h0M106.3 219.8h0M126.8 219.3h0M135.8 220.2h0M150.0 220.2h0M153.8 220.3h0M155.2 220.1h0M174.4 219.1h0M180.7 219.3h0M104.3 222.1h0M111.5 222.0h0M113.5 221.8h0M128.1 222.4h0M129.6 221.0h0M134.0 222.3h0M136.5 221.1h0M140.6 221.6h0M143.5 221.5h0M149.4 221.4h0M177.0 221.4h0M126.9 223.0h0M127.4 222.6h0M130.9 222.4h0M145.1 223.7h0M147.4 222.7h0M167.0 224.0h0M174.4 222.5h0M124.5 224.5h0M135.9 225.3h0M151.0 224.6h0M151.9 224.5h0M168.2 225.6h0M183.6 225.0h0M125.5 226.7h0M131.2 227.5h0M148.4 226.7h0M158.0 227.2h0M166.8 226.5h0M186.1 226.9h0M118.3 227.6h0M155.3 228.1h0M166.6 227.5h0M110.1 229.5h0M156.8 230.8h0M165.3 230.6h0M179.9 229.5h0M119.2 231.9h0M122.8 232.1h0M161.2 231.7h0M164.1 232.3h0M170.0 232.2h0M171.6 231.6h0M175.9 231.3h0M123.4 233.6h0M128.4 232.8h0M151.8 233.6h0M157.7 233.6h0M177.4 234.3h0M113.5 234.7h0M115.5 235.9h0M120.9 235.8h0M123.2 235.2h0M130.6 235.5h0M141.9 235.6h0M146.4 235.1h0M147.5 235.7h0M154.5 234.5h0M166.3 234.6h0M186.7 235.2h0M116.1 236.9h0M120.9 237.2h0M123.9 236.5h0M152.1 237.3h0M158.6 237.5h0M167.2 237.0h0M175.0 236.4h0M189.9 236.5h0M99.4 238.8h0M102.7 238.1h0M112.6 238.6h0M121.4 238.6h0M142.1 238.8h0M157.6 239.4h0M176.7 237.8h0M104.0 240.5h0M125.8 239.8h0M134.6 239.4h0M142.8 239.5h0M148.8 239.7h0M176.3 240.8h0M99.2 241.5h0M102.4 242.1h0M109.6 242.8h0M130.4 241.2h0M134.4 241.5h0M175.5 242.1h0M185.2 241.8h0M109.6 243.7h0M125.3 243.3h0M163.7 244.0h0M166.4 243.2h0M181.1 244.4h0M184.3 243.4h0M100.5 245.3h0M109.6 246.2h0M117.5 245.6h0M119.8 245.4h0M123.9 244.7h0M128.3 245.7h0M130.0 245.5h0M154.4 245.1h0M110.7 247.8h0M117.1 247.8h0M123.0 247.2h0M126.1 246.9h0M146.1 246.6h0M155.3 246.3h0M159.9 247.3h0M163.2 247.1h0M171.7 246.5h0M186.1 247.7h0M101.1 248.3h0M112.0 248.3h0M112.9 248.9h0M124.8 248.6h0M149.7 248.7h0M151.6 249.1h0M173.8 249.5h0M111.7 249.8h0M143.3 251.3h0M161.5 250.9h0M169.2 250.4h0M176.8 250.5h0M109.0 252.0h0M115.3 252.3h0M136.6 251.3h0M165.5 251.9h0M176.8 252.6h0M181.4 253.0h0M120.5 254.6h0M146.5 254.7h0M149.8 253.6h0M163.8 254.0h0M100.2 256.4h0M108.1 254.8h0M120.0 255.2h0M124.2 255.6h0M128.6 255.4h0M134.0 254.9h0M135.7 255.9h0M142.1 255.8h0M149.4 256.0h0M150.9 255.9h0M157.9 255.1h0M169.0 255.8h0M175.0 255.6h0M179.2 255.7h0M187.6 255.4h0M101.1 257.1h0M112.8 256.7h0M127.8 257.2h0M134.5 257.2h0M138.6 256.4h0M143.6 257.3h0M147.4 256.8h0M157.2 256.4h0M169.4 256.8h0M147.6 258.9h0M152.5 259.4h0M154.9 259.8h0M156.3 259.3h0M160.1 258.3h0M180.9 258.6h0M188.0 259.0h0M104.5 260.7h0M111.8 260.7h0M114.7 261.1h0M125.6 261.0h0M136.1 261.1h0M146.3 260.5h0M187.6 261.1h0M103.1 262.7h0M127.9 262.8h0M145.9 262.2h0M154.2 262.5h0M167.3 263.0h0M188.9 261.9h0M110.9 264.4h0M114.6 264.4h0M126.0 264.7h0M132.4 264.9h0M144.6 264.8h0M166.9 264.4h0M185.4 263.4h0M101.8 265.7h0M110.0 266.4h0M144.5 266.0h0M147.5 265.6h0M152.8 265.0h0M172.5 266.2h0M184.5 265.1h0M185.0 266.0h0M101.8 267.3h0M120.5 268.0h0M125.0 267.3h0M134.5 266.9h0M146.4 267.7h0M152.2 267.9h0M158.7 266.8h0M162.9 267.2h0M185.7 266.6h0M106.2 268.9h0M111.7 268.3h0M115.8 269.1h0M117.6 269.2h0M120.1 268.3h0M144.8 268.5h0M151.4 269.3h0M153.9 269.1h0M169.9 269.5h0M176.2 269.7h0M187.2 269.5h0M107.3 271.6h0M109.2 271.1h0M116.0 271.0h0M117.5 271.5h0M122.7 270.1h0M126.9 270.4h0M143.8 271.6h0M148.0 271.1h0M150.0 270.1h0M151.9 270.4h0M153.5 270.3h0M164.3 270.6h0M169.5 271.0h0M172.0 271.2h0M175.9 271.3h0M101.5 273.0h0M107.6 272.8h0M109.0 271.9h0M119.4 271.8h0M141.4 273.2h0M144.4 272.1h0M165.4 273.4h0M100.9 275.0h0M107.8 273.6h0M110.6 275.0h0M118.4 273.4h0M121.9 273.6h0M124.3 273.8h0M127.3 275.0h0M146.7 274.0h0M100.6 276.0h0M110.0 275.8h0M111.5 275.1h0M114.0 276.5h0M145.3 276.7h0M147.2 276.3h0M154.1 275.7h0M165.6 275.9h0M101.7 277.1h0M118.4 277.6h0M135.3 277.7h0M155.1 277.3h0M183.9 278.2h0M108.5 279.8h0M116.5 278.8h0M126.1 279.9h0M127.7 279.1h0M142.8 279.5h0M150.4 279.5h0M159.6 279.8h0M103.6 281.6h0M105.0 281.7h0M114.2 280.6h0M119.6 281.8h0M124.7 281.0h0M133.5 280.7h0M142.7 280.7h0M145.2 280.5h0M151.1 281.2h0M157.6 281.0h0M160.1 280.3h0M171.2 281.3h0M177.3 281.1h0M186.4 280.9h0M106.4 282.3h0M123.5 282.7h0M129.4 283.1h0M163.4 283.4h0M180.6 282.6h0" stroke="#36288c" stroke-width="2.25" stroke-linecap="round" fill="none"/>
<path d="M99.4 212.3h0M115.5 213.0h0M134.6 212.5h0M140.3 212.4h0M157.4 213.0h0M159.9 214.0h0M164.4 213.7h0M186.6 213.6h0M106.5 215.0h0M108.1 214.7h0M112.8 214.5h0M120.3 215.3h0M131.9 214.1h0M134.0 214.1h0M136.5 215.2h0M142.5 214.8h0M149.2 215.2h0M157.8 215.2h0M105.2 217.3h0M107.3 216.2h0M108.8 216.4h0M120.9 216.9h0M137.9 216.9h0M144.9 215.9h0M147.7 215.7h0M151.5 217.3h0M158.6 217.3h0M166.7 217.4h0M170.8 216.0h0M176.3 217.1h0M180.6 216.8h0M184.7 216.1h0M101.7 218.9h0M104.2 218.9h0M111.0 218.6h0M124.8 218.0h0M136.5 217.6h0M140.3 218.3h0M143.3 217.4h0M148.7 217.4h0M150.3 217.8h0M164.0 217.4h0M115.0 220.3h0M118.7 219.7h0M139.6 220.5h0M145.5 220.3h0M164.2 219.2h0M170.5 219.1h0M172.4 219.3h0M176.2 219.1h0M178.8 220.8h0M107.9 222.3h0M110.6 221.3h0M114.9 222.3h0M120.4 221.6h0M130.6 221.4h0M160.7 221.5h0M187.7 221.6h0M107.0 223.7h0M117.2 223.1h0M135.4 223.5h0M137.1 222.5h0M140.4 223.1h0M151.3 223.0h0M159.1 223.0h0M169.8 223.5h0M185.4 222.6h0M102.8 225.5h0M114.5 225.2h0M123.6 224.9h0M140.5 224.2h0M142.4 224.4h0M154.1 225.8h0M158.4 224.6h0M163.6 225.1h0M170.3 225.7h0M120.1 226.7h0M127.9 226.5h0M146.2 226.9h0M100.2 228.6h0M102.0 229.1h0M110.1 229.2h0M112.3 228.7h0M126.4 228.8h0M135.4 228.0h0M148.7 229.0h0M156.8 228.0h0M165.8 228.3h0M176.0 228.1h0M99.9 230.4h0M114.5 230.6h0M118.6 230.5h0M130.4 230.2h0M152.0 230.7h0M171.6 229.4h0M181.2 229.7h0M102.5 232.5h0M107.4 231.0h0M109.6 232.5h0M135.6 230.9h0M154.5 231.0h0M158.9 231.0h0M166.4 231.4h0M127.6 234.0h0M136.4 233.9h0M156.1 233.6h0M162.8 232.7h0M170.2 234.3h0M180.8 232.8h0M102.0 235.0h0M110.4 236.0h0M116.2 235.3h0M137.4 235.3h0M149.6 235.7h0M157.8 234.4h0M173.7 234.9h0M174.8 234.5h0M180.8 235.9h0M116.7 236.8h0M124.8 237.4h0M127.7 236.7h0M144.1 237.7h0M154.1 237.1h0M118.7 239.2h0M129.6 238.9h0M136.1 238.1h0M146.6 237.8h0M148.0 237.7h0M154.3 237.7h0M186.6 239.3h0M100.0 240.5h0M105.6 240.1h0M110.6 239.5h0M112.6 240.1h0M128.1 240.8h0M135.9 239.9h0M146.5 240.5h0M152.0 239.8h0M155.1 241.1h0M160.0 239.6h0M168.2 239.9h0M181.3 240.8h0M185.4 239.9h0M187.4 240.8h0M189.2 240.9h0M116.1 242.1h0M117.9 242.8h0M121.2 241.9h0M139.3 242.7h0M143.3 242.5h0M150.9 241.5h0M152.5 242.7h0M155.8 242.2h0M157.8 241.9h0M170.1 242.7h0M115.2 243.4h0M138.8 243.0h0M141.3 243.2h0M153.9 243.8h0M155.8 243.6h0M187.6 244.1h0M106.6 245.6h0M139.4 244.6h0M151.5 245.5h0M152.4 245.0h0M160.4 246.0h0M163.6 244.6h0M174.7 245.6h0M101.2 247.9h0M104.2 247.7h0M105.5 246.5h0M125.3 246.7h0M129.7 246.4h0M136.3 247.7h0M142.2 247.2h0M147.5 246.6h0M176.3 246.6h0M100.1 248.0h0M107.9 249.5h0M117.0 248.6h0M130.5 249.0h0M136.8 248.1h0M139.1 249.1h0M146.8 249.1h0M167.3 249.6h0M170.2 248.3h0M178.7 249.4h0M181.5 248.3h0M157.7 250.2h0M170.4 249.8h0M179.7 251.2h0M182.2 249.9h0M104.3 252.7h0M142.2 252.8h0M175.3 252.4h0M185.3 251.7h0M186.7 252.9h0M101.9 253.6h0M112.3 253.5h0M115.0 254.5h0M123.9 253.1h0M132.3 253.3h0M161.9 254.2h0M181.8 254.3h0M182.6 254.0h0M117.5 255.1h0M125.3 255.0h0M137.9 255.4h0M143.1 254.9h0M147.2 255.7h0M163.8 256.3h0M165.2 256.1h0M171.1 255.9h0M186.7 256.4h0M120.7 256.8h0M130.6 257.1h0M149.5 257.4h0M154.7 256.5h0M163.1 256.5h0M167.8 256.8h0M185.1 256.4h0M187.0 257.4h0M100.7 258.4h0M111.4 258.3h0M113.7 259.6h0M126.3 259.8h0M139.2 258.5h0M163.6 258.7h0M175.3 258.7h0M145.2 259.9h0M150.1 259.9h0M152.6 260.5h0M157.1 261.3h0M163.2 260.4h0M176.5 261.2h0M179.7 260.7h0M185.9 260.6h0M105.8 262.6h0M108.9 262.2h0M126.0 262.7h0M130.9 263.1h0M139.2 261.8h0M147.8 262.8h0M157.7 261.8h0M175.6 261.6h0M178.9 262.0h0M185.3 262.8h0M100.4 264.6h0M120.2 263.8h0M124.5 264.5h0M142.0 264.6h0M147.1 264.6h0M149.7 264.5h0M164.9 264.0h0M170.5 264.3h0M175.6 263.4h0M180.7 264.4h0M117.2 265.1h0M127.2 266.5h0M131.6 264.9h0M140.3 265.5h0M148.3 265.5h0M150.2 265.7h0M157.9 265.3h0M165.1 265.4h0M176.0 265.4h0M181.0 265.9h0M106.8 267.6h0M112.0 266.8h0M113.4 267.6h0M122.8 267.9h0M129.9 267.2h0M137.8 267.7h0M148.2 267.6h0M150.2 268.1h0M173.1 268.1h0M175.0 266.7h0M176.4 267.6h0M179.4 268.0h0M125.0 268.3h0M152.3 268.4h0M159.3 269.7h0M164.8 268.3h0M169.0 268.7h0M185.7 269.1h0M100.8 271.0h0M120.3 270.9h0M136.8 271.1h0M183.7 270.7h0M98.8 273.3h0M103.7 271.9h0M116.5 272.9h0M124.4 272.8h0M138.5 271.8h0M163.6 272.2h0M104.6 273.8h0M112.9 273.6h0M115.4 273.4h0M125.7 274.1h0M136.0 275.1h0M159.1 275.0h0M166.8 274.8h0M170.0 274.6h0M179.3 274.9h0M106.2 275.1h0M118.2 275.6h0M121.8 275.7h0M123.4 276.1h0M159.8 276.1h0M164.7 276.5h0M172.1 275.5h0M178.5 276.2h0M184.4 276.8h0M105.5 277.9h0M107.3 277.2h0M113.6 277.7h0M120.7 276.8h0M141.0 278.1h0M148.2 277.1h0M149.5 277.7h0M151.3 278.3h0M160.7 278.2h0M166.0 277.4h0M167.1 278.0h0M188.1 277.9h0M121.2 280.1h0M163.5 279.4h0M182.2 279.6h0M186.3 279.2h0M187.2 278.6h0M189.5 278.5h0M137.2 281.5h0M153.3 281.1h0M155.0 280.3h0M164.9 280.3h0M168.7 280.7h0M181.8 281.7h0M104.5 283.5h0M120.5 282.5h0M134.8 283.4h0M156.2 282.4h0M172.9 283.3h0M186.6 283.1h0" stroke="#443496" stroke-width="2.25" stroke-linecap="round" fill="none"/>
<path d="M107.5 212.7h0M143.6 212.8h0M184.7 212.9h0M128.4 215.0h0M137.1 215.5h0M150.8 215.5h0M153.6 214.9h0M177.4 214.3h0M185.0 214.3h0M112.8 216.6h0M165.7 215.9h0M108.0 218.2h0M123.4 217.7h0M152.4 217.7h0M167.6 217.4h0M188.2 218.3h0M115.8 219.9h0M128.0 219.7h0M156.6 220.3h0M161.6 219.3h0M166.7 220.3h0M181.9 220.7h0M184.6 219.9h0M186.6 219.2h0M123.4 221.7h0M169.1 221.2h0M170.2 220.8h0M185.6 221.7h0M190.0 221.5h0M121.5 223.3h0M134.2 222.6h0M117.6 224.6h0M120.2 224.9h0M156.2 224.6h0M180.1 224.9h0M104.6 227.0h0M108.0 226.2h0M114.9 226.8h0M130.0 226.6h0M116.2 227.8h0M133.5 228.7h0M143.0 227.9h0M162.4 228.3h0M171.3 228.0h0M178.3 229.0h0M185.2 228.3h0M110.8 229.3h0M114.0 229.2h0M122.4 229.6h0M135.5 229.9h0M143.9 230.0h0M150.0 230.3h0M177.3 229.6h0M185.2 229.6h0M187.8 230.0h0M190.2 229.6h0M113.9 231.3h0M140.0 231.0h0M162.1 231.7h0M105.4 234.0h0M119.0 234.0h0M120.4 233.5h0M138.7 232.7h0M182.8 232.8h0M187.5 233.1h0M129.2 235.1h0M135.6 234.7h0M143.2 235.3h0M176.5 234.7h0M102.5 237.3h0M103.9 236.3h0M112.4 236.8h0M142.0 237.7h0M150.9 237.5h0M184.9 236.7h0M152.5 238.5h0M162.1 238.1h0M180.7 238.8h0M117.7 241.0h0M126.8 242.7h0M173.7 241.5h0M117.5 243.3h0M120.5 243.1h0M130.4 242.9h0M132.4 243.3h0M143.5 242.9h0M177.6 244.3h0M180.7 243.3h0M146.1 246.1h0M170.3 245.9h0M172.7 245.8h0M176.9 245.8h0M182.1 245.2h0M184.9 244.8h0M185.4 244.9h0M169.8 246.7h0M119.5 249.3h0M121.9 249.6h0M140.6 249.0h0M154.3 248.3h0M162.3 249.3h0M189.9 248.4h0M131.3 251.1h0M154.7 249.9h0M120.2 252.0h0M132.3 251.7h0M140.2 252.9h0M107.5 254.7h0M109.5 253.9h0M141.6 254.7h0M144.1 253.3h0M151.3 253.5h0M187.2 253.0h0M110.0 254.8h0M122.9 254.7h0M160.7 255.2h0M166.8 256.0h0M111.5 256.4h0M114.2 257.7h0M116.4 257.9h0M155.9 257.4h0M159.6 256.7h0M170.7 257.1h0M105.2 258.8h0M119.3 258.7h0M134.4 258.2h0M151.5 259.6h0M159.7 258.1h0M178.7 258.6h0M101.9 261.0h0M106.0 260.2h0M117.8 260.9h0M129.6 260.8h0M137.4 260.7h0M141.1 261.1h0M161.0 260.9h0M122.1 263.0h0M122.3 263.9h0M145.5 263.6h0M151.5 264.8h0M178.8 264.0h0M187.5 264.4h0M132.7 266.2h0M135.0 266.3h0M143.6 265.6h0M174.4 264.9h0M180.4 265.0h0M126.8 268.2h0M130.9 266.8h0M138.5 267.1h0M169.6 267.5h0M181.7 267.8h0M104.0 268.5h0M138.8 268.9h0M138.1 271.5h0M123.5 273.3h0M141.9 272.1h0M151.8 272.7h0M167.6 272.8h0M171.1 272.7h0M175.5 272.8h0M143.4 274.0h0M153.7 274.0h0M169.4 273.7h0M182.6 274.2h0M119.9 276.3h0M126.2 275.9h0M133.2 275.6h0M179.3 275.7h0M190.0 275.7h0M125.6 278.1h0M128.0 278.3h0M129.9 277.6h0M133.0 277.0h0M134.9 277.9h0M141.9 277.1h0M181.1 278.4h0M134.1 279.4h0M135.5 278.6h0M141.4 278.6h0M180.5 278.7h0M139.6 281.1h0M166.1 281.4h0M108.6 282.5h0M117.7 282.4h0M137.7 281.8h0M165.7 283.1h0M171.0 282.0h0M178.8 282.2h0" stroke="#36288c" stroke-width="2.5" stroke-linecap="round" fill="none"/>
<path d="M121.1 213.9h0M123.1 213.2h0M155.5 213.9h0M167.8 212.4h0M175.9 213.7h0M179.9 213.1h0M122.0 214.6h0M125.8 215.1h0M155.0 214.3h0M180.0 214.3h0M102.4 217.2h0M130.4 215.8h0M139.8 217.2h0M155.1 216.2h0M168.7 217.0h0M175.6 217.1h0M187.9 216.8h0M127.4 217.9h0M175.1 218.7h0M107.9 220.7h0M130.0 219.4h0M132.1 220.1h0M138.1 220.0h0M142.2 220.2h0M147.4 219.7h0M166.0 221.3h0M118.7 223.3h0M153.5 223.3h0M186.8 223.7h0M102.1 224.9h0M119.0 224.4h0M126.9 224.3h0M134.2 225.0h0M188.7 225.3h0M137.1 227.5h0M174.1 227.4h0M132.2 227.8h0M182.9 228.5h0M126.6 230.7h0M173.2 229.7h0M175.8 231.0h0M118.0 232.1h0M121.9 232.3h0M185.6 231.0h0M125.0 233.9h0M132.6 234.1h0M148.0 232.6h0M179.3 233.4h0M104.3 234.5h0M132.0 235.1h0M152.1 235.2h0M166.6 235.6h0M169.3 234.7h0M170.9 235.2h0M178.4 235.8h0M135.5 236.7h0M136.8 236.1h0M141.0 237.4h0M157.0 236.4h0M162.1 236.2h0M165.8 237.0h0M181.9 237.4h0M170.0 238.4h0M185.0 239.4h0M118.6 240.0h0M140.8 240.9h0M150.4 241.1h0M177.9 239.5h0M124.6 242.4h0M140.3 241.5h0M136.9 244.0h0M175.3 243.9h0M120.5 246.7h0M139.7 247.9h0M152.3 247.2h0M187.4 247.6h0M123.1 249.5h0M128.9 248.4h0M176.8 249.3h0M102.8 249.6h0M105.3 251.2h0M121.9 249.7h0M126.3 249.6h0M128.1 250.2h0M139.9 251.1h0M141.8 250.6h0M111.4 251.4h0M148.1 254.6h0M171.7 253.9h0M180.0 253.6h0M106.4 255.7h0M139.3 255.3h0M155.4 256.2h0M181.0 255.7h0M126.6 257.4h0M141.5 257.0h0M110.8 259.3h0M123.2 259.3h0M130.2 259.5h0M131.4 258.9h0M142.9 258.1h0M144.9 258.3h0M176.1 259.2h0M110.2 261.5h0M155.5 260.6h0M158.9 260.1h0M178.9 260.6h0M182.4 261.3h0M142.3 262.8h0M180.1 262.9h0M116.4 263.7h0M117.8 264.1h0M130.1 264.8h0M136.1 264.9h0M137.3 264.7h0M182.9 264.8h0M100.3 266.6h0M106.9 265.4h0M165.6 266.2h0M167.8 265.5h0M103.4 267.7h0M156.7 267.3h0M132.0 269.2h0M134.0 269.6h0M178.6 269.4h0M180.9 268.4h0M182.4 269.1h0M190.1 268.7h0M113.4 272.7h0M146.8 273.2h0M154.3 273.1h0M173.6 272.1h0M189.3 272.0h0M113.3 274.2h0M172.8 274.9h0M132.2 275.2h0M150.7 275.1h0M168.6 275.2h0M174.2 275.4h0M187.6 275.9h0M108.4 278.0h0M157.2 277.0h0M102.9 279.1h0M110.6 280.1h0M131.9 278.7h0M137.4 279.6h0M165.2 279.1h0M172.8 279.8h0M178.8 278.6h0M121.2 281.7h0M126.9 281.7h0M170.3 280.4h0M112.0 283.0h0M151.5 281.9h0M152.3 282.0h0M176.1 282.8h0" stroke="#443496" stroke-width="2.5" stroke-linecap="round" fill="none"/>
</g></g>
<g clip-path="url(#c6)"><g filter="url(#soft)">
<rect x="189.5" y="214.1" width="87.6" height="66.8" fill="#eac7ff"/>
<rect x="189.5" y="214.1" width="87.6" height="66.8" filter="url(#m6)"/>
<ellipse cx="207" cy="247" rx="8" ry="13" fill="#b064b0" filter="url(#pb)" transform="rotate(0 207 247)"/>
<ellipse cx="236" cy="240" rx="8" ry="5" fill="#b064b0" filter="url(#pb)" transform="rotate(0 236 240)"/>
<ellipse cx="257" cy="265" rx="13" ry="9" fill="#b064b0" filter="url(#pb)" transform="rotate(0 257 265)"/>
<ellipse cx="238" cy="230" rx="7" ry="4" fill="#b874b4" filter="url(#pb)" transform="rotate(0 238 230)"/>
<ellipse cx="268" cy="250" rx="4" ry="8" fill="#b064b0" filter="url(#pb)" transform="rotate(0 268 250)"/>
<ellipse cx="225" cy="270" rx="6" ry="5" fill="#b874b4" filter="url(#pb)" transform="rotate(0 225 270)"/>
<path d="M206.8 213.3h0M246.2 214.0h0M192.1 214.2h0M215.7 215.3h0M266.3 214.9h0M273.8 214.3h0M275.0 214.5h0M225.8 217.0h0M254.7 216.4h0M251.0 217.8h0M252.8 217.4h0M271.5 217.7h0M273.0 218.4h0M195.5 219.5h0M219.5 219.5h0M230.8 220.2h0M243.7 219.8h0M189.7 220.6h0M195.7 221.3h0M208.6 220.5h0M211.3 223.7h0M237.5 223.5h0M247.2 222.1h0M256.5 222.2h0M274.1 223.0h0M193.5 224.1h0M247.2 224.3h0M249.9 224.3h0M222.6 226.0h0M188.9 227.2h0M204.8 228.3h0M209.3 227.9h0M237.5 226.9h0M220.6 228.5h0M226.3 229.8h0M198.0 231.2h0M213.8 230.3h0M217.2 231.4h0M241.6 230.5h0M206.2 232.5h0M220.4 231.9h0M249.4 232.9h0M247.5 234.0h0M275.6 234.8h0M201.5 235.5h0M219.3 235.2h0M225.8 235.2h0M248.1 235.9h0M211.5 238.0h0M216.7 237.2h0M251.3 239.7h0M276.1 238.5h0M217.9 241.1h0M263.8 240.4h0M252.4 242.1h0M264.3 242.1h0M278.8 241.4h0M208.4 243.1h0M266.6 244.0h0M258.3 245.4h0M262.5 245.9h0M247.3 246.5h0M207.6 248.5h0M221.0 248.0h0M274.9 248.6h0M198.3 250.7h0M225.9 250.6h0M270.2 249.8h0M256.7 252.0h0M271.3 252.2h0M190.6 253.2h0M204.8 253.9h0M237.5 253.6h0M227.0 254.6h0M247.0 255.5h0M260.5 255.6h0M263.1 255.2h0M269.3 255.0h0M276.9 254.7h0M198.6 256.2h0M204.1 257.1h0M195.3 258.8h0M212.2 258.0h0M220.7 260.4h0M227.9 260.0h0M207.3 262.1h0M219.2 261.2h0M262.8 262.0h0M200.0 262.5h0M256.1 263.3h0M238.1 264.9h0M222.1 265.9h0M223.0 268.1h0M273.5 267.8h0M231.1 268.7h0M268.3 270.0h0M206.6 270.7h0M210.0 271.9h0M221.0 272.9h0M263.2 273.8h0M255.6 276.5h0M194.0 278.4h0M210.5 278.0h0M246.1 277.6h0M248.5 277.4h0M217.2 279.2h0M226.9 280.3h0M256.7 280.3h0M221.5 281.8h0" stroke="#361e7a" stroke-width="1.75" stroke-linecap="round" fill="none"/>
<path d="M226.2 213.2h0M250.5 213.4h0M211.4 214.5h0M224.9 214.5h0M229.2 215.0h0M263.2 214.8h0M243.6 217.0h0M194.5 217.2h0M203.7 217.4h0M220.2 217.6h0M229.0 218.1h0M242.5 217.5h0M269.5 217.9h0M204.5 219.8h0M222.5 220.1h0M228.9 220.3h0M240.1 221.4h0M255.2 221.7h0M263.8 220.5h0M268.6 221.1h0M257.4 222.2h0M229.5 225.1h0M245.6 224.1h0M255.1 223.7h0M273.5 224.5h0M207.1 226.0h0M216.8 228.4h0M247.2 227.2h0M257.7 227.0h0M277.4 227.6h0M208.0 228.7h0M209.7 228.4h0M260.5 229.7h0M245.0 231.6h0M228.9 232.6h0M267.1 232.7h0M272.8 233.3h0M222.1 234.0h0M260.6 236.2h0M271.7 236.4h0M254.5 237.3h0M266.8 237.5h0M208.9 239.6h0M216.0 238.2h0M228.5 239.0h0M237.1 239.7h0M259.4 239.5h0M224.2 241.3h0M242.7 241.2h0M190.1 241.5h0M197.7 246.0h0M222.1 245.9h0M275.3 245.2h0M220.6 246.8h0M248.7 246.9h0M270.3 246.2h0M272.5 247.6h0M242.4 248.1h0M248.9 249.0h0M201.9 250.2h0M235.8 250.3h0M222.2 251.4h0M246.3 251.9h0M231.9 252.6h0M254.7 252.8h0M275.8 253.3h0M190.3 255.4h0M194.9 254.3h0M219.8 255.2h0M236.7 256.4h0M189.3 259.3h0M236.0 260.1h0M239.0 259.5h0M247.6 260.2h0M257.3 259.7h0M203.7 261.1h0M249.3 262.1h0M264.1 262.0h0M266.2 262.1h0M205.1 263.2h0M188.1 264.4h0M191.8 264.9h0M221.0 264.8h0M265.9 265.1h0M211.6 266.1h0M217.0 265.7h0M238.6 265.7h0M229.9 267.8h0M249.7 267.7h0M259.7 269.2h0M200.2 270.3h0M254.6 271.5h0M268.6 271.4h0M234.5 273.0h0M268.5 274.9h0M208.1 276.8h0M235.6 276.6h0M272.0 277.5h0M198.9 278.4h0M228.9 278.5h0M253.3 278.8h0M276.7 278.7h0M214.6 280.5h0M229.8 280.1h0M245.1 281.5h0M226.7 283.2h0" stroke="#462886" stroke-width="1.75" stroke-linecap="round" fill="none"/>
<path d="M193.5 212.5h0M203.4 213.7h0M232.7 213.3h0M241.6 212.8h0M246.6 213.1h0M253.6 213.0h0M279.2 213.4h0M203.6 214.6h0M219.3 214.9h0M223.9 214.7h0M234.6 214.6h0M238.8 215.1h0M243.9 214.2h0M252.1 215.3h0M194.5 216.7h0M197.3 217.2h0M202.8 215.7h0M215.8 216.2h0M245.9 216.2h0M248.7 216.3h0M257.7 216.9h0M272.8 215.6h0M274.3 216.6h0M188.3 218.5h0M190.3 217.4h0M201.1 218.7h0M210.7 218.1h0M227.9 218.0h0M230.9 217.5h0M232.9 217.2h0M237.5 218.3h0M240.6 218.8h0M261.2 217.5h0M262.2 217.8h0M268.5 217.9h0M188.6 220.3h0M199.3 220.3h0M210.1 220.3h0M211.6 219.9h0M232.5 219.1h0M248.0 219.5h0M251.2 219.6h0M257.4 220.4h0M266.3 220.2h0M201.4 221.5h0M215.4 221.7h0M223.8 220.7h0M226.9 220.7h0M266.7 221.9h0M194.6 222.7h0M202.3 222.4h0M208.5 222.9h0M210.5 223.0h0M214.4 223.3h0M219.4 222.8h0M221.0 222.3h0M233.0 223.2h0M248.9 222.4h0M254.1 222.3h0M196.7 224.2h0M233.1 225.1h0M251.5 224.6h0M264.2 223.6h0M266.1 223.9h0M275.1 224.3h0M190.4 225.2h0M193.2 226.5h0M205.5 226.5h0M211.4 225.7h0M225.5 226.0h0M245.6 226.5h0M275.5 226.5h0M198.2 227.8h0M222.2 227.7h0M238.5 227.1h0M253.3 227.5h0M260.6 227.0h0M275.0 227.3h0M234.6 229.8h0M258.3 229.8h0M189.8 230.4h0M202.8 231.6h0M209.1 231.4h0M223.7 230.8h0M238.9 230.1h0M249.3 230.5h0M249.5 231.0h0M267.2 230.3h0M268.1 230.9h0M189.9 232.7h0M191.4 232.1h0M224.9 232.6h0M238.6 232.0h0M240.8 231.7h0M258.1 232.8h0M271.4 233.0h0M275.2 233.1h0M202.3 234.0h0M211.1 233.6h0M218.2 234.3h0M237.0 233.9h0M240.0 233.7h0M245.7 234.7h0M190.8 235.0h0M212.0 235.7h0M215.4 236.0h0M234.0 236.3h0M241.6 236.5h0M265.3 235.1h0M269.9 235.0h0M199.6 237.0h0M213.6 237.1h0M238.7 238.0h0M248.0 238.1h0M251.7 237.3h0M257.4 237.0h0M259.1 237.4h0M264.0 237.1h0M271.9 237.2h0M275.5 237.4h0M200.5 238.5h0M209.8 239.1h0M231.5 239.2h0M241.0 239.5h0M264.1 239.0h0M264.8 238.8h0M206.3 240.6h0M244.7 240.2h0M277.5 240.6h0M216.4 241.8h0M243.8 242.8h0M249.8 241.3h0M260.8 242.3h0M261.9 241.4h0M265.3 242.2h0M275.0 242.7h0M276.4 242.5h0M216.1 244.1h0M229.5 243.9h0M251.1 244.2h0M203.6 246.0h0M220.6 246.0h0M240.6 244.7h0M253.7 245.9h0M190.1 246.9h0M193.4 247.6h0M201.7 247.5h0M223.4 246.3h0M223.8 246.5h0M231.9 247.7h0M241.3 247.6h0M259.4 247.6h0M223.4 248.6h0M253.2 248.7h0M255.0 248.5h0M255.9 248.6h0M260.4 248.5h0M268.1 249.1h0M278.1 248.0h0M212.0 250.5h0M213.8 249.6h0M217.5 249.5h0M229.4 249.8h0M230.3 250.1h0M234.4 250.3h0M249.6 249.7h0M257.0 250.7h0M259.0 249.8h0M273.2 250.1h0M276.0 250.1h0M194.2 251.7h0M209.5 251.2h0M216.5 251.5h0M238.5 251.9h0M244.6 251.5h0M251.1 251.4h0M271.0 252.2h0M196.3 253.7h0M198.6 253.0h0M214.3 253.8h0M232.9 253.6h0M240.4 252.6h0M244.8 253.2h0M250.0 254.2h0M253.7 254.0h0M258.7 253.3h0M267.5 252.9h0M271.9 253.6h0M278.2 253.5h0M211.7 254.5h0M230.5 254.6h0M237.5 255.1h0M239.7 255.2h0M265.9 255.6h0M193.0 256.4h0M195.9 256.6h0M209.6 255.9h0M217.6 257.4h0M223.8 257.2h0M230.8 257.2h0M234.9 256.3h0M243.9 256.6h0M275.0 257.2h0M192.5 258.8h0M197.0 258.1h0M202.2 259.0h0M214.1 258.3h0M239.2 257.8h0M245.2 258.7h0M248.9 258.9h0M264.4 257.9h0M276.6 258.7h0M212.6 259.2h0M213.2 259.2h0M217.9 260.2h0M219.8 260.7h0M244.1 260.3h0M255.0 259.8h0M260.6 260.2h0M274.4 259.3h0M278.0 260.4h0M189.8 262.0h0M215.9 261.7h0M225.2 261.2h0M228.4 261.4h0M248.0 261.9h0M253.2 262.2h0M275.4 260.8h0M201.6 263.5h0M216.9 263.0h0M221.1 262.4h0M243.9 263.1h0M250.0 262.5h0M251.7 263.6h0M273.3 262.9h0M200.1 264.1h0M221.8 264.7h0M241.7 265.5h0M200.9 266.1h0M203.9 265.8h0M209.9 265.7h0M218.7 266.0h0M227.5 267.0h0M240.0 267.1h0M257.7 266.8h0M265.8 266.9h0M270.8 266.8h0M189.7 267.7h0M194.9 267.5h0M203.3 268.2h0M205.9 268.2h0M212.7 267.7h0M215.2 268.4h0M260.1 268.2h0M263.9 268.6h0M208.9 269.6h0M212.5 269.8h0M215.1 269.7h0M216.9 270.0h0M241.2 269.5h0M249.5 269.3h0M254.2 270.0h0M254.7 269.6h0M267.0 268.8h0M272.8 269.5h0M211.4 270.6h0M237.7 271.8h0M250.6 270.3h0M252.6 271.4h0M263.3 270.6h0M202.7 272.2h0M213.5 272.8h0M236.0 272.4h0M239.5 273.1h0M246.2 273.2h0M266.9 273.5h0M276.8 272.9h0M190.9 274.8h0M198.2 274.0h0M227.9 274.7h0M231.6 275.0h0M233.4 275.1h0M240.0 274.1h0M257.8 274.4h0M260.2 273.6h0M275.5 275.0h0M196.3 276.7h0M204.5 276.1h0M212.1 275.8h0M216.2 276.0h0M245.4 275.5h0M256.6 276.3h0M260.6 276.7h0M269.3 276.3h0M196.1 278.2h0M216.4 276.8h0M222.5 277.8h0M228.0 277.0h0M228.6 276.9h0M233.3 278.4h0M270.0 277.2h0M201.1 278.7h0M208.6 279.6h0M212.7 279.4h0M221.9 279.0h0M223.4 279.6h0M245.3 279.3h0M251.7 279.1h0M259.3 278.6h0M194.3 280.8h0M199.8 280.1h0M207.0 280.2h0M215.9 280.9h0M225.5 280.5h0M230.7 280.4h0M272.2 281.5h0M189.7 282.7h0M192.8 282.5h0M194.5 283.2h0M199.7 282.8h0M207.2 283.1h0M211.0 282.1h0M216.6 281.7h0M249.2 282.1h0M263.3 281.6h0" stroke="#361e7a" stroke-width="2.0" stroke-linecap="round" fill="none"/>
<path d="M189.2 213.5h0M191.7 213.5h0M200.5 213.1h0M204.4 213.9h0M240.3 213.5h0M255.2 213.2h0M260.8 213.1h0M262.2 213.4h0M269.5 213.8h0M271.6 212.9h0M273.1 213.9h0M196.0 214.5h0M196.7 214.8h0M199.6 214.6h0M201.5 214.3h0M213.8 215.1h0M233.3 214.8h0M241.4 215.0h0M266.9 214.9h0M279.5 214.0h0M200.9 215.9h0M204.9 216.9h0M208.1 217.0h0M211.5 216.8h0M214.1 216.2h0M222.6 217.2h0M234.5 217.1h0M241.2 216.6h0M262.1 217.1h0M264.6 215.8h0M192.7 217.5h0M206.9 217.2h0M223.8 218.7h0M239.4 218.1h0M247.0 218.7h0M249.4 217.3h0M275.5 218.7h0M277.0 218.8h0M190.6 219.2h0M192.5 219.0h0M202.1 218.8h0M212.6 220.4h0M245.0 219.5h0M258.8 220.0h0M264.7 218.8h0M192.5 220.5h0M225.5 221.6h0M257.5 221.8h0M276.4 220.9h0M191.9 223.1h0M197.7 222.7h0M222.5 222.1h0M229.2 222.9h0M230.1 223.5h0M234.4 222.0h0M242.7 223.3h0M253.2 222.7h0M261.7 222.3h0M267.0 222.3h0M199.4 224.9h0M211.2 224.6h0M212.2 224.9h0M221.6 224.5h0M230.8 224.6h0M240.3 224.3h0M242.4 224.8h0M252.6 223.7h0M200.8 226.1h0M208.5 226.0h0M215.4 225.7h0M259.4 226.8h0M194.7 228.1h0M201.1 227.3h0M201.3 227.6h0M205.1 227.6h0M235.4 227.9h0M243.4 227.9h0M266.0 227.3h0M276.1 227.7h0M192.3 229.6h0M193.7 229.3h0M215.8 229.5h0M223.5 229.9h0M237.9 230.0h0M243.1 228.9h0M249.7 229.8h0M255.2 229.6h0M267.9 229.7h0M273.8 230.0h0M274.3 230.1h0M191.3 231.3h0M204.2 231.5h0M211.7 230.1h0M221.2 230.6h0M226.8 230.8h0M231.0 230.4h0M262.5 230.9h0M272.2 230.9h0M276.7 231.3h0M198.1 233.1h0M201.0 232.2h0M208.7 231.8h0M214.3 232.0h0M227.8 232.9h0M230.8 233.0h0M237.1 231.9h0M246.0 232.1h0M253.3 232.5h0M254.6 232.7h0M261.9 232.7h0M265.3 231.9h0M270.1 232.4h0M278.8 232.3h0M197.8 234.8h0M225.2 234.2h0M244.2 234.7h0M253.5 233.4h0M256.9 234.0h0M267.5 233.9h0M210.6 236.3h0M235.6 235.1h0M251.0 236.4h0M254.8 236.2h0M279.5 235.2h0M190.5 237.0h0M196.7 236.8h0M207.2 238.1h0M220.7 236.9h0M221.1 236.8h0M268.1 237.5h0M273.2 238.0h0M276.9 237.5h0M190.2 239.0h0M196.6 238.9h0M217.3 238.6h0M222.8 239.0h0M238.8 239.2h0M245.1 239.2h0M256.9 239.4h0M258.9 238.1h0M266.8 239.5h0M270.3 239.2h0M198.0 240.4h0M200.4 240.4h0M205.8 241.0h0M209.0 240.6h0M232.3 240.3h0M238.4 239.9h0M246.4 240.9h0M258.4 240.3h0M271.5 241.0h0M275.1 240.6h0M193.5 241.6h0M195.1 242.4h0M199.8 241.4h0M205.7 241.9h0M206.0 242.8h0M212.0 241.6h0M219.6 242.5h0M228.7 241.6h0M238.0 241.6h0M240.7 241.5h0M257.8 242.0h0M270.0 241.6h0M270.9 242.6h0M197.3 243.9h0M204.8 243.2h0M234.3 243.9h0M237.6 243.0h0M243.0 242.9h0M256.9 244.0h0M258.3 244.5h0M271.3 243.6h0M274.4 243.8h0M189.9 244.7h0M192.3 245.8h0M199.9 244.7h0M209.6 245.5h0M216.9 245.9h0M225.4 245.2h0M241.5 245.9h0M197.0 247.1h0M199.1 247.5h0M213.8 247.4h0M226.8 247.4h0M236.9 246.4h0M239.2 246.7h0M243.1 246.4h0M254.1 246.3h0M255.4 247.2h0M257.7 247.5h0M261.8 247.7h0M264.6 246.4h0M278.3 246.7h0M197.1 248.4h0M198.3 248.3h0M212.4 248.9h0M232.5 248.7h0M233.5 249.1h0M245.7 248.3h0M251.6 248.6h0M261.8 249.2h0M277.0 248.2h0M190.5 249.6h0M192.3 249.5h0M194.1 250.2h0M205.7 251.0h0M211.2 250.6h0M238.9 250.4h0M242.4 250.4h0M243.3 250.9h0M247.5 250.0h0M262.1 250.9h0M263.9 250.4h0M197.5 251.4h0M213.1 251.5h0M224.6 252.3h0M231.4 251.5h0M233.1 252.4h0M255.7 251.9h0M264.1 252.0h0M276.5 252.1h0M192.5 252.7h0M206.5 253.8h0M224.4 253.8h0M270.4 253.7h0M203.4 255.0h0M233.2 255.1h0M245.1 255.3h0M254.0 255.6h0M262.1 255.7h0M212.6 257.1h0M214.4 257.2h0M219.6 257.4h0M228.0 256.1h0M247.1 256.5h0M251.9 255.8h0M263.2 256.5h0M216.4 258.1h0M223.1 259.0h0M251.7 258.7h0M258.1 257.8h0M268.8 258.3h0M274.5 258.1h0M192.9 260.6h0M197.7 259.8h0M199.3 259.1h0M230.3 259.7h0M233.7 259.6h0M256.1 259.6h0M267.5 260.6h0M269.8 260.1h0M273.1 260.0h0M201.9 261.2h0M227.2 261.4h0M237.0 261.9h0M251.4 260.7h0M255.2 261.5h0M259.7 262.3h0M210.0 263.4h0M218.1 263.1h0M223.5 263.5h0M240.7 262.4h0M248.3 263.4h0M271.2 262.5h0M277.7 263.0h0M202.9 265.3h0M208.6 264.9h0M213.1 264.2h0M217.7 264.4h0M225.2 264.9h0M227.5 265.0h0M235.7 265.3h0M251.2 264.1h0M259.2 265.3h0M260.3 265.3h0M271.7 265.0h0M278.3 264.9h0M195.0 266.8h0M196.7 266.7h0M198.9 265.5h0M208.1 267.0h0M231.3 266.0h0M242.5 266.2h0M249.6 266.2h0M255.7 266.8h0M191.9 268.2h0M204.0 267.3h0M217.0 268.6h0M221.5 268.4h0M226.4 267.2h0M207.4 269.0h0M211.5 270.3h0M220.0 270.1h0M223.6 270.1h0M226.4 269.7h0M230.1 268.7h0M235.4 269.3h0M236.4 269.2h0M244.5 270.2h0M245.4 270.1h0M251.5 269.2h0M277.3 269.5h0M193.4 271.5h0M194.6 271.6h0M201.9 270.5h0M207.2 271.6h0M212.8 271.2h0M271.0 271.5h0M272.5 271.4h0M277.2 271.9h0M191.0 273.2h0M193.5 273.3h0M195.2 273.0h0M204.1 273.3h0M211.3 272.2h0M216.0 272.1h0M256.6 272.6h0M257.2 273.0h0M272.0 273.2h0M275.3 272.8h0M207.1 273.9h0M237.2 274.2h0M246.3 274.4h0M248.8 275.1h0M254.3 275.0h0M278.8 274.2h0M221.7 276.2h0M223.3 275.9h0M230.1 276.2h0M232.3 275.5h0M234.1 275.2h0M240.7 276.5h0M241.3 275.2h0M247.6 276.3h0M253.1 276.1h0M266.4 276.3h0M273.9 275.9h0M278.4 275.6h0M204.2 277.9h0M256.3 276.9h0M266.5 277.4h0M190.4 278.7h0M191.3 279.1h0M194.3 279.3h0M206.1 279.1h0M215.0 279.6h0M233.3 278.8h0M236.5 279.4h0M257.5 280.0h0M261.0 279.9h0M266.1 278.5h0M267.2 278.6h0M269.7 279.2h0M272.9 279.0h0M197.8 281.1h0M219.2 280.6h0M221.5 280.0h0M244.0 280.8h0M249.6 281.4h0M253.5 281.3h0M265.1 281.2h0M270.0 280.5h0M274.1 281.4h0M274.7 280.8h0M277.0 281.2h0M202.7 281.8h0M208.9 281.8h0M223.4 282.0h0M246.7 282.6h0M252.7 283.0h0M254.6 281.8h0M268.5 281.9h0M272.1 281.7h0" stroke="#462886" stroke-width="2.0" stroke-linecap="round" fill="none"/>
<path d="M196.9 213.4h0M209.5 213.9h0M211.5 213.6h0M217.7 213.5h0M222.8 213.2h0M244.0 213.8h0M249.2 212.7h0M257.1 213.1h0M276.3 213.5h0M205.3 214.7h0M207.1 215.6h0M218.4 215.5h0M221.5 215.2h0M231.5 214.7h0M248.9 214.2h0M257.3 214.8h0M271.1 215.1h0M277.6 214.2h0M195.9 216.5h0M217.7 215.6h0M220.4 216.5h0M200.0 218.2h0M212.8 217.7h0M214.9 217.7h0M244.5 218.5h0M246.1 218.1h0M257.5 218.5h0M265.8 218.0h0M221.0 219.3h0M234.3 219.6h0M246.9 219.5h0M251.9 219.0h0M253.5 219.0h0M255.2 220.1h0M269.4 219.7h0M270.3 219.8h0M272.2 219.8h0M197.4 221.1h0M217.9 221.1h0M229.0 221.4h0M244.5 221.9h0M249.2 220.9h0M272.1 221.7h0M278.4 221.9h0M189.6 222.0h0M201.6 223.0h0M245.8 222.6h0M278.9 222.5h0M205.5 224.3h0M215.0 224.0h0M217.7 224.7h0M219.5 224.0h0M227.4 224.9h0M238.0 224.2h0M259.3 225.2h0M260.2 225.1h0M202.1 226.7h0M202.9 226.2h0M220.2 226.9h0M223.9 225.5h0M232.3 225.3h0M234.1 225.6h0M234.7 225.8h0M244.7 225.5h0M251.0 226.8h0M254.2 226.2h0M258.0 226.7h0M261.1 226.2h0M264.4 226.9h0M274.9 225.6h0M192.5 227.9h0M211.7 227.6h0M213.9 227.9h0M215.7 227.7h0M219.1 227.1h0M224.4 228.3h0M229.7 228.5h0M234.3 228.0h0M255.3 228.0h0M269.0 227.9h0M272.8 228.3h0M196.5 229.7h0M199.5 228.7h0M200.7 229.6h0M202.3 228.9h0M212.5 228.7h0M214.1 228.8h0M224.1 229.5h0M246.7 229.6h0M251.4 228.5h0M256.2 228.5h0M266.2 228.8h0M278.5 228.5h0M192.6 231.5h0M200.5 231.3h0M215.0 231.2h0M218.1 231.4h0M233.0 231.3h0M251.7 230.2h0M255.2 231.5h0M259.0 230.4h0M199.2 232.5h0M216.7 232.2h0M221.4 232.9h0M242.0 232.2h0M243.5 231.8h0M257.4 231.7h0M260.7 233.3h0M276.9 232.5h0M195.4 233.5h0M199.9 234.4h0M208.5 234.6h0M213.9 233.8h0M224.1 233.6h0M227.7 233.6h0M254.4 234.5h0M261.8 234.6h0M192.3 235.3h0M195.1 235.3h0M208.6 235.8h0M227.0 235.2h0M232.4 236.5h0M237.8 235.3h0M258.7 236.5h0M261.4 234.9h0M212.3 238.1h0M237.3 236.5h0M252.7 236.8h0M261.0 238.0h0M211.2 238.7h0M254.1 239.4h0M192.0 241.1h0M210.7 240.4h0M212.7 240.3h0M221.6 241.3h0M231.5 240.7h0M236.3 240.7h0M250.7 240.5h0M257.7 239.9h0M192.2 242.3h0M197.5 242.2h0M209.3 241.9h0M221.3 242.3h0M224.7 241.7h0M226.3 241.7h0M232.1 242.4h0M245.0 241.5h0M248.1 241.9h0M194.1 244.3h0M214.0 243.8h0M223.9 243.0h0M239.7 243.1h0M255.2 244.3h0M268.2 243.0h0M276.9 244.5h0M193.2 246.0h0M195.3 244.6h0M218.4 244.7h0M228.1 245.9h0M229.7 245.6h0M233.5 244.6h0M234.2 245.9h0M244.5 245.1h0M254.5 246.1h0M256.7 245.4h0M260.7 246.1h0M266.7 245.8h0M271.6 245.4h0M272.9 245.5h0M214.5 247.8h0M228.3 246.5h0M233.0 247.2h0M252.6 247.7h0M191.3 248.0h0M193.0 248.8h0M195.2 248.1h0M202.6 248.8h0M205.1 248.0h0M206.3 248.7h0M210.4 248.2h0M227.1 248.7h0M243.3 249.1h0M246.7 248.4h0M271.2 248.7h0M196.4 250.4h0M223.0 249.8h0M227.7 249.5h0M254.6 249.8h0M265.9 250.6h0M188.6 251.7h0M196.7 251.6h0M199.4 251.9h0M226.5 252.5h0M249.1 252.2h0M263.1 251.1h0M273.4 251.9h0M210.8 253.1h0M246.2 254.1h0M251.1 253.8h0M193.2 254.9h0M198.8 255.9h0M201.0 255.3h0M204.5 255.8h0M208.3 254.4h0M210.7 254.9h0M223.4 254.9h0M236.6 254.4h0M249.5 255.2h0M257.1 255.0h0M257.7 254.9h0M272.8 255.7h0M240.5 256.9h0M257.0 256.1h0M272.0 256.3h0M192.0 259.0h0M209.7 258.7h0M214.6 258.4h0M220.4 257.8h0M227.9 259.1h0M231.1 259.0h0M235.4 258.3h0M242.3 257.4h0M251.1 257.6h0M272.1 259.0h0M191.0 259.7h0M201.5 259.1h0M204.0 259.5h0M206.5 259.6h0M223.2 259.5h0M224.9 259.7h0M238.6 260.7h0M241.3 260.4h0M271.0 259.5h0M195.6 260.9h0M200.1 261.2h0M209.3 262.2h0M213.6 261.2h0M222.7 261.2h0M233.2 261.5h0M240.6 261.5h0M190.7 262.4h0M196.3 263.8h0M197.0 262.2h0M209.4 262.6h0M262.5 262.4h0M270.3 263.2h0M276.2 262.8h0M195.7 264.4h0M201.0 264.5h0M205.6 265.4h0M211.2 264.7h0M214.2 264.2h0M224.6 264.5h0M229.6 265.1h0M232.7 265.4h0M246.1 263.9h0M250.4 264.7h0M253.1 265.3h0M203.6 266.2h0M206.6 266.1h0M214.1 266.2h0M215.1 266.0h0M235.4 265.6h0M244.3 266.9h0M259.5 266.4h0M278.8 266.0h0M192.8 267.6h0M225.2 267.3h0M233.7 267.3h0M241.1 268.6h0M277.3 267.9h0M190.6 269.2h0M192.0 269.4h0M195.9 268.9h0M198.1 269.0h0M204.1 268.9h0M222.0 269.5h0M239.5 269.3h0M262.1 269.5h0M198.2 271.8h0M203.8 271.7h0M215.8 270.4h0M224.7 271.9h0M231.2 271.2h0M238.4 270.7h0M244.6 270.8h0M196.4 272.9h0M197.8 272.5h0M200.5 272.0h0M206.6 272.9h0M217.2 272.5h0M219.4 272.5h0M221.9 272.6h0M231.4 273.5h0M238.1 272.7h0M243.7 272.5h0M249.9 272.3h0M253.5 273.1h0M268.9 272.8h0M192.3 274.9h0M206.0 274.2h0M209.1 274.8h0M214.1 274.2h0M214.6 274.5h0M217.2 274.3h0M220.1 273.8h0M226.5 275.0h0M235.7 274.4h0M242.8 274.0h0M245.3 273.6h0M265.9 274.2h0M273.7 274.5h0M193.4 275.7h0M199.1 275.6h0M200.9 275.9h0M202.8 275.8h0M206.1 275.6h0M209.8 276.1h0M244.3 275.2h0M264.7 276.7h0M188.9 276.9h0M192.1 277.0h0M205.2 278.3h0M207.5 277.0h0M218.0 278.0h0M220.0 278.0h0M224.0 277.4h0M234.2 277.8h0M240.2 276.8h0M251.8 277.4h0M255.9 278.1h0M260.9 277.6h0M263.4 277.3h0M269.0 278.0h0M197.9 279.6h0M219.8 278.4h0M230.6 279.5h0M234.3 278.3h0M244.3 279.6h0M249.7 278.6h0M188.1 281.4h0M192.2 280.8h0M205.7 281.3h0M208.5 280.5h0M210.7 280.6h0M212.7 280.9h0M218.3 280.9h0M234.3 280.6h0M238.8 281.6h0M266.3 280.3h0M195.9 283.0h0M212.2 281.9h0M217.4 282.1h0M220.1 282.1h0M237.4 283.2h0M238.9 283.1h0M258.6 282.1h0M265.0 283.0h0" stroke="#361e7a" stroke-width="2.25" stroke-linecap="round" fill="none"/>
<path d="M208.4 213.6h0M213.2 214.0h0M215.6 213.0h0M219.3 213.4h0M230.7 213.6h0M257.9 214.0h0M267.3 212.6h0M274.2 213.7h0M194.1 214.0h0M211.1 214.8h0M245.7 214.8h0M258.4 214.6h0M259.7 214.1h0M189.5 216.2h0M192.0 215.9h0M199.0 216.8h0M224.2 217.0h0M228.9 215.7h0M237.1 216.6h0M239.2 215.6h0M242.3 216.4h0M251.5 216.2h0M261.0 216.0h0M266.4 216.7h0M277.7 216.7h0M197.4 218.3h0M209.6 218.3h0M221.4 218.0h0M234.5 218.2h0M196.9 220.1h0M200.7 219.9h0M205.4 220.1h0M208.4 219.5h0M216.9 220.0h0M224.9 219.6h0M225.7 219.6h0M236.7 220.4h0M274.2 220.3h0M276.0 218.9h0M277.6 218.8h0M198.6 220.9h0M202.7 221.2h0M231.4 222.0h0M237.8 221.6h0M247.9 221.2h0M251.2 221.6h0M272.9 221.6h0M192.8 222.1h0M204.6 222.9h0M206.1 222.8h0M215.5 222.4h0M224.6 223.2h0M226.3 223.2h0M236.7 222.5h0M239.5 223.6h0M241.7 222.8h0M250.3 223.0h0M259.9 222.7h0M264.9 222.6h0M271.0 223.6h0M273.3 222.1h0M276.0 222.5h0M187.8 225.0h0M191.3 224.4h0M198.1 224.6h0M202.0 224.3h0M203.4 224.5h0M208.9 225.2h0M216.7 224.7h0M237.5 224.4h0M244.6 225.0h0M257.4 224.3h0M268.7 224.4h0M189.5 225.3h0M196.2 226.4h0M198.6 226.1h0M216.3 226.2h0M228.0 225.3h0M237.8 226.5h0M238.2 225.5h0M240.2 225.3h0M248.2 226.7h0M250.6 226.3h0M268.9 225.4h0M206.9 228.2h0M225.4 227.2h0M232.5 227.3h0M240.7 227.2h0M245.5 227.3h0M247.9 227.1h0M259.3 228.4h0M262.5 226.9h0M265.2 226.9h0M205.3 228.7h0M218.0 229.2h0M238.9 230.0h0M244.7 228.9h0M252.8 228.8h0M261.4 229.2h0M269.5 230.0h0M271.2 229.8h0M277.1 228.6h0M194.6 230.3h0M205.4 231.7h0M222.2 231.5h0M228.3 231.3h0M229.6 231.7h0M246.0 230.6h0M257.6 231.0h0M194.5 232.2h0M195.8 232.5h0M204.9 232.5h0M211.3 233.3h0M223.6 233.0h0M246.9 232.6h0M190.9 234.9h0M194.2 234.4h0M212.5 234.6h0M215.5 234.8h0M220.1 233.9h0M241.6 234.5h0M248.9 234.5h0M251.1 234.4h0M258.0 234.2h0M266.4 234.4h0M193.5 235.0h0M197.1 236.3h0M199.8 235.3h0M217.6 236.4h0M222.2 235.9h0M228.7 236.3h0M239.6 235.8h0M244.0 235.7h0M249.3 235.7h0M263.8 235.9h0M192.6 237.7h0M193.5 237.1h0M198.4 237.2h0M224.1 236.5h0M227.7 237.7h0M262.5 237.8h0M191.2 239.5h0M194.8 239.7h0M218.6 238.3h0M220.4 238.9h0M230.8 238.9h0M234.3 238.4h0M272.0 238.2h0M190.7 239.9h0M196.4 240.5h0M216.3 239.8h0M220.3 239.9h0M227.6 240.1h0M239.6 241.1h0M250.2 240.6h0M252.6 240.5h0M260.3 241.3h0M267.0 240.2h0M268.0 240.4h0M274.1 241.3h0M214.9 242.3h0M251.2 242.6h0M273.7 242.3h0M190.7 244.3h0M195.0 243.7h0M203.5 244.4h0M219.4 243.7h0M227.3 244.4h0M241.0 244.5h0M273.8 244.0h0M222.8 245.3h0M237.1 246.1h0M238.4 245.5h0M248.3 246.0h0M267.7 245.2h0M207.1 247.4h0M211.9 247.7h0M216.8 247.6h0M219.6 246.4h0M230.5 246.3h0M245.0 246.9h0M263.4 247.8h0M267.0 247.3h0M277.0 247.5h0M190.2 248.8h0M215.7 248.0h0M236.5 248.0h0M240.1 248.6h0M208.2 250.8h0M219.9 250.4h0M222.2 249.7h0M240.2 249.6h0M250.8 249.4h0M252.9 250.1h0M267.3 250.1h0M227.8 251.7h0M234.3 252.2h0M241.3 251.7h0M247.9 252.1h0M253.1 251.3h0M259.0 252.4h0M268.2 251.2h0M189.0 252.8h0M194.3 253.4h0M216.5 253.5h0M217.6 253.6h0M228.2 253.9h0M234.5 253.0h0M241.9 254.0h0M247.8 253.6h0M257.6 252.8h0M260.3 252.7h0M263.2 253.0h0M274.0 254.2h0M191.1 255.6h0M206.0 255.7h0M213.5 254.2h0M225.8 254.8h0M241.6 254.8h0M274.4 254.2h0M278.2 255.0h0M190.0 257.0h0M205.2 257.1h0M206.6 257.1h0M211.5 257.1h0M215.5 256.3h0M222.3 256.5h0M228.6 256.8h0M246.2 255.9h0M263.7 256.4h0M268.0 256.2h0M219.0 259.0h0M234.6 258.3h0M246.1 258.0h0M271.4 258.2h0M278.3 257.5h0M208.9 259.1h0M215.8 260.1h0M244.8 259.4h0M263.1 259.1h0M197.4 261.1h0M230.4 260.7h0M235.4 262.1h0M237.9 261.8h0M241.8 261.9h0M246.5 261.8h0M276.8 262.1h0M192.3 263.4h0M194.1 263.7h0M202.5 263.2h0M207.3 263.6h0M212.1 263.1h0M224.6 263.4h0M228.9 262.8h0M238.0 262.5h0M242.3 262.9h0M264.1 262.9h0M193.6 264.3h0M207.9 265.3h0M215.9 264.3h0M231.3 264.9h0M240.5 264.3h0M256.1 264.9h0M273.0 264.7h0M191.4 265.5h0M194.2 266.8h0M235.0 266.7h0M246.1 265.6h0M253.5 266.4h0M254.6 266.2h0M269.3 266.3h0M197.0 268.6h0M219.1 267.5h0M243.0 267.9h0M252.4 268.0h0M268.1 267.4h0M279.2 268.3h0M200.3 269.7h0M206.1 270.2h0M218.5 269.0h0M242.3 269.6h0M258.1 269.7h0M188.5 270.8h0M217.6 270.7h0M220.1 271.5h0M235.0 270.5h0M240.8 271.0h0M266.9 270.4h0M208.2 273.5h0M228.9 273.1h0M240.7 272.6h0M245.0 273.3h0M264.7 272.3h0M271.4 273.4h0M195.5 275.1h0M212.0 274.8h0M219.7 274.1h0M222.8 274.7h0M230.1 274.4h0M250.7 275.1h0M260.9 273.6h0M267.7 275.1h0M270.8 274.7h0M273.3 274.3h0M197.0 276.3h0M268.3 275.3h0M270.9 276.2h0M200.9 277.2h0M225.3 276.8h0M242.5 276.8h0M249.2 277.4h0M264.1 278.1h0M273.4 278.4h0M195.1 278.9h0M211.1 278.9h0M238.8 278.8h0M242.2 278.9h0M263.0 279.4h0M202.1 281.5h0M223.3 280.2h0M240.6 281.1h0M252.0 280.9h0M260.6 281.2h0M268.9 281.0h0M188.2 282.0h0M197.8 282.4h0M215.3 282.8h0M229.6 282.8h0M232.5 281.8h0M242.6 281.7h0M248.3 283.1h0M257.2 282.9h0" stroke="#462886" stroke-width="2.25" stroke-linecap="round" fill="none"/>
<path d="M221.7 213.4h0M225.3 214.0h0M234.8 213.5h0M263.3 213.9h0M208.0 215.5h0M239.9 215.6h0M251.3 214.0h0M208.7 217.1h0M213.1 215.6h0M231.5 217.0h0M233.8 216.8h0M253.8 217.0h0M258.8 215.9h0M268.0 216.2h0M270.3 217.1h0M218.0 217.2h0M224.9 218.0h0M254.4 217.7h0M265.0 218.6h0M235.5 219.5h0M193.9 220.9h0M220.0 221.0h0M232.0 221.7h0M253.7 221.0h0M259.1 220.9h0M260.3 221.0h0M270.2 221.0h0M216.8 223.3h0M269.3 222.2h0M192.2 224.1h0M206.3 224.1h0M225.3 224.9h0M271.3 225.0h0M277.2 223.7h0M193.9 225.5h0M218.4 225.3h0M230.1 225.5h0M263.4 226.0h0M269.5 226.1h0M197.1 227.0h0M221.0 228.4h0M228.1 227.4h0M250.5 228.0h0M271.2 226.9h0M189.6 229.5h0M219.9 229.8h0M229.3 229.0h0M232.7 229.7h0M197.4 231.2h0M261.4 230.4h0M271.2 230.4h0M273.5 230.7h0M218.6 232.8h0M263.8 232.6h0M191.4 234.7h0M229.0 233.9h0M234.0 234.4h0M260.6 234.7h0M264.2 234.2h0M202.7 235.5h0M230.6 235.3h0M252.7 235.9h0M267.6 236.3h0M202.8 236.6h0M218.8 237.3h0M225.1 236.9h0M245.1 237.3h0M193.9 238.1h0M204.6 238.9h0M243.3 238.2h0M269.1 239.2h0M277.7 239.4h0M193.5 240.0h0M204.0 240.7h0M214.6 241.3h0M262.9 241.1h0M269.8 241.0h0M210.3 241.7h0M223.7 241.5h0M236.2 241.7h0M255.4 242.7h0M256.5 241.7h0M191.4 243.5h0M199.3 243.5h0M205.8 243.5h0M210.7 243.0h0M231.4 243.7h0M236.1 243.7h0M247.8 244.3h0M249.0 244.4h0M260.5 243.8h0M264.6 243.5h0M269.6 244.0h0M278.6 244.5h0M277.2 244.7h0M205.2 246.6h0M273.7 246.6h0M217.4 249.1h0M228.4 248.6h0M198.7 250.0h0M215.4 249.5h0M245.7 249.7h0M272.1 250.4h0M190.6 251.8h0M211.0 251.3h0M200.3 253.4h0M202.1 253.8h0M221.3 252.7h0M228.9 253.2h0M238.0 252.7h0M234.1 255.5h0M243.7 254.7h0M251.3 255.0h0M253.0 255.3h0M199.3 256.7h0M238.7 257.0h0M266.7 257.0h0M273.6 256.4h0M278.1 256.2h0M201.2 258.3h0M203.4 258.0h0M226.8 258.7h0M255.7 258.9h0M226.0 260.0h0M231.8 259.1h0M252.4 260.1h0M266.3 259.3h0M192.5 261.8h0M212.3 261.1h0M221.2 260.9h0M273.8 261.3h0M214.1 263.4h0M267.2 263.8h0M244.7 265.4h0M231.8 266.1h0M276.9 266.3h0M201.4 267.5h0M211.0 268.2h0M262.5 267.7h0M275.9 270.0h0M190.2 271.8h0M225.7 271.3h0M232.8 270.3h0M226.9 273.1h0M248.5 273.1h0M188.8 273.9h0M199.9 275.0h0M201.6 274.6h0M204.2 274.2h0M255.5 274.8h0M191.9 275.6h0M217.6 276.5h0M225.6 276.3h0M229.1 275.6h0M250.8 276.3h0M259.2 276.2h0M276.9 275.2h0M191.3 278.0h0M197.4 277.2h0M199.9 278.3h0M208.3 277.7h0M236.4 277.2h0M253.0 278.3h0M276.2 277.8h0M227.1 279.4h0M240.0 279.2h0M247.9 279.7h0M195.2 280.7h0M258.2 281.4h0M263.4 281.1h0M205.2 281.6h0M240.6 281.9h0M266.3 282.5h0M269.7 281.6h0M273.8 283.0h0M275.5 282.9h0M278.2 281.7h0" stroke="#361e7a" stroke-width="2.5" stroke-linecap="round" fill="none"/>
<path d="M228.0 213.6h0M235.9 212.4h0M236.6 214.5h0M270.2 214.0h0M191.0 217.2h0M227.0 216.6h0M250.3 217.2h0M276.0 216.6h0M205.5 218.3h0M216.6 217.3h0M258.5 218.0h0M215.8 219.5h0M238.8 219.4h0M262.2 219.0h0M209.7 221.4h0M212.6 220.5h0M214.2 221.1h0M222.1 222.0h0M234.8 221.9h0M236.4 222.0h0M199.2 223.0h0M270.7 225.0h0M213.3 225.3h0M255.2 226.2h0M265.9 226.8h0M271.8 226.3h0M277.4 226.8h0M191.5 228.2h0M252.3 226.9h0M195.6 229.3h0M207.0 229.1h0M231.2 229.6h0M263.0 228.6h0M207.9 230.4h0M253.9 231.5h0M264.7 230.9h0M277.3 231.6h0M212.0 233.3h0M233.0 232.4h0M235.4 233.0h0M207.5 233.6h0M232.4 233.8h0M270.0 233.5h0M277.3 234.1h0M278.8 234.4h0M215.0 236.4h0M224.0 236.5h0M257.3 236.5h0M273.6 236.1h0M275.1 235.9h0M277.0 235.0h0M209.7 237.3h0M232.7 237.7h0M249.2 236.7h0M269.2 236.5h0M214.0 239.4h0M224.1 239.4h0M227.1 239.6h0M246.2 238.4h0M249.6 238.9h0M275.0 239.6h0M229.4 239.9h0M218.1 243.4h0M252.4 243.8h0M206.6 245.8h0M213.1 245.0h0M213.7 245.3h0M250.6 245.7h0M263.9 245.3h0M191.0 247.5h0M195.2 247.4h0M200.1 246.2h0M235.7 247.4h0M250.4 246.7h0M219.2 249.4h0M225.2 248.9h0M238.3 248.7h0M257.9 248.2h0M263.5 248.0h0M273.1 248.4h0M261.1 249.4h0M193.1 252.1h0M218.9 252.4h0M221.1 251.5h0M229.6 251.8h0M242.4 252.6h0M261.6 251.4h0M278.0 252.2h0M209.5 253.1h0M224.9 253.4h0M216.9 255.4h0M221.8 254.4h0M228.5 254.2h0M271.6 254.8h0M194.8 256.4h0M225.5 257.0h0M232.7 256.6h0M242.4 257.1h0M269.5 256.7h0M188.7 258.0h0M198.8 258.3h0M224.1 258.3h0M229.4 259.0h0M241.8 259.0h0M254.7 257.6h0M195.8 259.0h0M201.8 259.8h0M262.3 260.1h0M276.9 260.5h0M194.7 261.4h0M205.6 261.2h0M218.5 261.1h0M271.4 262.1h0M220.1 263.0h0M226.4 263.3h0M230.3 263.4h0M233.1 262.5h0M235.4 262.3h0M237.0 263.2h0M191.1 265.0h0M198.6 263.9h0M262.0 264.3h0M274.9 264.3h0M267.2 266.1h0M199.3 267.9h0M207.8 268.3h0M213.9 268.2h0M232.1 267.2h0M240.0 268.2h0M244.9 268.6h0M270.9 267.7h0M274.8 268.2h0M188.4 270.3h0M194.9 269.0h0M202.1 269.5h0M233.0 269.4h0M270.6 268.9h0M228.6 270.9h0M243.6 271.6h0M248.7 271.4h0M264.8 270.7h0M276.1 271.0h0M262.7 272.1h0M277.8 273.1h0M241.7 274.1h0M251.5 274.5h0M218.9 275.2h0M227.6 275.8h0M237.6 276.0h0M248.7 276.6h0M274.5 275.6h0M213.0 277.6h0M214.9 277.7h0M231.1 277.9h0M237.9 278.4h0M244.5 276.7h0M277.2 278.4h0M203.3 279.0h0M205.5 278.5h0M216.6 278.6h0M225.8 278.6h0M265.0 279.8h0M276.1 278.8h0M191.1 280.1h0M204.2 281.4h0M232.2 281.5h0M236.4 281.2h0M242.7 280.9h0M248.5 280.3h0M202.0 281.8h0M235.4 281.9h0M244.6 282.0h0M251.2 282.2h0" stroke="#462886" stroke-width="2.5" stroke-linecap="round" fill="none"/>
<circle cx="264.4" cy="225.8" r="3.8" fill="none" stroke="#f0ecf8" stroke-width="1.4" opacity="0.95"/>
</g></g>
<rect x="99.2" y="129" width="1.2" height="65.7" fill="#c4c0cc"/>
<rect x="188.3" y="129" width="1.2" height="65.7" fill="#c4c0cc"/>
<rect x="99.2" y="214.1" width="1.2" height="66.8" fill="#c4c0cc"/>
<rect x="188.3" y="214.1" width="1.2" height="66.8" fill="#c4c0cc"/>
<text x="0.9" y="9" font-size="11" text-anchor="start" font-weight="bold" font-style="normal" >A</text>
<path d="M49.8,13.850000000000009 V87.2 H149.4" stroke="#000" stroke-width="1.35" fill="none"/>
<path d="M45.8,13.850000000000009 H49.8" stroke="#000" stroke-width="1.1"/>
<text x="45.599999999999994" y="16.85000000000001" font-size="8.3" text-anchor="end" font-weight="normal" font-style="normal" >300</text>
<path d="M45.8,38.300000000000004 H49.8" stroke="#000" stroke-width="1.1"/>
<text x="45.599999999999994" y="41.300000000000004" font-size="8.3" text-anchor="end" font-weight="normal" font-style="normal" >200</text>
<path d="M45.8,62.75 H49.8" stroke="#000" stroke-width="1.1"/>
<text x="45.599999999999994" y="65.75" font-size="8.3" text-anchor="end" font-weight="normal" font-style="normal" >100</text>
<path d="M45.8,87.2 H49.8" stroke="#000" stroke-width="1.1"/>
<text x="45.599999999999994" y="90.2" font-size="8.3" text-anchor="end" font-weight="normal" font-style="normal" >0</text>
<path d="M60.6,57.2 V53.5 M57.300000000000004,53.5 H63.9" stroke="#000" stroke-width="1.1"/>
<rect x="54.0" y="57.6" width="13.2" height="29.6" fill="#1e8bd0" stroke="#1a1a1a" stroke-width="0.8"/>
<path d="M76.22,31.8 V28.6 M72.92,28.6 H79.52" stroke="#000" stroke-width="1.1"/>
<rect x="69.62" y="32.2" width="13.2" height="55.00000000000001" fill="#d20a1e" stroke="#1a1a1a" stroke-width="0.8"/>
<path d="M91.84,68.8 V62.9 M88.54,62.9 H95.14" stroke="#000" stroke-width="1.1"/>
<rect x="85.24000000000001" y="69.2" width="13.2" height="18.000000000000007" fill="#a0457f" stroke="#1a1a1a" stroke-width="0.8"/>
<path d="M107.46000000000001,69.4 V67.3 M104.16000000000001,67.3 H110.76" stroke="#000" stroke-width="1.1"/>
<rect x="100.86000000000001" y="69.80000000000001" width="13.2" height="17.4" fill="#f6c81c" stroke="#1a1a1a" stroke-width="0.8"/>
<path d="M123.08,67 V64.5 M119.78,64.5 H126.38" stroke="#000" stroke-width="1.1"/>
<rect x="116.48" y="67.4" width="13.2" height="19.800000000000004" fill="#e2801f" stroke="#1a1a1a" stroke-width="0.8"/>
<path d="M138.7,47.7 V44.5 M135.39999999999998,44.5 H142.0" stroke="#000" stroke-width="1.1"/>
<rect x="132.1" y="48.1" width="13.2" height="39.1" fill="#000" stroke="#1a1a1a" stroke-width="0.8"/>
<path d="M60.6,87.2 V90.0" stroke="#000" stroke-width="1.1"/>
<text x="60.6" y="98.3" font-size="8.3" text-anchor="middle" font-weight="normal" font-style="normal" >1</text>
<path d="M76.22,87.2 V90.0" stroke="#000" stroke-width="1.1"/>
<text x="76.22" y="98.3" font-size="8.3" text-anchor="middle" font-weight="normal" font-style="normal" >2</text>
<path d="M91.84,87.2 V90.0" stroke="#000" stroke-width="1.1"/>
<text x="91.84" y="98.3" font-size="8.3" text-anchor="middle" font-weight="normal" font-style="normal" >3</text>
<path d="M107.46000000000001,87.2 V90.0" stroke="#000" stroke-width="1.1"/>
<text x="107.46000000000001" y="98.3" font-size="8.3" text-anchor="middle" font-weight="normal" font-style="normal" >4</text>
<path d="M123.08,87.2 V90.0" stroke="#000" stroke-width="1.1"/>
<text x="123.08" y="98.3" font-size="8.3" text-anchor="middle" font-weight="normal" font-style="normal" >5</text>
<path d="M138.7,87.2 V90.0" stroke="#000" stroke-width="1.1"/>
<text x="138.7" y="98.3" font-size="8.3" text-anchor="middle" font-weight="normal" font-style="normal" >6</text>
<text x="76.2" y="26.6" font-size="7.2" text-anchor="middle" font-weight="bold" font-style="normal" >**</text>
<text x="153.9" y="9" font-size="11" text-anchor="start" font-weight="bold" font-style="normal" >B</text>
<path d="M190.1,14.300000000000011 V87 H288" stroke="#000" stroke-width="1.35" fill="none"/>
<path d="M186.1,14.300000000000011 H190.1" stroke="#000" stroke-width="1.1"/>
<text x="185.9" y="17.30000000000001" font-size="8.3" text-anchor="end" font-weight="normal" font-style="normal" >50</text>
<path d="M186.1,28.840000000000003 H190.1" stroke="#000" stroke-width="1.1"/>
<text x="185.9" y="31.840000000000003" font-size="8.3" text-anchor="end" font-weight="normal" font-style="normal" >40</text>
<path d="M186.1,43.38 H190.1" stroke="#000" stroke-width="1.1"/>
<text x="185.9" y="46.38" font-size="8.3" text-anchor="end" font-weight="normal" font-style="normal" >30</text>
<path d="M186.1,57.92 H190.1" stroke="#000" stroke-width="1.1"/>
<text x="185.9" y="60.92" font-size="8.3" text-anchor="end" font-weight="normal" font-style="normal" >20</text>
<path d="M186.1,72.46000000000001 H190.1" stroke="#000" stroke-width="1.1"/>
<text x="185.9" y="75.46000000000001" font-size="8.3" text-anchor="end" font-weight="normal" font-style="normal" >10</text>
<path d="M186.1,87.0 H190.1" stroke="#000" stroke-width="1.1"/>
<text x="185.9" y="90.0" font-size="8.3" text-anchor="end" font-weight="normal" font-style="normal" >0</text>
<path d="M201.5,68 V62.6 M198.2,62.6 H204.8" stroke="#000" stroke-width="1.1"/>
<rect x="195.4" y="68.4" width="12.2" height="18.6" fill="#1e8bd0" stroke="#1a1a1a" stroke-width="0.8"/>
<path d="M216.4,32.1 V24.9 M213.1,24.9 H219.70000000000002" stroke="#000" stroke-width="1.1"/>
<rect x="210.3" y="32.5" width="12.2" height="54.5" fill="#d20a1e" stroke="#1a1a1a" stroke-width="0.8"/>
<path d="M231.3,84 V81.4 M228.0,81.4 H234.60000000000002" stroke="#000" stroke-width="1.1"/>
<rect x="225.20000000000002" y="84.4" width="12.2" height="2.6" fill="#a0457f" stroke="#1a1a1a" stroke-width="0.8"/>
<path d="M246.2,82.4 V82 M242.89999999999998,82 H249.5" stroke="#000" stroke-width="1.1"/>
<rect x="240.1" y="82.80000000000001" width="12.2" height="4.199999999999994" fill="#f6c81c" stroke="#1a1a1a" stroke-width="0.8"/>
<path d="M261.1,72 V70.4 M257.8,70.4 H264.40000000000003" stroke="#000" stroke-width="1.1"/>
<rect x="255.0" y="72.4" width="12.2" height="14.6" fill="#e2801f" stroke="#1a1a1a" stroke-width="0.8"/>
<path d="M276.0,62 V55.6 M272.7,55.6 H279.3" stroke="#000" stroke-width="1.1"/>
<rect x="269.9" y="62.4" width="12.2" height="24.6" fill="#000" stroke="#1a1a1a" stroke-width="0.8"/>
<path d="M201.5,87 V89.8" stroke="#000" stroke-width="1.1"/>
<text x="201.5" y="98.5" font-size="8.3" text-anchor="middle" font-weight="normal" font-style="normal" >1</text>
<path d="M216.4,87 V89.8" stroke="#000" stroke-width="1.1"/>
<text x="216.4" y="98.5" font-size="8.3" text-anchor="middle" font-weight="normal" font-style="normal" >2</text>
<path d="M231.3,87 V89.8" stroke="#000" stroke-width="1.1"/>
<text x="231.3" y="98.5" font-size="8.3" text-anchor="middle" font-weight="normal" font-style="normal" >3</text>
<path d="M246.2,87 V89.8" stroke="#000" stroke-width="1.1"/>
<text x="246.2" y="98.5" font-size="8.3" text-anchor="middle" font-weight="normal" font-style="normal" >4</text>
<path d="M261.1,87 V89.8" stroke="#000" stroke-width="1.1"/>
<text x="261.1" y="98.5" font-size="8.3" text-anchor="middle" font-weight="normal" font-style="normal" >5</text>
<path d="M276.0,87 V89.8" stroke="#000" stroke-width="1.1"/>
<text x="276.0" y="98.5" font-size="8.3" text-anchor="middle" font-weight="normal" font-style="normal" >6</text>
<text x="216.3" y="23.200000000000003" font-size="7.2" text-anchor="middle" font-weight="bold" font-style="normal" >*</text>
<text x="291.5" y="9" font-size="11" text-anchor="start" font-weight="bold" font-style="normal" >C</text>
<path d="M328.1,14.299999999999997 V87.5 H427" stroke="#000" stroke-width="1.35" fill="none"/>
<path d="M324.1,14.299999999999997 H328.1" stroke="#000" stroke-width="1.1"/>
<text x="323.90000000000003" y="17.299999999999997" font-size="8.3" text-anchor="end" font-weight="normal" font-style="normal" >80</text>
<path d="M324.1,32.599999999999994 H328.1" stroke="#000" stroke-width="1.1"/>
<text x="323.90000000000003" y="35.599999999999994" font-size="8.3" text-anchor="end" font-weight="normal" font-style="normal" >60</text>
<path d="M324.1,50.9 H328.1" stroke="#000" stroke-width="1.1"/>
<text x="323.90000000000003" y="53.9" font-size="8.3" text-anchor="end" font-weight="normal" font-style="normal" >40</text>
<path d="M324.1,69.2 H328.1" stroke="#000" stroke-width="1.1"/>
<text x="323.90000000000003" y="72.2" font-size="8.3" text-anchor="end" font-weight="normal" font-style="normal" >20</text>
<path d="M324.1,87.5 H328.1" stroke="#000" stroke-width="1.1"/>
<text x="323.90000000000003" y="90.5" font-size="8.3" text-anchor="end" font-weight="normal" font-style="normal" >0</text>
<path d="M339.5,61 V55.4 M336.2,55.4 H342.8" stroke="#000" stroke-width="1.1"/>
<rect x="333.0" y="61.4" width="13.0" height="26.1" fill="#1e8bd0" stroke="#1a1a1a" stroke-width="0.8"/>
<path d="M354.98,31.3 V21.6 M351.68,21.6 H358.28000000000003" stroke="#000" stroke-width="1.1"/>
<rect x="348.48" y="31.7" width="13.0" height="55.800000000000004" fill="#d20a1e" stroke="#1a1a1a" stroke-width="0.8"/>
<rect x="363.96" y="84.80000000000001" width="13.0" height="2.6999999999999944" fill="#a0457f" stroke="#1a1a1a" stroke-width="0.8"/>
<path d="M385.94,84 V83.4 M382.64,83.4 H389.24" stroke="#000" stroke-width="1.1"/>
<rect x="379.44" y="84.4" width="13.0" height="3.1" fill="#f6c81c" stroke="#1a1a1a" stroke-width="0.8"/>
<path d="M401.42,82.6 V81.9 M398.12,81.9 H404.72" stroke="#000" stroke-width="1.1"/>
<rect x="394.92" y="83.0" width="13.0" height="4.500000000000005" fill="#e2801f" stroke="#1a1a1a" stroke-width="0.8"/>
<path d="M416.9,66 V56.4 M413.59999999999997,56.4 H420.2" stroke="#000" stroke-width="1.1"/>
<rect x="410.4" y="66.4" width="13.0" height="21.1" fill="#000" stroke="#1a1a1a" stroke-width="0.8"/>
<path d="M339.5,87.5 V90.3" stroke="#000" stroke-width="1.1"/>
<text x="339.5" y="98.2" font-size="8.3" text-anchor="middle" font-weight="normal" font-style="normal" >1</text>
<path d="M354.98,87.5 V90.3" stroke="#000" stroke-width="1.1"/>
<text x="354.98" y="98.2" font-size="8.3" text-anchor="middle" font-weight="normal" font-style="normal" >2</text>
<path d="M370.46,87.5 V90.3" stroke="#000" stroke-width="1.1"/>
<text x="370.46" y="98.2" font-size="8.3" text-anchor="middle" font-weight="normal" font-style="normal" >3</text>
<path d="M385.94,87.5 V90.3" stroke="#000" stroke-width="1.1"/>
<text x="385.94" y="98.2" font-size="8.3" text-anchor="middle" font-weight="normal" font-style="normal" >4</text>
<path d="M401.42,87.5 V90.3" stroke="#000" stroke-width="1.1"/>
<text x="401.42" y="98.2" font-size="8.3" text-anchor="middle" font-weight="normal" font-style="normal" >5</text>
<path d="M416.9,87.5 V90.3" stroke="#000" stroke-width="1.1"/>
<text x="416.9" y="98.2" font-size="8.3" text-anchor="middle" font-weight="normal" font-style="normal" >6</text>
<text x="355.5" y="19.900000000000002" font-size="7.2" text-anchor="middle" font-weight="bold" font-style="normal" >*</text>
<text x="285" y="120" font-size="11" text-anchor="start" font-weight="bold" font-style="normal" >E</text>
<path d="M332.8,116.39999999999999 V189.6 H425.2" stroke="#000" stroke-width="1.35" fill="none"/>
<path d="M328.8,116.39999999999999 H332.8" stroke="#000" stroke-width="1.1"/>
<text x="328.6" y="119.39999999999999" font-size="8.3" text-anchor="end" font-weight="normal" font-style="normal" >80</text>
<path d="M328.8,134.7 H332.8" stroke="#000" stroke-width="1.1"/>
<text x="328.6" y="137.7" font-size="8.3" text-anchor="end" font-weight="normal" font-style="normal" >60</text>
<path d="M328.8,153.0 H332.8" stroke="#000" stroke-width="1.1"/>
<text x="328.6" y="156.0" font-size="8.3" text-anchor="end" font-weight="normal" font-style="normal" >40</text>
<path d="M328.8,171.29999999999998 H332.8" stroke="#000" stroke-width="1.1"/>
<text x="328.6" y="174.29999999999998" font-size="8.3" text-anchor="end" font-weight="normal" font-style="normal" >20</text>
<path d="M328.8,189.6 H332.8" stroke="#000" stroke-width="1.1"/>
<text x="328.6" y="192.6" font-size="8.3" text-anchor="end" font-weight="normal" font-style="normal" >0</text>
<path d="M343.90000000000003,180.8 V179.6 M340.6,179.6 H347.20000000000005" stroke="#000" stroke-width="1.1"/>
<rect x="337.5" y="181.20000000000002" width="12.799999999999999" height="8.399999999999983" fill="#1e8bd0" stroke="#1a1a1a" stroke-width="0.8"/>
<path d="M358.56000000000006,139.1 V132.1 M355.26000000000005,132.1 H361.86000000000007" stroke="#000" stroke-width="1.1"/>
<rect x="352.16" y="139.5" width="12.799999999999999" height="50.1" fill="#d20a1e" stroke="#1a1a1a" stroke-width="0.8"/>
<rect x="366.82" y="188.3" width="12.799999999999999" height="1.2999999999999887" fill="#7a3a6a" stroke="#1a1a1a" stroke-width="0.8"/>
<path d="M387.88000000000005,186 V185.6 M384.58000000000004,185.6 H391.18000000000006" stroke="#000" stroke-width="1.1"/>
<rect x="381.48" y="186.4" width="12.799999999999999" height="3.1999999999999944" fill="#eab456" stroke="#1a1a1a" stroke-width="0.8"/>
<path d="M402.54,186 V185.6 M399.24,185.6 H405.84000000000003" stroke="#000" stroke-width="1.1"/>
<rect x="396.14" y="186.4" width="12.799999999999999" height="3.1999999999999944" fill="#e29c50" stroke="#1a1a1a" stroke-width="0.8"/>
<path d="M417.20000000000005,182.7 V182.2 M413.90000000000003,182.2 H420.50000000000006" stroke="#000" stroke-width="1.1"/>
<rect x="410.8" y="183.1" width="12.799999999999999" height="6.500000000000005" fill="#000" stroke="#1a1a1a" stroke-width="0.8"/>
<path d="M343.90000000000003,189.6 V192.4" stroke="#000" stroke-width="1.1"/>
<text x="343.90000000000003" y="200.3" font-size="8.3" text-anchor="middle" font-weight="normal" font-style="normal" >1</text>
<path d="M358.56000000000006,189.6 V192.4" stroke="#000" stroke-width="1.1"/>
<text x="358.56000000000006" y="200.3" font-size="8.3" text-anchor="middle" font-weight="normal" font-style="normal" >2</text>
<path d="M373.22,189.6 V192.4" stroke="#000" stroke-width="1.1"/>
<text x="373.22" y="200.3" font-size="8.3" text-anchor="middle" font-weight="normal" font-style="normal" >3</text>
<path d="M387.88000000000005,189.6 V192.4" stroke="#000" stroke-width="1.1"/>
<text x="387.88000000000005" y="200.3" font-size="8.3" text-anchor="middle" font-weight="normal" font-style="normal" >4</text>
<path d="M402.54,189.6 V192.4" stroke="#000" stroke-width="1.1"/>
<text x="402.54" y="200.3" font-size="8.3" text-anchor="middle" font-weight="normal" font-style="normal" >5</text>
<path d="M417.20000000000005,189.6 V192.4" stroke="#000" stroke-width="1.1"/>
<text x="417.20000000000005" y="200.3" font-size="8.3" text-anchor="middle" font-weight="normal" font-style="normal" >6</text>
<text x="358.6" y="133.2" font-size="7.2" text-anchor="middle" font-weight="bold" font-style="normal" >***</text>
<text x="285.7" y="206.5" font-size="11" text-anchor="start" font-weight="bold" font-style="normal" >F</text>
<path d="M327.4,204.39999999999998 V277.4 H429.5" stroke="#000" stroke-width="1.35" fill="none"/>
<path d="M323.4,204.39999999999998 H327.4" stroke="#000" stroke-width="1.1"/>
<text x="323.2" y="207.39999999999998" font-size="8.3" text-anchor="end" font-weight="normal" font-style="normal" >2000</text>
<path d="M323.4,222.64999999999998 H327.4" stroke="#000" stroke-width="1.1"/>
<text x="323.2" y="225.64999999999998" font-size="8.3" text-anchor="end" font-weight="normal" font-style="normal" >1500</text>
<path d="M323.4,240.89999999999998 H327.4" stroke="#000" stroke-width="1.1"/>
<text x="323.2" y="243.89999999999998" font-size="8.3" text-anchor="end" font-weight="normal" font-style="normal" >1000</text>
<path d="M323.4,259.15 H327.4" stroke="#000" stroke-width="1.1"/>
<text x="323.2" y="262.15" font-size="8.3" text-anchor="end" font-weight="normal" font-style="normal" >500</text>
<path d="M323.4,277.4 H327.4" stroke="#000" stroke-width="1.1"/>
<text x="323.2" y="280.4" font-size="8.3" text-anchor="end" font-weight="normal" font-style="normal" >0</text>
<path d="M336.6,277.4 V280.2" stroke="#000" stroke-width="1.1"/>
<text x="336.6" y="287.8" font-size="8.3" text-anchor="middle" font-weight="normal" font-style="normal" >1</text>
<path d="M352.9,277.4 V280.2" stroke="#000" stroke-width="1.1"/>
<text x="352.9" y="287.8" font-size="8.3" text-anchor="middle" font-weight="normal" font-style="normal" >2</text>
<path d="M369.4,277.4 V280.2" stroke="#000" stroke-width="1.1"/>
<text x="369.4" y="287.8" font-size="8.3" text-anchor="middle" font-weight="normal" font-style="normal" >3</text>
<path d="M385.9,277.4 V280.2" stroke="#000" stroke-width="1.1"/>
<text x="385.9" y="287.8" font-size="8.3" text-anchor="middle" font-weight="normal" font-style="normal" >4</text>
<path d="M402,277.4 V280.2" stroke="#000" stroke-width="1.1"/>
<text x="402" y="287.8" font-size="8.3" text-anchor="middle" font-weight="normal" font-style="normal" >5</text>
<path d="M419,277.4 V280.2" stroke="#000" stroke-width="1.1"/>
<text x="419" y="287.8" font-size="8.3" text-anchor="middle" font-weight="normal" font-style="normal" >6</text>
<circle cx="336.6" cy="248.2" r="1.3" fill="#1c80c2"/>
<circle cx="339.4" cy="249.3" r="1.3" fill="#1c80c2"/>
<circle cx="336.6" cy="253.1" r="1.3" fill="#1c80c2"/>
<circle cx="339.4" cy="253.1" r="1.3" fill="#1c80c2"/>
<circle cx="333.9" cy="254.5" r="1.3" fill="#1c80c2"/>
<circle cx="336.6" cy="256.7" r="1.3" fill="#1c80c2"/>
<circle cx="339.4" cy="257.4" r="1.3" fill="#1c80c2"/>
<circle cx="333.9" cy="257.5" r="1.3" fill="#1c80c2"/>
<circle cx="342.1" cy="257.7" r="1.3" fill="#1c80c2"/>
<circle cx="331.1" cy="257.7" r="1.3" fill="#1c80c2"/>
<circle cx="335.7" cy="257.8" r="1.3" fill="#1c80c2"/>
<circle cx="341.3" cy="258.1" r="1.3" fill="#1c80c2"/>
<circle cx="342.0" cy="259.2" r="1.3" fill="#1c80c2"/>
<circle cx="338.0" cy="259.4" r="1.3" fill="#1c80c2"/>
<circle cx="335.0" cy="259.5" r="1.3" fill="#1c80c2"/>
<circle cx="332.5" cy="260.0" r="1.3" fill="#1c80c2"/>
<circle cx="341.5" cy="260.3" r="1.3" fill="#1c80c2"/>
<circle cx="340.2" cy="260.6" r="1.3" fill="#1c80c2"/>
<circle cx="333.7" cy="261.0" r="1.3" fill="#1c80c2"/>
<circle cx="336.6" cy="261.6" r="1.3" fill="#1c80c2"/>
<circle cx="336.2" cy="261.7" r="1.3" fill="#1c80c2"/>
<circle cx="331.1" cy="262.2" r="1.3" fill="#1c80c2"/>
<circle cx="331.9" cy="262.7" r="1.3" fill="#1c80c2"/>
<circle cx="339.4" cy="263.0" r="1.3" fill="#1c80c2"/>
<circle cx="342.1" cy="263.2" r="1.3" fill="#1c80c2"/>
<circle cx="340.5" cy="263.7" r="1.3" fill="#1c80c2"/>
<circle cx="338.6" cy="263.8" r="1.3" fill="#1c80c2"/>
<circle cx="341.4" cy="263.8" r="1.3" fill="#1c80c2"/>
<circle cx="340.2" cy="264.0" r="1.3" fill="#1c80c2"/>
<circle cx="338.7" cy="264.0" r="1.3" fill="#1c80c2"/>
<circle cx="335.2" cy="264.4" r="1.3" fill="#1c80c2"/>
<circle cx="339.5" cy="264.5" r="1.3" fill="#1c80c2"/>
<circle cx="337.4" cy="264.8" r="1.3" fill="#1c80c2"/>
<circle cx="331.7" cy="264.8" r="1.3" fill="#1c80c2"/>
<circle cx="337.7" cy="264.9" r="1.3" fill="#1c80c2"/>
<circle cx="330.5" cy="265.0" r="1.3" fill="#1c80c2"/>
<circle cx="332.2" cy="265.1" r="1.3" fill="#1c80c2"/>
<circle cx="340.0" cy="265.2" r="1.3" fill="#1c80c2"/>
<circle cx="330.9" cy="265.3" r="1.3" fill="#1c80c2"/>
<circle cx="331.5" cy="265.5" r="1.3" fill="#1c80c2"/>
<circle cx="331.6" cy="265.7" r="1.3" fill="#1c80c2"/>
<circle cx="341.3" cy="265.9" r="1.3" fill="#1c80c2"/>
<circle cx="332.6" cy="266.3" r="1.3" fill="#1c80c2"/>
<circle cx="330.7" cy="266.4" r="1.3" fill="#1c80c2"/>
<circle cx="340.8" cy="266.8" r="1.3" fill="#1c80c2"/>
<circle cx="335.2" cy="266.8" r="1.3" fill="#1c80c2"/>
<circle cx="331.9" cy="267.2" r="1.3" fill="#1c80c2"/>
<circle cx="338.0" cy="267.5" r="1.3" fill="#1c80c2"/>
<circle cx="340.9" cy="267.8" r="1.3" fill="#1c80c2"/>
<circle cx="338.8" cy="268.2" r="1.3" fill="#1c80c2"/>
<circle cx="340.8" cy="268.6" r="1.3" fill="#1c80c2"/>
<circle cx="342.2" cy="268.7" r="1.3" fill="#1c80c2"/>
<circle cx="337.6" cy="268.9" r="1.3" fill="#1c80c2"/>
<circle cx="333.9" cy="268.9" r="1.3" fill="#1c80c2"/>
<circle cx="340.3" cy="269.5" r="1.3" fill="#1c80c2"/>
<circle cx="331.1" cy="269.8" r="1.3" fill="#1c80c2"/>
<circle cx="330.8" cy="270.8" r="1.3" fill="#1c80c2"/>
<circle cx="339.9" cy="270.8" r="1.3" fill="#1c80c2"/>
<circle cx="336.6" cy="271.3" r="1.3" fill="#1c80c2"/>
<circle cx="333.9" cy="271.8" r="1.3" fill="#1c80c2"/>
<path d="M332.1,263.8 H341.1" stroke="#000" stroke-width="1.4"/>
<rect x="352.1" y="222.9" width="2.5" height="2.5" fill="#c21a32"/>
<rect x="353.5" y="225.0" width="2.5" height="2.5" fill="#c21a32"/>
<rect x="352.1" y="234.9" width="2.5" height="2.5" fill="#c21a32"/>
<rect x="352.1" y="237.5" width="2.5" height="2.5" fill="#c21a32"/>
<rect x="352.1" y="240.0" width="2.5" height="2.5" fill="#c21a32"/>
<rect x="354.9" y="240.1" width="2.5" height="2.5" fill="#c21a32"/>
<rect x="349.4" y="241.1" width="2.5" height="2.5" fill="#c21a32"/>
<rect x="357.6" y="242.1" width="2.5" height="2.5" fill="#c21a32"/>
<rect x="353.5" y="242.2" width="2.5" height="2.5" fill="#c21a32"/>
<rect x="350.8" y="243.8" width="2.5" height="2.5" fill="#c21a32"/>
<rect x="353.5" y="245.0" width="2.5" height="2.5" fill="#c21a32"/>
<rect x="350.8" y="246.4" width="2.5" height="2.5" fill="#c21a32"/>
<rect x="353.5" y="247.9" width="2.5" height="2.5" fill="#c21a32"/>
<rect x="349.4" y="248.8" width="2.5" height="2.5" fill="#c21a32"/>
<rect x="356.3" y="248.8" width="2.5" height="2.5" fill="#c21a32"/>
<rect x="346.6" y="249.9" width="2.5" height="2.5" fill="#c21a32"/>
<rect x="352.3" y="249.9" width="2.5" height="2.5" fill="#c21a32"/>
<rect x="354.9" y="250.1" width="2.5" height="2.5" fill="#c21a32"/>
<rect x="347.0" y="250.3" width="2.5" height="2.5" fill="#c21a32"/>
<rect x="355.4" y="250.5" width="2.5" height="2.5" fill="#c21a32"/>
<rect x="357.8" y="251.2" width="2.5" height="2.5" fill="#c21a32"/>
<rect x="349.4" y="251.9" width="2.5" height="2.5" fill="#c21a32"/>
<rect x="352.1" y="252.8" width="2.5" height="2.5" fill="#c21a32"/>
<rect x="346.6" y="252.8" width="2.5" height="2.5" fill="#c21a32"/>
<rect x="354.9" y="252.9" width="2.5" height="2.5" fill="#c21a32"/>
<rect x="346.4" y="253.0" width="2.5" height="2.5" fill="#c21a32"/>
<rect x="357.6" y="254.1" width="2.5" height="2.5" fill="#c21a32"/>
<rect x="353.5" y="255.2" width="2.5" height="2.5" fill="#c21a32"/>
<rect x="350.8" y="255.6" width="2.5" height="2.5" fill="#c21a32"/>
<rect x="348.0" y="255.8" width="2.5" height="2.5" fill="#c21a32"/>
<rect x="349.9" y="255.9" width="2.5" height="2.5" fill="#c21a32"/>
<rect x="356.3" y="256.2" width="2.5" height="2.5" fill="#c21a32"/>
<rect x="353.0" y="256.3" width="2.5" height="2.5" fill="#c21a32"/>
<rect x="356.4" y="256.7" width="2.5" height="2.5" fill="#c21a32"/>
<rect x="348.8" y="257.1" width="2.5" height="2.5" fill="#c21a32"/>
<rect x="348.0" y="257.4" width="2.5" height="2.5" fill="#c21a32"/>
<rect x="348.9" y="258.4" width="2.5" height="2.5" fill="#c21a32"/>
<rect x="353.7" y="258.5" width="2.5" height="2.5" fill="#c21a32"/>
<rect x="355.4" y="258.7" width="2.5" height="2.5" fill="#c21a32"/>
<rect x="350.8" y="259.1" width="2.5" height="2.5" fill="#c21a32"/>
<rect x="350.4" y="259.3" width="2.5" height="2.5" fill="#c21a32"/>
<rect x="357.6" y="259.9" width="2.5" height="2.5" fill="#c21a32"/>
<rect x="346.6" y="260.1" width="2.5" height="2.5" fill="#c21a32"/>
<rect x="350.8" y="260.1" width="2.5" height="2.5" fill="#c21a32"/>
<rect x="350.2" y="260.1" width="2.5" height="2.5" fill="#c21a32"/>
<rect x="351.1" y="260.3" width="2.5" height="2.5" fill="#c21a32"/>
<rect x="346.7" y="260.3" width="2.5" height="2.5" fill="#c21a32"/>
<rect x="352.2" y="260.5" width="2.5" height="2.5" fill="#c21a32"/>
<rect x="358.3" y="260.6" width="2.5" height="2.5" fill="#c21a32"/>
<rect x="351.0" y="260.6" width="2.5" height="2.5" fill="#c21a32"/>
<rect x="355.4" y="260.7" width="2.5" height="2.5" fill="#c21a32"/>
<rect x="347.7" y="260.8" width="2.5" height="2.5" fill="#c21a32"/>
<rect x="354.6" y="260.8" width="2.5" height="2.5" fill="#c21a32"/>
<rect x="355.5" y="261.0" width="2.5" height="2.5" fill="#c21a32"/>
<rect x="354.4" y="261.0" width="2.5" height="2.5" fill="#c21a32"/>
<rect x="352.4" y="261.3" width="2.5" height="2.5" fill="#c21a32"/>
<rect x="351.9" y="261.9" width="2.5" height="2.5" fill="#c21a32"/>
<rect x="354.0" y="262.1" width="2.5" height="2.5" fill="#c21a32"/>
<rect x="357.3" y="262.3" width="2.5" height="2.5" fill="#c21a32"/>
<rect x="347.6" y="262.3" width="2.5" height="2.5" fill="#c21a32"/>
<rect x="346.9" y="262.4" width="2.5" height="2.5" fill="#c21a32"/>
<rect x="355.4" y="262.6" width="2.5" height="2.5" fill="#c21a32"/>
<rect x="357.6" y="262.7" width="2.5" height="2.5" fill="#c21a32"/>
<rect x="352.4" y="262.7" width="2.5" height="2.5" fill="#c21a32"/>
<rect x="351.4" y="262.9" width="2.5" height="2.5" fill="#c21a32"/>
<rect x="355.0" y="263.4" width="2.5" height="2.5" fill="#c21a32"/>
<rect x="348.1" y="263.5" width="2.5" height="2.5" fill="#c21a32"/>
<rect x="349.1" y="264.3" width="2.5" height="2.5" fill="#c21a32"/>
<rect x="348.2" y="264.3" width="2.5" height="2.5" fill="#c21a32"/>
<rect x="353.3" y="264.6" width="2.5" height="2.5" fill="#c21a32"/>
<rect x="349.7" y="265.0" width="2.5" height="2.5" fill="#c21a32"/>
<rect x="357.6" y="265.2" width="2.5" height="2.5" fill="#c21a32"/>
<rect x="348.7" y="265.4" width="2.5" height="2.5" fill="#c21a32"/>
<rect x="354.6" y="265.4" width="2.5" height="2.5" fill="#c21a32"/>
<rect x="358.0" y="265.7" width="2.5" height="2.5" fill="#c21a32"/>
<rect x="349.5" y="266.0" width="2.5" height="2.5" fill="#c21a32"/>
<rect x="354.8" y="266.5" width="2.5" height="2.5" fill="#c21a32"/>
<rect x="352.1" y="267.1" width="2.5" height="2.5" fill="#c21a32"/>
<rect x="346.6" y="267.7" width="2.5" height="2.5" fill="#c21a32"/>
<rect x="351.0" y="267.8" width="2.5" height="2.5" fill="#c21a32"/>
<rect x="356.7" y="268.0" width="2.5" height="2.5" fill="#c21a32"/>
<rect x="353.3" y="268.9" width="2.5" height="2.5" fill="#c21a32"/>
<rect x="349.4" y="270.1" width="2.5" height="2.5" fill="#c21a32"/>
<rect x="357.6" y="270.3" width="2.5" height="2.5" fill="#c21a32"/>
<rect x="354.9" y="271.1" width="2.5" height="2.5" fill="#c21a32"/>
<rect x="352.1" y="273.6" width="2.5" height="2.5" fill="#c21a32"/>
<path d="M348.9,258.1 H357.9" stroke="#000" stroke-width="1.4"/>
<path d="M369.4,257.3 L371.0,260.2 L367.8,260.2Z" fill="#7a3c7c"/>
<path d="M370.8,259.5 L372.4,262.4 L369.2,262.4Z" fill="#7a3c7c"/>
<path d="M368.0,259.5 L369.6,262.4 L366.4,262.4Z" fill="#7a3c7c"/>
<path d="M373.5,259.9 L375.1,262.8 L371.9,262.8Z" fill="#7a3c7c"/>
<path d="M365.3,260.2 L366.9,263.1 L363.7,263.1Z" fill="#7a3c7c"/>
<path d="M366.9,260.6 L368.5,263.5 L365.3,263.5Z" fill="#7a3c7c"/>
<path d="M366.4,260.7 L368.0,263.6 L364.8,263.6Z" fill="#7a3c7c"/>
<path d="M364.2,260.9 L365.8,263.8 L362.6,263.8Z" fill="#7a3c7c"/>
<path d="M369.2,261.1 L370.8,264.0 L367.6,264.0Z" fill="#7a3c7c"/>
<path d="M368.1,261.1 L369.7,264.0 L366.5,264.0Z" fill="#7a3c7c"/>
<path d="M365.9,261.7 L367.5,264.6 L364.3,264.6Z" fill="#7a3c7c"/>
<path d="M372.1,262.0 L373.8,264.9 L370.5,264.9Z" fill="#7a3c7c"/>
<path d="M367.9,262.0 L369.5,264.9 L366.3,264.9Z" fill="#7a3c7c"/>
<path d="M367.5,263.2 L369.1,266.1 L365.9,266.1Z" fill="#7a3c7c"/>
<path d="M370.8,264.3 L372.4,267.2 L369.2,267.2Z" fill="#7a3c7c"/>
<path d="M373.5,264.4 L375.1,267.3 L371.9,267.3Z" fill="#7a3c7c"/>
<path d="M368.0,265.7 L369.6,268.6 L366.4,268.6Z" fill="#7a3c7c"/>
<path d="M365.3,265.9 L366.9,268.8 L363.7,268.8Z" fill="#7a3c7c"/>
<path d="M372.4,266.1 L374.0,269.0 L370.8,269.0Z" fill="#7a3c7c"/>
<path d="M365.6,266.9 L367.2,269.8 L364.0,269.8Z" fill="#7a3c7c"/>
<path d="M374.7,267.4 L376.3,270.3 L373.1,270.3Z" fill="#7a3c7c"/>
<path d="M369.2,267.5 L370.8,270.4 L367.6,270.4Z" fill="#7a3c7c"/>
<path d="M370.5,268.1 L372.1,271.0 L368.9,271.0Z" fill="#7a3c7c"/>
<path d="M369.1,268.4 L370.7,271.3 L367.5,271.3Z" fill="#7a3c7c"/>
<path d="M364.9,265.4 H373.9" stroke="#000" stroke-width="1.4"/>
<path d="M385.9,252.7 L387.5,249.8 L384.3,249.8Z" fill="#c9a82a"/>
<path d="M388.6,254.2 L390.2,251.3 L387.0,251.3Z" fill="#c9a82a"/>
<path d="M385.9,255.6 L387.5,252.7 L384.3,252.7Z" fill="#c9a82a"/>
<path d="M387.3,257.8 L388.9,254.9 L385.7,254.9Z" fill="#c9a82a"/>
<path d="M384.5,258.1 L386.1,255.2 L382.9,255.2Z" fill="#c9a82a"/>
<path d="M390.0,259.0 L391.6,256.1 L388.4,256.1Z" fill="#c9a82a"/>
<path d="M381.8,259.5 L383.4,256.6 L380.2,256.6Z" fill="#c9a82a"/>
<path d="M389.8,260.1 L391.4,257.2 L388.2,257.2Z" fill="#c9a82a"/>
<path d="M385.9,260.2 L387.5,257.3 L384.3,257.3Z" fill="#c9a82a"/>
<path d="M389.6,260.9 L391.2,258.0 L388.0,258.0Z" fill="#c9a82a"/>
<path d="M386.6,261.5 L388.2,258.6 L385.0,258.6Z" fill="#c9a82a"/>
<path d="M383.1,262.2 L384.8,259.3 L381.5,259.3Z" fill="#c9a82a"/>
<path d="M380.4,262.3 L382.0,259.4 L378.8,259.4Z" fill="#c9a82a"/>
<path d="M391.4,262.9 L393.0,260.0 L389.8,260.0Z" fill="#c9a82a"/>
<path d="M385.7,263.1 L387.3,260.2 L384.1,260.2Z" fill="#c9a82a"/>
<path d="M388.6,264.0 L390.2,261.1 L387.0,261.1Z" fill="#c9a82a"/>
<path d="M381.8,264.4 L383.4,261.5 L380.2,261.5Z" fill="#c9a82a"/>
<path d="M388.5,264.6 L390.1,261.7 L386.9,261.7Z" fill="#c9a82a"/>
<path d="M390.0,264.8 L391.6,261.9 L388.4,261.9Z" fill="#c9a82a"/>
<path d="M384.7,264.9 L386.3,262.0 L383.1,262.0Z" fill="#c9a82a"/>
<path d="M388.6,265.5 L390.2,262.6 L387.0,262.6Z" fill="#c9a82a"/>
<path d="M380.4,266.5 L382.0,263.6 L378.8,263.6Z" fill="#c9a82a"/>
<path d="M383.1,266.9 L384.8,264.0 L381.5,264.0Z" fill="#c9a82a"/>
<path d="M391.4,266.9 L393.0,264.0 L389.8,264.0Z" fill="#c9a82a"/>
<path d="M391.2,267.1 L392.8,264.2 L389.6,264.2Z" fill="#c9a82a"/>
<path d="M385.9,267.8 L387.5,264.9 L384.3,264.9Z" fill="#c9a82a"/>
<path d="M388.6,268.7 L390.2,265.8 L387.0,265.8Z" fill="#c9a82a"/>
<path d="M381.8,268.9 L383.4,266.0 L380.2,266.0Z" fill="#c9a82a"/>
<path d="M385.5,268.9 L387.1,266.0 L383.9,266.0Z" fill="#c9a82a"/>
<path d="M382.8,269.3 L384.4,266.4 L381.2,266.4Z" fill="#c9a82a"/>
<path d="M382.8,269.3 L384.4,266.4 L381.2,266.4Z" fill="#c9a82a"/>
<path d="M391.4,269.7 L393.0,266.8 L389.8,266.8Z" fill="#c9a82a"/>
<path d="M388.4,269.7 L390.0,266.8 L386.8,266.8Z" fill="#c9a82a"/>
<path d="M387.9,270.3 L389.5,267.4 L386.3,267.4Z" fill="#c9a82a"/>
<path d="M391.2,270.5 L392.8,267.6 L389.6,267.6Z" fill="#c9a82a"/>
<path d="M380.4,271.0 L382.0,268.1 L378.8,268.1Z" fill="#c9a82a"/>
<path d="M384.5,271.3 L386.1,268.4 L382.9,268.4Z" fill="#c9a82a"/>
<path d="M390.0,271.3 L391.6,268.4 L388.4,268.4Z" fill="#c9a82a"/>
<path d="M381.4,263.7 H390.4" stroke="#000" stroke-width="1.4"/>
<path d="M402.0,251.7 L403.5,253.3 L402.0,254.9 L400.5,253.3Z" fill="#d8862c"/>
<path d="M402.0,256.1 L403.5,257.7 L402.0,259.3 L400.5,257.7Z" fill="#d8862c"/>
<path d="M404.8,257.7 L406.2,259.3 L404.8,260.9 L403.2,259.3Z" fill="#d8862c"/>
<path d="M399.2,257.9 L400.8,259.5 L399.2,261.1 L397.8,259.5Z" fill="#d8862c"/>
<path d="M402.0,259.2 L403.5,260.8 L402.0,262.4 L400.5,260.8Z" fill="#d8862c"/>
<path d="M404.8,260.7 L406.2,262.3 L404.8,263.9 L403.2,262.3Z" fill="#d8862c"/>
<path d="M399.2,261.1 L400.8,262.7 L399.2,264.3 L397.8,262.7Z" fill="#d8862c"/>
<path d="M402.0,262.0 L403.5,263.6 L402.0,265.2 L400.5,263.6Z" fill="#d8862c"/>
<path d="M407.5,262.0 L409.0,263.6 L407.5,265.2 L406.0,263.6Z" fill="#d8862c"/>
<path d="M396.5,262.2 L398.0,263.8 L396.5,265.4 L395.0,263.8Z" fill="#d8862c"/>
<path d="M399.0,263.0 L400.5,264.6 L399.0,266.2 L397.5,264.6Z" fill="#d8862c"/>
<path d="M398.4,263.1 L399.9,264.7 L398.4,266.3 L396.9,264.7Z" fill="#d8862c"/>
<path d="M399.2,263.1 L400.7,264.7 L399.2,266.3 L397.7,264.7Z" fill="#d8862c"/>
<path d="M404.8,263.4 L406.2,265.0 L404.8,266.6 L403.2,265.0Z" fill="#d8862c"/>
<path d="M398.4,263.9 L399.9,265.5 L398.4,267.1 L396.9,265.5Z" fill="#d8862c"/>
<path d="M404.4,264.1 L405.9,265.7 L404.4,267.3 L402.9,265.7Z" fill="#d8862c"/>
<path d="M406.2,264.2 L407.7,265.8 L406.2,267.4 L404.7,265.8Z" fill="#d8862c"/>
<path d="M406.6,264.4 L408.1,266.0 L406.6,267.6 L405.1,266.0Z" fill="#d8862c"/>
<path d="M399.2,264.6 L400.7,266.2 L399.2,267.8 L397.7,266.2Z" fill="#d8862c"/>
<path d="M406.2,264.7 L407.7,266.3 L406.2,267.9 L404.7,266.3Z" fill="#d8862c"/>
<path d="M402.0,265.7 L403.5,267.3 L402.0,268.9 L400.5,267.3Z" fill="#d8862c"/>
<path d="M396.5,265.7 L398.0,267.3 L396.5,268.9 L395.0,267.3Z" fill="#d8862c"/>
<path d="M399.8,266.5 L401.3,268.1 L399.8,269.7 L398.3,268.1Z" fill="#d8862c"/>
<path d="M404.8,267.6 L406.2,269.2 L404.8,270.8 L403.2,269.2Z" fill="#d8862c"/>
<path d="M397.9,268.1 L399.4,269.7 L397.9,271.3 L396.4,269.7Z" fill="#d8862c"/>
<path d="M402.0,269.6 L403.5,271.2 L402.0,272.8 L400.5,271.2Z" fill="#d8862c"/>
<path d="M406.1,269.9 L407.6,271.5 L406.1,273.1 L404.6,271.5Z" fill="#d8862c"/>
<path d="M397.5,265.4 H406.5" stroke="#000" stroke-width="1.4"/>
<circle cx="419.0" cy="213.2" r="1.45" fill="#3c3c3c"/>
<circle cx="419.0" cy="217.2" r="1.45" fill="#3c3c3c"/>
<circle cx="419.0" cy="220.5" r="1.45" fill="#3c3c3c"/>
<circle cx="419.0" cy="226.3" r="1.45" fill="#3c3c3c"/>
<circle cx="419.0" cy="229.9" r="1.45" fill="#3c3c3c"/>
<circle cx="419.0" cy="233.6" r="1.45" fill="#3c3c3c"/>
<circle cx="419.0" cy="236.2" r="1.45" fill="#3c3c3c"/>
<circle cx="421.8" cy="238.0" r="1.45" fill="#3c3c3c"/>
<circle cx="419.0" cy="240.2" r="1.45" fill="#3c3c3c"/>
<circle cx="419.0" cy="243.0" r="1.45" fill="#3c3c3c"/>
<circle cx="421.8" cy="244.2" r="1.45" fill="#3c3c3c"/>
<circle cx="419.0" cy="245.7" r="1.45" fill="#3c3c3c"/>
<circle cx="421.8" cy="246.7" r="1.45" fill="#3c3c3c"/>
<circle cx="416.2" cy="247.2" r="1.45" fill="#3c3c3c"/>
<circle cx="424.5" cy="248.0" r="1.45" fill="#3c3c3c"/>
<circle cx="419.0" cy="248.7" r="1.45" fill="#3c3c3c"/>
<circle cx="421.8" cy="250.1" r="1.45" fill="#3c3c3c"/>
<circle cx="419.0" cy="251.2" r="1.45" fill="#3c3c3c"/>
<circle cx="416.2" cy="252.2" r="1.45" fill="#3c3c3c"/>
<circle cx="423.1" cy="252.3" r="1.45" fill="#3c3c3c"/>
<circle cx="413.5" cy="252.7" r="1.45" fill="#3c3c3c"/>
<circle cx="419.0" cy="254.1" r="1.45" fill="#3c3c3c"/>
<circle cx="421.8" cy="255.5" r="1.45" fill="#3c3c3c"/>
<circle cx="416.2" cy="256.0" r="1.45" fill="#3c3c3c"/>
<circle cx="424.5" cy="256.4" r="1.45" fill="#3c3c3c"/>
<circle cx="419.0" cy="256.8" r="1.45" fill="#3c3c3c"/>
<circle cx="413.5" cy="257.4" r="1.45" fill="#3c3c3c"/>
<circle cx="421.8" cy="258.6" r="1.45" fill="#3c3c3c"/>
<circle cx="419.0" cy="260.0" r="1.45" fill="#3c3c3c"/>
<circle cx="421.8" cy="261.1" r="1.45" fill="#3c3c3c"/>
<circle cx="416.2" cy="261.1" r="1.45" fill="#3c3c3c"/>
<circle cx="424.5" cy="261.2" r="1.45" fill="#3c3c3c"/>
<circle cx="413.5" cy="261.3" r="1.45" fill="#3c3c3c"/>
<circle cx="418.0" cy="261.5" r="1.45" fill="#3c3c3c"/>
<circle cx="421.8" cy="261.7" r="1.45" fill="#3c3c3c"/>
<circle cx="413.9" cy="262.2" r="1.45" fill="#3c3c3c"/>
<circle cx="413.9" cy="262.4" r="1.45" fill="#3c3c3c"/>
<circle cx="423.1" cy="262.5" r="1.45" fill="#3c3c3c"/>
<circle cx="419.0" cy="265.0" r="1.45" fill="#3c3c3c"/>
<circle cx="421.8" cy="265.3" r="1.45" fill="#3c3c3c"/>
<circle cx="416.2" cy="266.4" r="1.45" fill="#3c3c3c"/>
<circle cx="424.5" cy="267.2" r="1.45" fill="#3c3c3c"/>
<circle cx="420.4" cy="267.3" r="1.45" fill="#3c3c3c"/>
<path d="M414.5,251.8 H423.5" stroke="#000" stroke-width="1.4"/>
<text x="353.4" y="219.9" font-size="7.2" text-anchor="middle" font-weight="bold" font-style="normal" >***</text>
<text x="418.8" y="209.1" font-size="7.2" text-anchor="middle" font-weight="bold" font-style="normal" >***</text>
<text transform="translate(26.75,52.35) rotate(-90)" font-size="8.2" text-anchor="middle"><tspan>CFU/2x10</tspan><tspan font-size="6.6" dy="-4.3">&#8201;4</tspan><tspan dy="4.3">&#8201;Marrow Cells</tspan></text>
<text transform="translate(172.20000000000002,52.6) rotate(-90)" font-size="8.2" text-anchor="middle"><tspan>CFU/2x10</tspan><tspan font-size="6.6" dy="-4.3">&#8201;4</tspan><tspan dy="4.3">&#8201;Marrow Cells</tspan></text>
<text transform="translate(309.59999999999997,50.2) rotate(-90)" font-size="8.2" text-anchor="middle"><tspan>CFU-MK/10</tspan><tspan font-size="6.6" dy="-4.3">&#8201;5</tspan><tspan dy="4.3">&#8201;Marrow Cells</tspan></text>
<text transform="translate(304.79999999999995,151.7) rotate(-90)" font-size="8.3" text-anchor="middle"><tspan>Megakaryocytes/</tspan></text>
<text transform="translate(313.29999999999995,151.9) rotate(-90)" font-size="8.3" text-anchor="middle"><tspan>Random Field of View</tspan></text>
<text transform="translate(291.09999999999997,239.2) rotate(-90)" font-size="8.2" text-anchor="middle"><tspan>Megakaryocyte</tspan></text>
<text transform="translate(300.9,239.3) rotate(-90)" font-size="8.2" text-anchor="middle"><tspan>Area (&#956;m</tspan><tspan font-size="6.6" dy="-4.3">2</tspan><tspan dy="4.3">)</tspan></text>
<text x="442" y="24.8" font-size="7.6"><tspan>(1) </tspan><tspan font-style="italic">WT</tspan><tspan> into </tspan><tspan font-style="italic">WT</tspan></text>
<text x="442" y="36.0" font-size="7.6"><tspan>(2) VF</tspan><tspan font-size="6.0" dy="-3.4">+</tspan><tspan dy="3.4"> into </tspan><tspan font-style="italic">WT</tspan></text>
<text x="442" y="47.2" font-size="7.6"><tspan>(3) </tspan><tspan font-style="italic">Mpl</tspan><tspan font-size="6.0" dy="-3.4">-/-</tspan><tspan dy="3.4"> into </tspan><tspan font-style="italic">Mpl</tspan><tspan font-size="6.0" dy="-3.4">-/-</tspan></text>
<text x="442" y="58.4" font-size="7.6"><tspan>(4) VF</tspan><tspan font-size="6.0" dy="-3.4">+</tspan><tspan dy="3.4">&#8202;</tspan><tspan font-style="italic">Mpl</tspan><tspan font-size="6.0" dy="-3.4">-/-</tspan><tspan dy="3.4"> into </tspan><tspan font-style="italic">Mpl</tspan><tspan font-size="6.0" dy="-3.4">-/-</tspan></text>
<text x="442" y="69.6" font-size="7.6"><tspan>(5) </tspan><tspan font-style="italic">WT</tspan><tspan> into </tspan><tspan font-style="italic">Tpo</tspan><tspan font-size="6.0" dy="-3.4">-/-</tspan></text>
<text x="442" y="80.8" font-size="7.6"><tspan>(6) VF</tspan><tspan font-size="6.0" dy="-3.4">+</tspan><tspan dy="3.4"> into </tspan><tspan font-style="italic">Tpo</tspan><tspan font-size="6.0" dy="-3.4">-/-</tspan></text>
<text x="0.4" y="119.8" font-size="11" text-anchor="start" font-weight="bold" font-style="normal" >D</text>
<text x="55.2" y="127.3" font-size="8.3" text-anchor="middle"><tspan>(1) </tspan><tspan font-style="italic">WT</tspan><tspan> into </tspan><tspan font-style="italic">WT</tspan></text>
<text x="144.7" y="127.3" font-size="8.3" text-anchor="middle"><tspan>(3) </tspan><tspan font-style="italic">Mpl</tspan><tspan font-size="6.6" dy="-3.8">-/-</tspan><tspan dy="3.8"> into </tspan><tspan font-style="italic">Mpl</tspan><tspan font-size="6.6" dy="-3.8">-/-</tspan></text>
<text x="233" y="127.3" font-size="8.3" text-anchor="middle"><tspan>(5) </tspan><tspan font-style="italic">WT</tspan><tspan> into </tspan><tspan font-style="italic">Tpo</tspan><tspan font-size="6.6" dy="-3.8">-/-</tspan></text>
<text x="53.8" y="212.6" font-size="8.3" text-anchor="middle"><tspan>(2) VF</tspan><tspan font-size="6.6" dy="-3.8">+</tspan><tspan dy="3.8"> into </tspan><tspan font-style="italic">WT</tspan></text>
<text x="145" y="212.6" font-size="8.3" text-anchor="middle"><tspan>(4) VF</tspan><tspan font-size="6.6" dy="-3.8">+</tspan><tspan dy="3.8">&#8202;</tspan><tspan font-style="italic">Mpl</tspan><tspan font-size="6.6" dy="-3.8">-/-</tspan><tspan dy="3.8"> into </tspan><tspan font-style="italic">Mpl</tspan><tspan font-size="6.6" dy="-3.8">-/-</tspan></text>
<text x="232.3" y="212.6" font-size="8.3" text-anchor="middle"><tspan>(6) VF</tspan><tspan font-size="6.6" dy="-3.8">+</tspan><tspan dy="3.8"> into </tspan><tspan font-style="italic">Tpo</tspan><tspan font-size="6.6" dy="-3.8">-/-</tspan></text>
</svg></body></html>
